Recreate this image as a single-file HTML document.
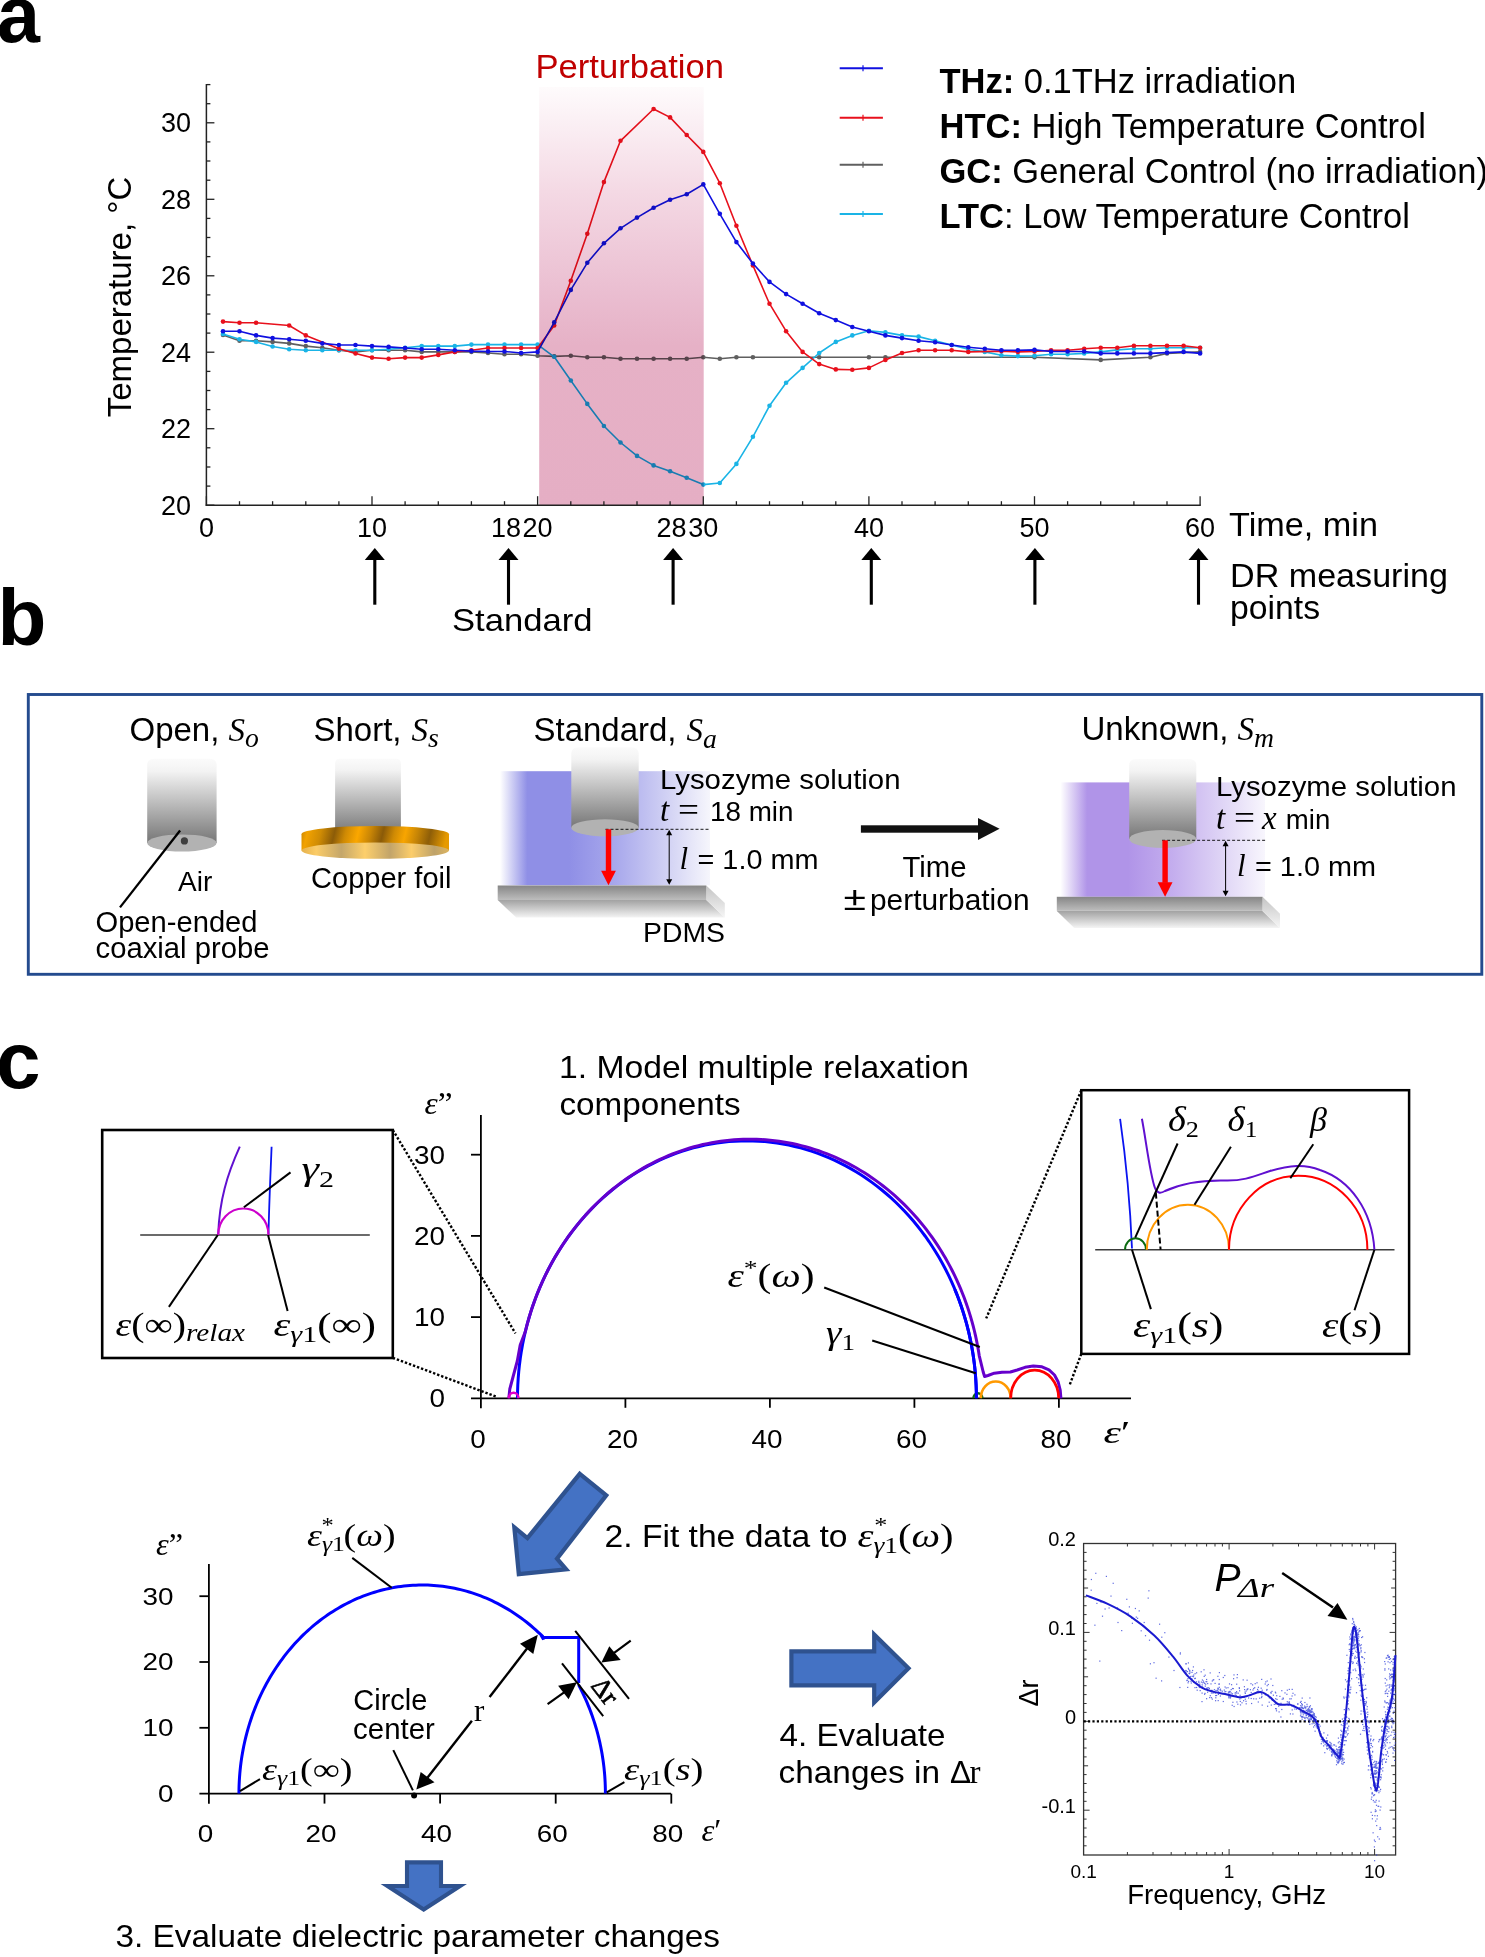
<!DOCTYPE html>
<html><head><meta charset="utf-8"><style>
html,body{margin:0;padding:0;background:#fff;}
body{width:1485px;height:1957px;overflow:hidden;}
svg{display:block;}
</style></head><body>
<svg width="1485" height="1957" viewBox="0 0 1485 1957">
<defs><linearGradient id="pinkg" x1="0" y1="0" x2="0" y2="1"><stop offset="0" stop-color="#fefbfc"/><stop offset="0.25" stop-color="#f4d9e4"/><stop offset="0.5" stop-color="#eabdd0"/><stop offset="0.62" stop-color="#e6b1c6"/><stop offset="1" stop-color="#e5aec4"/></linearGradient><linearGradient id="cylg" x1="0" y1="0" x2="0" y2="1"><stop offset="0" stop-color="#fbfbfb"/><stop offset="0.15" stop-color="#f3f3f3"/><stop offset="0.5" stop-color="#c0c0c0"/><stop offset="1" stop-color="#767676"/></linearGradient><linearGradient id="slab1" x1="0" y1="0" x2="0" y2="1"><stop offset="0" stop-color="#868686"/><stop offset="1" stop-color="#bdbdbd"/></linearGradient><linearGradient id="slab2" x1="0" y1="0" x2="0" y2="1"><stop offset="0" stop-color="#a2a2a2"/><stop offset="1" stop-color="#f4f4f4"/></linearGradient><linearGradient id="slab3" x1="0" y1="0" x2="0" y2="1"><stop offset="0" stop-color="#c4c4c4"/><stop offset="1" stop-color="#f6f6f6"/></linearGradient><linearGradient id="solb" x1="0" y1="0" x2="1" y2="0"><stop offset="0" stop-color="#ffffff"/><stop offset="0.13" stop-color="#8f8fe6"/><stop offset="0.33" stop-color="#8f8fe6"/><stop offset="0.55" stop-color="#a8a8ec"/><stop offset="0.8" stop-color="#d2d2f4"/><stop offset="1" stop-color="#f6f6fc"/></linearGradient><linearGradient id="solp" x1="0" y1="0" x2="1" y2="0"><stop offset="0" stop-color="#ffffff"/><stop offset="0.13" stop-color="#b094e8"/><stop offset="0.33" stop-color="#b094e8"/><stop offset="0.55" stop-color="#c4aeee"/><stop offset="0.8" stop-color="#e0d6f6"/><stop offset="1" stop-color="#f8f6fd"/></linearGradient><linearGradient id="foilside" x1="0" y1="0" x2="1" y2="0.04"><stop offset="0" stop-color="#c98400"/><stop offset="0.05" stop-color="#f2a200"/><stop offset="0.14" stop-color="#d08c04"/><stop offset="0.234" stop-color="#8c5c08"/><stop offset="0.31" stop-color="#cf8a04"/><stop offset="0.395" stop-color="#fba700"/><stop offset="0.48" stop-color="#c88506"/><stop offset="0.562" stop-color="#8a5a08"/><stop offset="0.64" stop-color="#cf8a04"/><stop offset="0.715" stop-color="#f8a500"/><stop offset="0.8" stop-color="#c58406"/><stop offset="0.884" stop-color="#8e5e08"/><stop offset="1" stop-color="#e69a00"/></linearGradient><linearGradient id="foilface" x1="0" y1="0" x2="1" y2="0"><stop offset="0" stop-color="#e6b24c"/><stop offset="0.1" stop-color="#fbcc68"/><stop offset="0.27" stop-color="#c4a66a"/><stop offset="0.43" stop-color="#fdcf6c"/><stop offset="0.6" stop-color="#c2a46a"/><stop offset="0.745" stop-color="#fccd6a"/><stop offset="0.9" stop-color="#bea26a"/><stop offset="1" stop-color="#dcb460"/></linearGradient></defs>
<rect width="1485" height="1957" fill="#fff"/>
<text x="-3" y="42" font-size="80" font-weight="bold" font-family='"Liberation Sans", sans-serif' textLength="43" lengthAdjust="spacingAndGlyphs">a</text>
<g><polyline points="223.0,335.0 239.5,340.8 256.1,340.8 272.6,341.9 289.2,343.4 305.8,346.1 322.3,347.7 338.9,350.3 355.5,351.9 372.0,350.3 388.6,350.3 405.1,350.3 421.7,351.9 438.3,351.9 454.8,351.9 471.4,351.9 488.0,353.0 504.5,354.2 521.1,354.2 537.6,355.7 554.2,356.4 570.8,355.7 587.3,357.2 603.9,357.2 620.5,358.7 637.0,358.7 653.6,358.7 670.1,358.7 686.7,358.7 703.3,357.2 719.8,358.7 736.4,357.2 752.9,357.2 819.2,357.2 868.9,357.2 885.4,357.2 1034.5,357.2 1100.7,359.9 1150.4,357.2 1167.0,353.4 1200.1,351.9" fill="none" stroke="#5f5f5f" stroke-width="1.6" stroke-linejoin="round"/><circle cx="223.0" cy="335.0" r="2.3" fill="#5f5f5f"/><circle cx="239.5" cy="340.8" r="2.3" fill="#5f5f5f"/><circle cx="256.1" cy="340.8" r="2.3" fill="#5f5f5f"/><circle cx="272.6" cy="341.9" r="2.3" fill="#5f5f5f"/><circle cx="289.2" cy="343.4" r="2.3" fill="#5f5f5f"/><circle cx="305.8" cy="346.1" r="2.3" fill="#5f5f5f"/><circle cx="322.3" cy="347.7" r="2.3" fill="#5f5f5f"/><circle cx="338.9" cy="350.3" r="2.3" fill="#5f5f5f"/><circle cx="355.5" cy="351.9" r="2.3" fill="#5f5f5f"/><circle cx="372.0" cy="350.3" r="2.3" fill="#5f5f5f"/><circle cx="388.6" cy="350.3" r="2.3" fill="#5f5f5f"/><circle cx="405.1" cy="350.3" r="2.3" fill="#5f5f5f"/><circle cx="421.7" cy="351.9" r="2.3" fill="#5f5f5f"/><circle cx="438.3" cy="351.9" r="2.3" fill="#5f5f5f"/><circle cx="454.8" cy="351.9" r="2.3" fill="#5f5f5f"/><circle cx="471.4" cy="351.9" r="2.3" fill="#5f5f5f"/><circle cx="488.0" cy="353.0" r="2.3" fill="#5f5f5f"/><circle cx="504.5" cy="354.2" r="2.3" fill="#5f5f5f"/><circle cx="521.1" cy="354.2" r="2.3" fill="#5f5f5f"/><circle cx="537.6" cy="355.7" r="2.3" fill="#5f5f5f"/><circle cx="554.2" cy="356.4" r="2.3" fill="#5f5f5f"/><circle cx="570.8" cy="355.7" r="2.3" fill="#5f5f5f"/><circle cx="587.3" cy="357.2" r="2.3" fill="#5f5f5f"/><circle cx="603.9" cy="357.2" r="2.3" fill="#5f5f5f"/><circle cx="620.5" cy="358.7" r="2.3" fill="#5f5f5f"/><circle cx="637.0" cy="358.7" r="2.3" fill="#5f5f5f"/><circle cx="653.6" cy="358.7" r="2.3" fill="#5f5f5f"/><circle cx="670.1" cy="358.7" r="2.3" fill="#5f5f5f"/><circle cx="686.7" cy="358.7" r="2.3" fill="#5f5f5f"/><circle cx="703.3" cy="357.2" r="2.3" fill="#5f5f5f"/><circle cx="719.8" cy="358.7" r="2.3" fill="#5f5f5f"/><circle cx="736.4" cy="357.2" r="2.3" fill="#5f5f5f"/><circle cx="752.9" cy="357.2" r="2.3" fill="#5f5f5f"/><circle cx="819.2" cy="357.2" r="2.3" fill="#5f5f5f"/><circle cx="868.9" cy="357.2" r="2.3" fill="#5f5f5f"/><circle cx="885.4" cy="357.2" r="2.3" fill="#5f5f5f"/><circle cx="1034.5" cy="357.2" r="2.3" fill="#5f5f5f"/><circle cx="1100.7" cy="359.9" r="2.3" fill="#5f5f5f"/><circle cx="1150.4" cy="357.2" r="2.3" fill="#5f5f5f"/><circle cx="1167.0" cy="353.4" r="2.3" fill="#5f5f5f"/><circle cx="1200.1" cy="351.9" r="2.3" fill="#5f5f5f"/><polyline points="223.0,333.9 239.5,339.2 256.1,341.9 272.6,346.5 289.2,349.2 305.8,350.3 322.3,350.3 338.9,350.3 355.5,350.3 372.0,350.3 388.6,349.2 405.1,347.7 421.7,346.1 438.3,346.1 454.8,346.1 471.4,344.6 488.0,344.6 504.5,344.6 521.1,344.6 537.6,344.6 554.2,356.8 570.8,380.5 587.3,403.9 603.9,426.0 620.5,442.5 637.0,455.9 653.6,465.4 670.1,471.2 686.7,477.7 703.3,484.6 719.8,483.0 736.4,463.9 752.9,436.8 769.5,405.8 786.1,382.8 802.6,367.9 819.2,353.0 835.8,341.9 852.3,335.4 868.9,330.8 885.4,332.4 902.0,335.4 918.6,336.6 935.1,340.8 951.7,345.0 968.3,349.2 984.8,351.9 1001.4,355.3 1017.9,356.1 1034.5,355.7 1051.1,354.2 1067.6,354.2 1084.2,353.4 1100.7,351.9 1117.3,349.9 1133.9,348.8 1150.4,348.8 1167.0,347.7 1183.6,347.7 1200.1,347.7" fill="none" stroke="#1ab4e6" stroke-width="1.6" stroke-linejoin="round"/><circle cx="223.0" cy="333.9" r="2.3" fill="#1ab4e6"/><circle cx="239.5" cy="339.2" r="2.3" fill="#1ab4e6"/><circle cx="256.1" cy="341.9" r="2.3" fill="#1ab4e6"/><circle cx="272.6" cy="346.5" r="2.3" fill="#1ab4e6"/><circle cx="289.2" cy="349.2" r="2.3" fill="#1ab4e6"/><circle cx="305.8" cy="350.3" r="2.3" fill="#1ab4e6"/><circle cx="322.3" cy="350.3" r="2.3" fill="#1ab4e6"/><circle cx="338.9" cy="350.3" r="2.3" fill="#1ab4e6"/><circle cx="355.5" cy="350.3" r="2.3" fill="#1ab4e6"/><circle cx="372.0" cy="350.3" r="2.3" fill="#1ab4e6"/><circle cx="388.6" cy="349.2" r="2.3" fill="#1ab4e6"/><circle cx="405.1" cy="347.7" r="2.3" fill="#1ab4e6"/><circle cx="421.7" cy="346.1" r="2.3" fill="#1ab4e6"/><circle cx="438.3" cy="346.1" r="2.3" fill="#1ab4e6"/><circle cx="454.8" cy="346.1" r="2.3" fill="#1ab4e6"/><circle cx="471.4" cy="344.6" r="2.3" fill="#1ab4e6"/><circle cx="488.0" cy="344.6" r="2.3" fill="#1ab4e6"/><circle cx="504.5" cy="344.6" r="2.3" fill="#1ab4e6"/><circle cx="521.1" cy="344.6" r="2.3" fill="#1ab4e6"/><circle cx="537.6" cy="344.6" r="2.3" fill="#1ab4e6"/><circle cx="554.2" cy="356.8" r="2.3" fill="#1ab4e6"/><circle cx="570.8" cy="380.5" r="2.3" fill="#1ab4e6"/><circle cx="587.3" cy="403.9" r="2.3" fill="#1ab4e6"/><circle cx="603.9" cy="426.0" r="2.3" fill="#1ab4e6"/><circle cx="620.5" cy="442.5" r="2.3" fill="#1ab4e6"/><circle cx="637.0" cy="455.9" r="2.3" fill="#1ab4e6"/><circle cx="653.6" cy="465.4" r="2.3" fill="#1ab4e6"/><circle cx="670.1" cy="471.2" r="2.3" fill="#1ab4e6"/><circle cx="686.7" cy="477.7" r="2.3" fill="#1ab4e6"/><circle cx="703.3" cy="484.6" r="2.3" fill="#1ab4e6"/><circle cx="719.8" cy="483.0" r="2.3" fill="#1ab4e6"/><circle cx="736.4" cy="463.9" r="2.3" fill="#1ab4e6"/><circle cx="752.9" cy="436.8" r="2.3" fill="#1ab4e6"/><circle cx="769.5" cy="405.8" r="2.3" fill="#1ab4e6"/><circle cx="786.1" cy="382.8" r="2.3" fill="#1ab4e6"/><circle cx="802.6" cy="367.9" r="2.3" fill="#1ab4e6"/><circle cx="819.2" cy="353.0" r="2.3" fill="#1ab4e6"/><circle cx="835.8" cy="341.9" r="2.3" fill="#1ab4e6"/><circle cx="852.3" cy="335.4" r="2.3" fill="#1ab4e6"/><circle cx="868.9" cy="330.8" r="2.3" fill="#1ab4e6"/><circle cx="885.4" cy="332.4" r="2.3" fill="#1ab4e6"/><circle cx="902.0" cy="335.4" r="2.3" fill="#1ab4e6"/><circle cx="918.6" cy="336.6" r="2.3" fill="#1ab4e6"/><circle cx="935.1" cy="340.8" r="2.3" fill="#1ab4e6"/><circle cx="951.7" cy="345.0" r="2.3" fill="#1ab4e6"/><circle cx="968.3" cy="349.2" r="2.3" fill="#1ab4e6"/><circle cx="984.8" cy="351.9" r="2.3" fill="#1ab4e6"/><circle cx="1001.4" cy="355.3" r="2.3" fill="#1ab4e6"/><circle cx="1017.9" cy="356.1" r="2.3" fill="#1ab4e6"/><circle cx="1034.5" cy="355.7" r="2.3" fill="#1ab4e6"/><circle cx="1051.1" cy="354.2" r="2.3" fill="#1ab4e6"/><circle cx="1067.6" cy="354.2" r="2.3" fill="#1ab4e6"/><circle cx="1084.2" cy="353.4" r="2.3" fill="#1ab4e6"/><circle cx="1100.7" cy="351.9" r="2.3" fill="#1ab4e6"/><circle cx="1117.3" cy="349.9" r="2.3" fill="#1ab4e6"/><circle cx="1133.9" cy="348.8" r="2.3" fill="#1ab4e6"/><circle cx="1150.4" cy="348.8" r="2.3" fill="#1ab4e6"/><circle cx="1167.0" cy="347.7" r="2.3" fill="#1ab4e6"/><circle cx="1183.6" cy="347.7" r="2.3" fill="#1ab4e6"/><circle cx="1200.1" cy="347.7" r="2.3" fill="#1ab4e6"/><polyline points="223.0,321.6 239.5,322.8 256.1,322.8 289.2,325.5 305.8,335.4 338.9,348.8 355.5,353.4 372.0,357.6 388.6,358.7 405.1,357.6 421.7,357.6 438.3,354.9 454.8,351.9 471.4,350.3 488.0,348.0 504.5,348.0 521.1,348.0 537.6,348.0 554.2,325.5 570.8,280.7 587.3,233.7 603.9,182.1 620.5,140.8 653.6,109.0 670.1,117.4 686.7,135.0 703.3,151.9 719.8,183.2 736.4,225.7 752.9,265.4 769.5,303.7 786.1,331.2 802.6,351.9 819.2,364.1 835.8,369.4 852.3,369.8 868.9,367.9 885.4,359.9 902.0,353.0 918.6,350.3 935.1,350.3 951.7,350.3 968.3,351.9 1001.4,351.1 1017.9,351.9 1034.5,351.5 1051.1,350.3 1067.6,350.3 1084.2,348.8 1100.7,347.7 1117.3,347.7 1133.9,345.7 1150.4,345.7 1167.0,345.7 1183.6,345.7 1200.1,347.7" fill="none" stroke="#e8101c" stroke-width="1.6" stroke-linejoin="round"/><circle cx="223.0" cy="321.6" r="2.3" fill="#e8101c"/><circle cx="239.5" cy="322.8" r="2.3" fill="#e8101c"/><circle cx="256.1" cy="322.8" r="2.3" fill="#e8101c"/><circle cx="289.2" cy="325.5" r="2.3" fill="#e8101c"/><circle cx="305.8" cy="335.4" r="2.3" fill="#e8101c"/><circle cx="338.9" cy="348.8" r="2.3" fill="#e8101c"/><circle cx="355.5" cy="353.4" r="2.3" fill="#e8101c"/><circle cx="372.0" cy="357.6" r="2.3" fill="#e8101c"/><circle cx="388.6" cy="358.7" r="2.3" fill="#e8101c"/><circle cx="405.1" cy="357.6" r="2.3" fill="#e8101c"/><circle cx="421.7" cy="357.6" r="2.3" fill="#e8101c"/><circle cx="438.3" cy="354.9" r="2.3" fill="#e8101c"/><circle cx="454.8" cy="351.9" r="2.3" fill="#e8101c"/><circle cx="471.4" cy="350.3" r="2.3" fill="#e8101c"/><circle cx="488.0" cy="348.0" r="2.3" fill="#e8101c"/><circle cx="504.5" cy="348.0" r="2.3" fill="#e8101c"/><circle cx="521.1" cy="348.0" r="2.3" fill="#e8101c"/><circle cx="537.6" cy="348.0" r="2.3" fill="#e8101c"/><circle cx="554.2" cy="325.5" r="2.3" fill="#e8101c"/><circle cx="570.8" cy="280.7" r="2.3" fill="#e8101c"/><circle cx="587.3" cy="233.7" r="2.3" fill="#e8101c"/><circle cx="603.9" cy="182.1" r="2.3" fill="#e8101c"/><circle cx="620.5" cy="140.8" r="2.3" fill="#e8101c"/><circle cx="653.6" cy="109.0" r="2.3" fill="#e8101c"/><circle cx="670.1" cy="117.4" r="2.3" fill="#e8101c"/><circle cx="686.7" cy="135.0" r="2.3" fill="#e8101c"/><circle cx="703.3" cy="151.9" r="2.3" fill="#e8101c"/><circle cx="719.8" cy="183.2" r="2.3" fill="#e8101c"/><circle cx="736.4" cy="225.7" r="2.3" fill="#e8101c"/><circle cx="752.9" cy="265.4" r="2.3" fill="#e8101c"/><circle cx="769.5" cy="303.7" r="2.3" fill="#e8101c"/><circle cx="786.1" cy="331.2" r="2.3" fill="#e8101c"/><circle cx="802.6" cy="351.9" r="2.3" fill="#e8101c"/><circle cx="819.2" cy="364.1" r="2.3" fill="#e8101c"/><circle cx="835.8" cy="369.4" r="2.3" fill="#e8101c"/><circle cx="852.3" cy="369.8" r="2.3" fill="#e8101c"/><circle cx="868.9" cy="367.9" r="2.3" fill="#e8101c"/><circle cx="885.4" cy="359.9" r="2.3" fill="#e8101c"/><circle cx="902.0" cy="353.0" r="2.3" fill="#e8101c"/><circle cx="918.6" cy="350.3" r="2.3" fill="#e8101c"/><circle cx="935.1" cy="350.3" r="2.3" fill="#e8101c"/><circle cx="951.7" cy="350.3" r="2.3" fill="#e8101c"/><circle cx="968.3" cy="351.9" r="2.3" fill="#e8101c"/><circle cx="1001.4" cy="351.1" r="2.3" fill="#e8101c"/><circle cx="1017.9" cy="351.9" r="2.3" fill="#e8101c"/><circle cx="1034.5" cy="351.5" r="2.3" fill="#e8101c"/><circle cx="1051.1" cy="350.3" r="2.3" fill="#e8101c"/><circle cx="1067.6" cy="350.3" r="2.3" fill="#e8101c"/><circle cx="1084.2" cy="348.8" r="2.3" fill="#e8101c"/><circle cx="1100.7" cy="347.7" r="2.3" fill="#e8101c"/><circle cx="1117.3" cy="347.7" r="2.3" fill="#e8101c"/><circle cx="1133.9" cy="345.7" r="2.3" fill="#e8101c"/><circle cx="1150.4" cy="345.7" r="2.3" fill="#e8101c"/><circle cx="1167.0" cy="345.7" r="2.3" fill="#e8101c"/><circle cx="1183.6" cy="345.7" r="2.3" fill="#e8101c"/><circle cx="1200.1" cy="347.7" r="2.3" fill="#e8101c"/><polyline points="223.0,331.2 239.5,331.2 256.1,335.4 272.6,338.1 289.2,339.2 305.8,340.8 322.3,343.4 338.9,345.0 355.5,345.0 372.0,346.1 388.6,346.9 405.1,348.0 421.7,349.2 438.3,349.2 454.8,350.3 471.4,351.1 488.0,351.5 504.5,351.5 521.1,353.0 537.6,351.9 554.2,322.4 570.8,289.9 587.3,262.8 603.9,243.3 620.5,228.3 637.0,217.6 653.6,207.7 670.1,199.7 686.7,194.3 703.3,184.4 719.8,213.8 736.4,242.1 752.9,263.5 769.5,281.9 786.1,294.1 802.6,303.7 819.2,313.2 835.8,320.1 852.3,327.0 868.9,331.2 885.4,335.4 902.0,338.1 918.6,340.8 935.1,342.3 951.7,345.0 968.3,347.3 984.8,348.8 1001.4,350.3 1017.9,350.3 1034.5,349.9 1051.1,351.5 1067.6,351.5 1084.2,351.5 1100.7,353.4 1117.3,353.4 1133.9,353.4 1150.4,353.4 1167.0,352.6 1183.6,351.9 1200.1,353.4" fill="none" stroke="#1010e0" stroke-width="1.6" stroke-linejoin="round"/><circle cx="223.0" cy="331.2" r="2.3" fill="#1010e0"/><circle cx="239.5" cy="331.2" r="2.3" fill="#1010e0"/><circle cx="256.1" cy="335.4" r="2.3" fill="#1010e0"/><circle cx="272.6" cy="338.1" r="2.3" fill="#1010e0"/><circle cx="289.2" cy="339.2" r="2.3" fill="#1010e0"/><circle cx="305.8" cy="340.8" r="2.3" fill="#1010e0"/><circle cx="322.3" cy="343.4" r="2.3" fill="#1010e0"/><circle cx="338.9" cy="345.0" r="2.3" fill="#1010e0"/><circle cx="355.5" cy="345.0" r="2.3" fill="#1010e0"/><circle cx="372.0" cy="346.1" r="2.3" fill="#1010e0"/><circle cx="388.6" cy="346.9" r="2.3" fill="#1010e0"/><circle cx="405.1" cy="348.0" r="2.3" fill="#1010e0"/><circle cx="421.7" cy="349.2" r="2.3" fill="#1010e0"/><circle cx="438.3" cy="349.2" r="2.3" fill="#1010e0"/><circle cx="454.8" cy="350.3" r="2.3" fill="#1010e0"/><circle cx="471.4" cy="351.1" r="2.3" fill="#1010e0"/><circle cx="488.0" cy="351.5" r="2.3" fill="#1010e0"/><circle cx="504.5" cy="351.5" r="2.3" fill="#1010e0"/><circle cx="521.1" cy="353.0" r="2.3" fill="#1010e0"/><circle cx="537.6" cy="351.9" r="2.3" fill="#1010e0"/><circle cx="554.2" cy="322.4" r="2.3" fill="#1010e0"/><circle cx="570.8" cy="289.9" r="2.3" fill="#1010e0"/><circle cx="587.3" cy="262.8" r="2.3" fill="#1010e0"/><circle cx="603.9" cy="243.3" r="2.3" fill="#1010e0"/><circle cx="620.5" cy="228.3" r="2.3" fill="#1010e0"/><circle cx="637.0" cy="217.6" r="2.3" fill="#1010e0"/><circle cx="653.6" cy="207.7" r="2.3" fill="#1010e0"/><circle cx="670.1" cy="199.7" r="2.3" fill="#1010e0"/><circle cx="686.7" cy="194.3" r="2.3" fill="#1010e0"/><circle cx="703.3" cy="184.4" r="2.3" fill="#1010e0"/><circle cx="719.8" cy="213.8" r="2.3" fill="#1010e0"/><circle cx="736.4" cy="242.1" r="2.3" fill="#1010e0"/><circle cx="752.9" cy="263.5" r="2.3" fill="#1010e0"/><circle cx="769.5" cy="281.9" r="2.3" fill="#1010e0"/><circle cx="786.1" cy="294.1" r="2.3" fill="#1010e0"/><circle cx="802.6" cy="303.7" r="2.3" fill="#1010e0"/><circle cx="819.2" cy="313.2" r="2.3" fill="#1010e0"/><circle cx="835.8" cy="320.1" r="2.3" fill="#1010e0"/><circle cx="852.3" cy="327.0" r="2.3" fill="#1010e0"/><circle cx="868.9" cy="331.2" r="2.3" fill="#1010e0"/><circle cx="885.4" cy="335.4" r="2.3" fill="#1010e0"/><circle cx="902.0" cy="338.1" r="2.3" fill="#1010e0"/><circle cx="918.6" cy="340.8" r="2.3" fill="#1010e0"/><circle cx="935.1" cy="342.3" r="2.3" fill="#1010e0"/><circle cx="951.7" cy="345.0" r="2.3" fill="#1010e0"/><circle cx="968.3" cy="347.3" r="2.3" fill="#1010e0"/><circle cx="984.8" cy="348.8" r="2.3" fill="#1010e0"/><circle cx="1001.4" cy="350.3" r="2.3" fill="#1010e0"/><circle cx="1017.9" cy="350.3" r="2.3" fill="#1010e0"/><circle cx="1034.5" cy="349.9" r="2.3" fill="#1010e0"/><circle cx="1051.1" cy="351.5" r="2.3" fill="#1010e0"/><circle cx="1067.6" cy="351.5" r="2.3" fill="#1010e0"/><circle cx="1084.2" cy="351.5" r="2.3" fill="#1010e0"/><circle cx="1100.7" cy="353.4" r="2.3" fill="#1010e0"/><circle cx="1117.3" cy="353.4" r="2.3" fill="#1010e0"/><circle cx="1133.9" cy="353.4" r="2.3" fill="#1010e0"/><circle cx="1150.4" cy="353.4" r="2.3" fill="#1010e0"/><circle cx="1167.0" cy="352.6" r="2.3" fill="#1010e0"/><circle cx="1183.6" cy="351.9" r="2.3" fill="#1010e0"/><circle cx="1200.1" cy="353.4" r="2.3" fill="#1010e0"/></g>
<rect x="539.2" y="87" width="164.5" height="418.2" fill="url(#pinkg)" style="mix-blend-mode:multiply"/>
<line x1="206.4" y1="84" x2="206.4" y2="505.9" stroke="#222" stroke-width="1.5"/>
<line x1="205.70000000000002" y1="505.2" x2="1200.8200000000002" y2="505.2" stroke="#222" stroke-width="1.5"/>
<line x1="206.4" y1="505.2" x2="214.4" y2="505.2" stroke="#222" stroke-width="1.3"/>
<line x1="206.4" y1="486.1" x2="210.4" y2="486.1" stroke="#222" stroke-width="1.3"/>
<line x1="206.4" y1="467.0" x2="210.4" y2="467.0" stroke="#222" stroke-width="1.3"/>
<line x1="206.4" y1="447.8" x2="210.4" y2="447.8" stroke="#222" stroke-width="1.3"/>
<line x1="206.4" y1="428.7" x2="214.4" y2="428.7" stroke="#222" stroke-width="1.3"/>
<line x1="206.4" y1="409.6" x2="210.4" y2="409.6" stroke="#222" stroke-width="1.3"/>
<line x1="206.4" y1="390.5" x2="210.4" y2="390.5" stroke="#222" stroke-width="1.3"/>
<line x1="206.4" y1="371.4" x2="210.4" y2="371.4" stroke="#222" stroke-width="1.3"/>
<line x1="206.4" y1="352.2" x2="214.4" y2="352.2" stroke="#222" stroke-width="1.3"/>
<line x1="206.4" y1="333.1" x2="210.4" y2="333.1" stroke="#222" stroke-width="1.3"/>
<line x1="206.4" y1="314.0" x2="210.4" y2="314.0" stroke="#222" stroke-width="1.3"/>
<line x1="206.4" y1="294.9" x2="210.4" y2="294.9" stroke="#222" stroke-width="1.3"/>
<line x1="206.4" y1="275.8" x2="214.4" y2="275.8" stroke="#222" stroke-width="1.3"/>
<line x1="206.4" y1="256.6" x2="210.4" y2="256.6" stroke="#222" stroke-width="1.3"/>
<line x1="206.4" y1="237.5" x2="210.4" y2="237.5" stroke="#222" stroke-width="1.3"/>
<line x1="206.4" y1="218.4" x2="210.4" y2="218.4" stroke="#222" stroke-width="1.3"/>
<line x1="206.4" y1="199.3" x2="214.4" y2="199.3" stroke="#222" stroke-width="1.3"/>
<line x1="206.4" y1="180.2" x2="210.4" y2="180.2" stroke="#222" stroke-width="1.3"/>
<line x1="206.4" y1="161.0" x2="210.4" y2="161.0" stroke="#222" stroke-width="1.3"/>
<line x1="206.4" y1="141.9" x2="210.4" y2="141.9" stroke="#222" stroke-width="1.3"/>
<line x1="206.4" y1="122.8" x2="214.4" y2="122.8" stroke="#222" stroke-width="1.3"/>
<line x1="206.4" y1="103.7" x2="210.4" y2="103.7" stroke="#222" stroke-width="1.3"/>
<line x1="206.4" y1="84.6" x2="210.4" y2="84.6" stroke="#222" stroke-width="1.3"/>
<text x="191" y="514.7" font-size="27" text-anchor="end" font-weight="normal" font-style="normal" fill="#000" font-family='"Liberation Sans", sans-serif' >20</text>
<text x="191" y="438.2" font-size="27" text-anchor="end" font-weight="normal" font-style="normal" fill="#000" font-family='"Liberation Sans", sans-serif' >22</text>
<text x="191" y="361.7" font-size="27" text-anchor="end" font-weight="normal" font-style="normal" fill="#000" font-family='"Liberation Sans", sans-serif' >24</text>
<text x="191" y="285.3" font-size="27" text-anchor="end" font-weight="normal" font-style="normal" fill="#000" font-family='"Liberation Sans", sans-serif' >26</text>
<text x="191" y="208.8" font-size="27" text-anchor="end" font-weight="normal" font-style="normal" fill="#000" font-family='"Liberation Sans", sans-serif' >28</text>
<text x="191" y="132.3" font-size="27" text-anchor="end" font-weight="normal" font-style="normal" fill="#000" font-family='"Liberation Sans", sans-serif' >30</text>
<line x1="206.4" y1="505.2" x2="206.4" y2="496.2" stroke="#222" stroke-width="1.3"/>
<line x1="239.5" y1="505.2" x2="239.5" y2="501.2" stroke="#222" stroke-width="1.3"/>
<line x1="272.6" y1="505.2" x2="272.6" y2="501.2" stroke="#222" stroke-width="1.3"/>
<line x1="305.8" y1="505.2" x2="305.8" y2="501.2" stroke="#222" stroke-width="1.3"/>
<line x1="338.9" y1="505.2" x2="338.9" y2="501.2" stroke="#222" stroke-width="1.3"/>
<line x1="372.0" y1="505.2" x2="372.0" y2="496.2" stroke="#222" stroke-width="1.3"/>
<line x1="405.1" y1="505.2" x2="405.1" y2="501.2" stroke="#222" stroke-width="1.3"/>
<line x1="438.3" y1="505.2" x2="438.3" y2="501.2" stroke="#222" stroke-width="1.3"/>
<line x1="471.4" y1="505.2" x2="471.4" y2="501.2" stroke="#222" stroke-width="1.3"/>
<line x1="504.5" y1="505.2" x2="504.5" y2="501.2" stroke="#222" stroke-width="1.3"/>
<line x1="537.6" y1="505.2" x2="537.6" y2="496.2" stroke="#222" stroke-width="1.3"/>
<line x1="570.8" y1="505.2" x2="570.8" y2="501.2" stroke="#222" stroke-width="1.3"/>
<line x1="603.9" y1="505.2" x2="603.9" y2="501.2" stroke="#222" stroke-width="1.3"/>
<line x1="637.0" y1="505.2" x2="637.0" y2="501.2" stroke="#222" stroke-width="1.3"/>
<line x1="670.1" y1="505.2" x2="670.1" y2="501.2" stroke="#222" stroke-width="1.3"/>
<line x1="703.3" y1="505.2" x2="703.3" y2="496.2" stroke="#222" stroke-width="1.3"/>
<line x1="736.4" y1="505.2" x2="736.4" y2="501.2" stroke="#222" stroke-width="1.3"/>
<line x1="769.5" y1="505.2" x2="769.5" y2="501.2" stroke="#222" stroke-width="1.3"/>
<line x1="802.6" y1="505.2" x2="802.6" y2="501.2" stroke="#222" stroke-width="1.3"/>
<line x1="835.8" y1="505.2" x2="835.8" y2="501.2" stroke="#222" stroke-width="1.3"/>
<line x1="868.9" y1="505.2" x2="868.9" y2="496.2" stroke="#222" stroke-width="1.3"/>
<line x1="902.0" y1="505.2" x2="902.0" y2="501.2" stroke="#222" stroke-width="1.3"/>
<line x1="935.1" y1="505.2" x2="935.1" y2="501.2" stroke="#222" stroke-width="1.3"/>
<line x1="968.3" y1="505.2" x2="968.3" y2="501.2" stroke="#222" stroke-width="1.3"/>
<line x1="1001.4" y1="505.2" x2="1001.4" y2="501.2" stroke="#222" stroke-width="1.3"/>
<line x1="1034.5" y1="505.2" x2="1034.5" y2="496.2" stroke="#222" stroke-width="1.3"/>
<line x1="1067.6" y1="505.2" x2="1067.6" y2="501.2" stroke="#222" stroke-width="1.3"/>
<line x1="1100.7" y1="505.2" x2="1100.7" y2="501.2" stroke="#222" stroke-width="1.3"/>
<line x1="1133.9" y1="505.2" x2="1133.9" y2="501.2" stroke="#222" stroke-width="1.3"/>
<line x1="1167.0" y1="505.2" x2="1167.0" y2="501.2" stroke="#222" stroke-width="1.3"/>
<line x1="1200.1" y1="505.2" x2="1200.1" y2="496.2" stroke="#222" stroke-width="1.3"/>
<text x="206.4" y="536.5" font-size="27" text-anchor="middle" font-weight="normal" font-style="normal" fill="#000" font-family='"Liberation Sans", sans-serif' >0</text>
<text x="372.0" y="536.5" font-size="27" text-anchor="middle" font-weight="normal" font-style="normal" fill="#000" font-family='"Liberation Sans", sans-serif' >10</text>
<text x="537.6" y="536.5" font-size="27" text-anchor="middle" font-weight="normal" font-style="normal" fill="#000" font-family='"Liberation Sans", sans-serif' >20</text>
<text x="703.3" y="536.5" font-size="27" text-anchor="middle" font-weight="normal" font-style="normal" fill="#000" font-family='"Liberation Sans", sans-serif' >30</text>
<text x="868.9" y="536.5" font-size="27" text-anchor="middle" font-weight="normal" font-style="normal" fill="#000" font-family='"Liberation Sans", sans-serif' >40</text>
<text x="1034.5" y="536.5" font-size="27" text-anchor="middle" font-weight="normal" font-style="normal" fill="#000" font-family='"Liberation Sans", sans-serif' >50</text>
<text x="1200.1" y="536.5" font-size="27" text-anchor="middle" font-weight="normal" font-style="normal" fill="#000" font-family='"Liberation Sans", sans-serif' >60</text>
<text x="506.0" y="536.5" font-size="27" text-anchor="middle" font-weight="normal" font-style="normal" fill="#000" font-family='"Liberation Sans", sans-serif' >18</text>
<text x="671.6" y="536.5" font-size="27" text-anchor="middle" font-weight="normal" font-style="normal" fill="#000" font-family='"Liberation Sans", sans-serif' >28</text>
<text transform="translate(131,297) rotate(-90)" font-size="33" text-anchor="middle" font-family='"Liberation Sans", sans-serif'>Temperature, °C</text>
<text x="1229" y="535.8" font-size="33.5" text-anchor="start" font-weight="normal" font-style="normal" fill="#000" font-family='"Liberation Sans", sans-serif' textLength="149" lengthAdjust="spacingAndGlyphs">Time, min</text>
<text x="1230" y="586.7" font-size="33" text-anchor="start" font-weight="normal" font-style="normal" fill="#000" font-family='"Liberation Sans", sans-serif' textLength="218" lengthAdjust="spacingAndGlyphs">DR measuring</text>
<text x="1230" y="618.8" font-size="33" text-anchor="start" font-weight="normal" font-style="normal" fill="#000" font-family='"Liberation Sans", sans-serif' textLength="90" lengthAdjust="spacingAndGlyphs">points</text>
<text x="535.5" y="77.8" font-size="34" text-anchor="start" font-weight="normal" font-style="normal" fill="#c00000" font-family='"Liberation Sans", sans-serif' textLength="188.5" lengthAdjust="spacingAndGlyphs">Perturbation</text>
<line x1="374.8" y1="558" x2="374.8" y2="604.7" stroke="#000" stroke-width="3.1"/>
<polygon points="364.8,560 374.8,548 384.8,560" fill="#000"/>
<line x1="508.5" y1="558" x2="508.5" y2="604.7" stroke="#000" stroke-width="3.1"/>
<polygon points="498.5,560 508.5,548 518.5,560" fill="#000"/>
<line x1="673.1" y1="558" x2="673.1" y2="604.7" stroke="#000" stroke-width="3.1"/>
<polygon points="663.1,560 673.1,548 683.1,560" fill="#000"/>
<line x1="871.3" y1="558" x2="871.3" y2="604.7" stroke="#000" stroke-width="3.1"/>
<polygon points="861.3,560 871.3,548 881.3,560" fill="#000"/>
<line x1="1034.9" y1="558" x2="1034.9" y2="604.7" stroke="#000" stroke-width="3.1"/>
<polygon points="1024.9,560 1034.9,548 1044.9,560" fill="#000"/>
<line x1="1198.5" y1="558" x2="1198.5" y2="604.7" stroke="#000" stroke-width="3.1"/>
<polygon points="1188.5,560 1198.5,548 1208.5,560" fill="#000"/>
<text x="452" y="631.4" font-size="32" text-anchor="start" font-weight="normal" font-style="normal" fill="#000" font-family='"Liberation Sans", sans-serif' textLength="140.5" lengthAdjust="spacingAndGlyphs">Standard</text>
<line x1="839.7" y1="68.3" x2="882.9" y2="68.3" stroke="#1010e0" stroke-width="2"/>
<line x1="863" y1="65.3" x2="863" y2="71.3" stroke="#1010e0" stroke-width="1.2"/>
<text x="939.5" y="92.8" font-size="34.5" font-family='"Liberation Sans", sans-serif'><tspan font-weight="bold">THz:</tspan> 0.1THz irradiation</text>
<line x1="839.7" y1="117.8" x2="882.9" y2="117.8" stroke="#e8101c" stroke-width="2"/>
<line x1="863" y1="114.8" x2="863" y2="120.8" stroke="#e8101c" stroke-width="1.2"/>
<text x="939.5" y="137.8" font-size="34.5" font-family='"Liberation Sans", sans-serif'><tspan font-weight="bold">HTC:</tspan> High Temperature Control</text>
<line x1="839.7" y1="164.7" x2="882.9" y2="164.7" stroke="#5f5f5f" stroke-width="2"/>
<line x1="863" y1="161.7" x2="863" y2="167.7" stroke="#5f5f5f" stroke-width="1.2"/>
<text x="939.5" y="183.3" font-size="34.5" font-family='"Liberation Sans", sans-serif'><tspan font-weight="bold">GC:</tspan> General Control (no irradiation)</text>
<line x1="839.7" y1="214" x2="882.9" y2="214" stroke="#1ab4e6" stroke-width="2"/>
<line x1="863" y1="211" x2="863" y2="217" stroke="#1ab4e6" stroke-width="1.2"/>
<text x="939.5" y="228.3" font-size="34.5" font-family='"Liberation Sans", sans-serif'><tspan font-weight="bold">LTC</tspan>: Low Temperature Control</text>
<text x="-2.5" y="644.8" font-size="80" text-anchor="start" font-weight="bold" font-style="normal" fill="#000" font-family='"Liberation Sans", sans-serif' >b</text>
<rect x="28.3" y="694.5" width="1453.5" height="279.8" fill="none" stroke="#244b8e" stroke-width="2.9"/>
<text x="129.5" y="740.8" font-size="33" text-anchor="start" font-weight="normal" font-style="normal" fill="#000" font-family='"Liberation Sans", sans-serif'>Open,</text>
<text x="228.5" y="740.8" font-size="33" font-style="italic" font-family='"Liberation Serif", serif'>S<tspan font-size="27.7" dy="6.5">o</tspan></text>
<path d="M147.2,764.7 Q147.2,758.7 155.2,758.7 L208.6,758.7 Q216.6,758.7 216.6,764.7 L216.6,843.0 L147.2,843.0 Z" fill="url(#cylg)"/>
<ellipse cx="181.89999999999998" cy="843.0" rx="34.7" ry="8.6" fill="#b2b2b2"/>
<circle cx="184.4" cy="840.9" r="3.6" fill="#3f3f3f"/>
<line x1="180.1" y1="830.5" x2="120" y2="907.4" stroke="#000" stroke-width="2.3"/>
<text x="178" y="891" font-size="28" text-anchor="start" font-weight="normal" font-style="normal" fill="#000" font-family='"Liberation Sans", sans-serif'>Air</text>
<text x="95.5" y="931.8" font-size="29" text-anchor="start" font-weight="normal" font-style="normal" fill="#000" font-family='"Liberation Sans", sans-serif' textLength="162" lengthAdjust="spacingAndGlyphs">Open-ended</text>
<text x="95.5" y="957.5" font-size="29" text-anchor="start" font-weight="normal" font-style="normal" fill="#000" font-family='"Liberation Sans", sans-serif' textLength="174" lengthAdjust="spacingAndGlyphs">coaxial probe</text>
<text x="313.5" y="740.6" font-size="33" text-anchor="start" font-weight="normal" font-style="normal" fill="#000" font-family='"Liberation Sans", sans-serif'>Short,</text>
<text x="411.5" y="740.6" font-size="33" font-style="italic" font-family='"Liberation Serif", serif'>S<tspan font-size="27.7" dy="6.5">s</tspan></text>
<path d="M335.1,763.5 Q335.1,758.8 340,758.8 L396,758.8 Q400.9,758.8 400.9,763.5 L400.9,834 L335.1,834 Z" fill="url(#cylg)"/>
<path d="M301.5,834.2 A73.75,8.2 0 0 1 449,834.2 L449,850.6 L301.5,850.6 Z" fill="url(#foilside)"/>
<ellipse cx="375.25" cy="850.6" rx="73.75" ry="8.2" fill="url(#foilface)"/>
<text x="311" y="887.9" font-size="29" text-anchor="start" font-weight="normal" font-style="normal" fill="#000" font-family='"Liberation Sans", sans-serif' textLength="140.5" lengthAdjust="spacingAndGlyphs">Copper foil</text>
<text x="533.5" y="741" font-size="33" text-anchor="start" font-weight="normal" font-style="normal" fill="#000" font-family='"Liberation Sans", sans-serif' textLength="143" lengthAdjust="spacingAndGlyphs">Standard,</text>
<text x="686.5" y="741" font-size="33" font-style="italic" font-family='"Liberation Serif", serif'>S<tspan font-size="27.7" dy="6.5">a</tspan></text>
<rect x="500" y="771.2" width="210" height="114.09999999999991" fill="url(#solb)"/>
<path d="M571.3,753.2 Q571.3,747.2 579.3,747.2 L630.7,747.2 Q638.7,747.2 638.7,753.2 L638.7,827.8 L571.3,827.8 Z" fill="url(#cylg)"/>
<ellipse cx="605.0" cy="827.8" rx="33.700000000000045" ry="8.5" fill="#b2b2b2"/>
<line x1="605.5" y1="829.3" x2="709.9" y2="829.3" stroke="#000" stroke-width="0.9" stroke-dasharray="3,2"/>
<rect x="605.8" y="829.3" width="5.4" height="42.0" fill="#ff0000"/>
<polygon points="601.1,870.8 615.9,870.8 608.5,885.3" fill="#ff0000"/>
<line x1="669.2" y1="833.3" x2="669.2" y2="881.3" stroke="#000" stroke-width="1"/>
<polygon points="666.2,835.3 669.2,829.8 672.2,835.3" fill="#000"/>
<polygon points="666.2,879.3 669.2,884.8 672.2,879.3" fill="#000"/>
<polygon points="497.7,900 706.3,900 724.8,917.6 516.2,917.6" fill="url(#slab2)"/>
<polygon points="706.3,885.5 724.8,903.1 724.8,917.6 706.3,900" fill="url(#slab3)"/>
<rect x="497.7" y="885.5" width="208.59999999999997" height="14.5" fill="url(#slab1)"/>
<text x="660" y="788.6" font-size="28.5" text-anchor="start" font-weight="normal" font-style="normal" fill="#000" font-family='"Liberation Sans", sans-serif' textLength="240.5" lengthAdjust="spacingAndGlyphs">Lysozyme solution</text>
<text x="660" y="821.4" font-size="33" font-style="italic" font-family='"Liberation Serif", serif'>t</text>
<text x="678" y="821.4" font-size="33" font-family='"Liberation Serif", serif' textLength="21" lengthAdjust="spacingAndGlyphs">=</text>
<text x="710" y="821.4" font-size="28.5" text-anchor="start" font-weight="normal" font-style="normal" fill="#000" font-family='"Liberation Sans", sans-serif' textLength="83.5" lengthAdjust="spacingAndGlyphs">18 min</text>
<text x="679.5" y="868.6" font-size="31" font-style="italic" font-family='"Liberation Serif", serif'>l</text>
<text x="697.5" y="868.6" font-size="28.5" text-anchor="start" font-weight="normal" font-style="normal" fill="#000" font-family='"Liberation Sans", sans-serif' textLength="121" lengthAdjust="spacingAndGlyphs">= 1.0 mm</text>
<text x="643" y="942" font-size="28.5" text-anchor="start" font-weight="normal" font-style="normal" fill="#000" font-family='"Liberation Sans", sans-serif' textLength="82" lengthAdjust="spacingAndGlyphs">PDMS</text>
<rect x="860.9" y="825.3" width="118" height="7.4" fill="#111"/>
<polygon points="978,817.9 999.6,828.8 978,840.1" fill="#111"/>
<text x="902.5" y="877.2" font-size="30" text-anchor="start" font-weight="normal" font-style="normal" fill="#000" font-family='"Liberation Sans", sans-serif' textLength="64" lengthAdjust="spacingAndGlyphs">Time</text>
<text x="843.5" y="909.8" font-size="34" text-anchor="start" font-weight="normal" font-style="normal" fill="#000" font-family='"Liberation Sans", sans-serif' textLength="22.5" lengthAdjust="spacingAndGlyphs">±</text>
<text x="870" y="909.8" font-size="30" text-anchor="start" font-weight="normal" font-style="normal" fill="#000" font-family='"Liberation Sans", sans-serif' textLength="159.5" lengthAdjust="spacingAndGlyphs">perturbation</text>
<text x="1081.5" y="740.4" font-size="33" text-anchor="start" font-weight="normal" font-style="normal" fill="#000" font-family='"Liberation Sans", sans-serif' textLength="147" lengthAdjust="spacingAndGlyphs">Unknown,</text>
<text x="1237.5" y="740.4" font-size="33" font-style="italic" font-family='"Liberation Serif", serif'>S<tspan font-size="27.7" dy="6.5">m</tspan></text>
<rect x="1060.5" y="782.4" width="204.5" height="114.39999999999998" fill="url(#solp)"/>
<path d="M1129.2,765 Q1129.2,759 1137.2,759 L1188.3,759 Q1196.3,759 1196.3,765 L1196.3,839 L1129.2,839 Z" fill="url(#cylg)"/>
<ellipse cx="1162.75" cy="839" rx="33.549999999999955" ry="8.9" fill="#b2b2b2"/>
<line x1="1162.1" y1="840.3" x2="1265.8" y2="840.3" stroke="#000" stroke-width="0.9" stroke-dasharray="3,2"/>
<rect x="1162.3999999999999" y="840.3" width="5.4" height="42.5" fill="#ff0000"/>
<polygon points="1157.6999999999998,882.3 1172.5,882.3 1165.1,896.8" fill="#ff0000"/>
<line x1="1225.6" y1="844.3" x2="1225.6" y2="892.8" stroke="#000" stroke-width="1"/>
<polygon points="1222.6,846.3 1225.6,840.8 1228.6,846.3" fill="#000"/>
<polygon points="1222.6,890.8 1225.6,896.3 1228.6,890.8" fill="#000"/>
<polygon points="1056.8,910.9 1262.5,910.9 1280.0,927.9 1074.3,927.9" fill="url(#slab2)"/>
<polygon points="1262.5,896.8 1280.0,913.8 1280.0,927.9 1262.5,910.9" fill="url(#slab3)"/>
<rect x="1056.8" y="896.8" width="205.70000000000005" height="14.100000000000023" fill="url(#slab1)"/>
<text x="1216" y="795.5" font-size="28.5" text-anchor="start" font-weight="normal" font-style="normal" fill="#000" font-family='"Liberation Sans", sans-serif' textLength="240.5" lengthAdjust="spacingAndGlyphs">Lysozyme solution</text>
<text x="1216" y="828.7" font-size="33" font-style="italic" font-family='"Liberation Serif", serif'>t</text>
<text x="1234" y="828.7" font-size="33" font-family='"Liberation Serif", serif' textLength="21" lengthAdjust="spacingAndGlyphs">=</text>
<text x="1262" y="828.7" font-size="33" font-style="italic" font-family='"Liberation Serif", serif'>x</text>
<text x="1285.8" y="828.7" font-size="28.5" text-anchor="start" font-weight="normal" font-style="normal" fill="#000" font-family='"Liberation Sans", sans-serif' textLength="44.5" lengthAdjust="spacingAndGlyphs">min</text>
<text x="1237" y="876.4" font-size="31" font-style="italic" font-family='"Liberation Serif", serif'>l</text>
<text x="1255" y="876.4" font-size="28.5" text-anchor="start" font-weight="normal" font-style="normal" fill="#000" font-family='"Liberation Sans", sans-serif' textLength="121" lengthAdjust="spacingAndGlyphs">= 1.0 mm</text>
<text x="-4" y="1088" font-size="80" text-anchor="start" font-weight="bold" font-style="normal" fill="#000" font-family='"Liberation Sans", sans-serif' >c</text>
<text x="559" y="1077.7" font-size="31.5" text-anchor="start" font-weight="normal" font-style="normal" fill="#000" font-family='"Liberation Sans", sans-serif' textLength="410" lengthAdjust="spacingAndGlyphs">1. Model multiple relaxation</text>
<text x="559.5" y="1114.5" font-size="31.5" text-anchor="start" font-weight="normal" font-style="normal" fill="#000" font-family='"Liberation Sans", sans-serif' textLength="181" lengthAdjust="spacingAndGlyphs">components</text>
<line x1="480.9" y1="1115" x2="480.9" y2="1408.2" stroke="#000" stroke-width="1.8"/>
<line x1="471" y1="1398.3" x2="1131" y2="1398.3" stroke="#000" stroke-width="1.8"/>
<line x1="471" y1="1317.1" x2="480.9" y2="1317.1" stroke="#000" stroke-width="1.8"/>
<line x1="471" y1="1235.9" x2="480.9" y2="1235.9" stroke="#000" stroke-width="1.8"/>
<line x1="471" y1="1154.7" x2="480.9" y2="1154.7" stroke="#000" stroke-width="1.8"/>
<line x1="625.4" y1="1398.3" x2="625.4" y2="1407.8" stroke="#000" stroke-width="1.8"/>
<line x1="769.9" y1="1398.3" x2="769.9" y2="1407.8" stroke="#000" stroke-width="1.8"/>
<line x1="914.4" y1="1398.3" x2="914.4" y2="1407.8" stroke="#000" stroke-width="1.8"/>
<line x1="1058.9" y1="1398.3" x2="1058.9" y2="1407.8" stroke="#000" stroke-width="1.8"/>
<text x="445" y="1407.1" font-size="25" text-anchor="end" font-weight="normal" font-style="normal" fill="#000" font-family='"Liberation Sans", sans-serif' textLength="15.5" lengthAdjust="spacingAndGlyphs">0</text>
<text x="445" y="1325.9" font-size="25" text-anchor="end" font-weight="normal" font-style="normal" fill="#000" font-family='"Liberation Sans", sans-serif' textLength="31" lengthAdjust="spacingAndGlyphs">10</text>
<text x="445" y="1244.7" font-size="25" text-anchor="end" font-weight="normal" font-style="normal" fill="#000" font-family='"Liberation Sans", sans-serif' textLength="31" lengthAdjust="spacingAndGlyphs">20</text>
<text x="445" y="1163.5" font-size="25" text-anchor="end" font-weight="normal" font-style="normal" fill="#000" font-family='"Liberation Sans", sans-serif' textLength="31" lengthAdjust="spacingAndGlyphs">30</text>
<text x="477.9" y="1448" font-size="25" text-anchor="middle" font-weight="normal" font-style="normal" fill="#000" font-family='"Liberation Sans", sans-serif' textLength="15.5" lengthAdjust="spacingAndGlyphs">0</text>
<text x="622.4" y="1448" font-size="25" text-anchor="middle" font-weight="normal" font-style="normal" fill="#000" font-family='"Liberation Sans", sans-serif' textLength="31" lengthAdjust="spacingAndGlyphs">20</text>
<text x="766.9" y="1448" font-size="25" text-anchor="middle" font-weight="normal" font-style="normal" fill="#000" font-family='"Liberation Sans", sans-serif' textLength="31" lengthAdjust="spacingAndGlyphs">40</text>
<text x="911.4" y="1448" font-size="25" text-anchor="middle" font-weight="normal" font-style="normal" fill="#000" font-family='"Liberation Sans", sans-serif' textLength="31" lengthAdjust="spacingAndGlyphs">60</text>
<text x="1055.9" y="1448" font-size="25" text-anchor="middle" font-weight="normal" font-style="normal" fill="#000" font-family='"Liberation Sans", sans-serif' textLength="31" lengthAdjust="spacingAndGlyphs">80</text>
<text x="424.5" y="1114" font-size="31" text-anchor="start" font-family='"Liberation Serif", serif'  textLength="28" lengthAdjust="spacingAndGlyphs"><tspan font-style="italic">ε</tspan>”</text>
<text x="1103.5" y="1443" font-size="31" text-anchor="start" font-family='"Liberation Serif", serif'  textLength="27" lengthAdjust="spacingAndGlyphs"><tspan font-style="italic">ε</tspan>′</text>
<path d="M976.40,1398.30 L976.32,1391.56 L976.09,1384.82 L975.69,1378.10 L975.14,1371.38 L974.44,1364.69 L973.58,1358.02 L972.56,1351.37 L971.39,1344.76 L970.06,1338.19 L968.58,1331.65 L966.95,1325.17 L965.17,1318.73 L963.24,1312.34 L961.16,1306.02 L958.93,1299.76 L956.56,1293.57 L954.05,1287.44 L951.39,1281.40 L948.59,1275.43 L945.66,1269.55 L942.59,1263.76 L939.38,1258.06 L936.05,1252.45 L932.58,1246.95 L928.98,1241.54 L925.27,1236.25 L921.43,1231.07 L917.46,1226.00 L913.39,1221.05 L909.20,1216.22 L904.89,1211.52 L900.48,1206.94 L895.97,1202.50 L891.35,1198.18 L886.63,1194.01 L881.82,1189.98 L876.91,1186.09 L871.92,1182.34 L866.84,1178.75 L861.68,1175.30 L856.43,1172.00 L851.12,1168.87 L845.73,1165.88 L840.28,1163.06 L834.76,1160.40 L829.18,1157.90 L823.54,1155.57 L817.85,1153.40 L812.12,1151.40 L806.34,1149.57 L800.51,1147.91 L794.66,1146.43 L788.76,1145.11 L782.84,1143.97 L776.90,1143.00 L770.93,1142.21 L764.95,1141.59 L758.96,1141.15 L752.96,1140.89 L746.95,1140.80 L740.94,1140.89 L734.94,1141.15 L728.95,1141.59 L722.97,1142.21 L717.00,1143.00 L711.06,1143.97 L705.14,1145.11 L699.24,1146.43 L693.39,1147.91 L687.56,1149.57 L681.78,1151.40 L676.05,1153.40 L670.36,1155.57 L664.72,1157.90 L659.14,1160.40 L653.62,1163.06 L648.17,1165.88 L642.78,1168.87 L637.47,1172.00 L632.23,1175.30 L627.06,1178.75 L621.98,1182.34 L616.99,1186.09 L612.08,1189.98 L607.27,1194.01 L602.55,1198.18 L597.93,1202.50 L593.42,1206.94 L589.01,1211.52 L584.70,1216.22 L580.51,1221.05 L576.44,1226.00 L572.47,1231.07 L568.63,1236.25 L564.92,1241.54 L561.32,1246.95 L557.85,1252.45 L554.52,1258.06 L551.31,1263.76 L548.24,1269.55 L545.31,1275.43 L542.51,1281.40 L539.85,1287.44 L537.34,1293.57 L534.97,1299.76 L532.74,1306.02 L530.66,1312.34 L528.73,1318.73 L526.95,1325.17 L525.32,1331.65 L523.84,1338.19 L522.51,1344.76 L521.34,1351.37 L520.32,1358.02 L519.46,1364.69 L518.76,1371.38 L518.21,1378.10 L517.81,1384.82 L517.58,1391.56 L517.50,1398.30" fill="none" stroke="#0000ff" stroke-width="3.0"/>
<path d="M1060.90,1398.30 L1060.20,1390.00 L1058.20,1382.00 L1054.50,1375.00 L1049.00,1369.80 L1042.00,1366.80 L1033.30,1366.00 L1025.00,1367.30 L1017.20,1370.00 L1010.40,1372.00 L1002.00,1372.20 L994.30,1373.20 L988.00,1375.50 L984.60,1376.50 L983.20,1372.00 L979.21,1355.54 L978.43,1350.59 L977.55,1345.66 L976.59,1340.76 L975.55,1335.87 L974.42,1331.01 L973.21,1326.17 L971.91,1321.36 L970.53,1316.58 L969.07,1311.83 L967.53,1307.11 L965.90,1302.42 L964.19,1297.78 L962.40,1293.17 L960.54,1288.59 L958.59,1284.07 L956.56,1279.58 L954.46,1275.14 L952.28,1270.74 L950.02,1266.39 L947.69,1262.10 L945.28,1257.85 L942.81,1253.65 L940.25,1249.51 L937.63,1245.43 L934.94,1241.40 L932.17,1237.44 L929.34,1233.53 L926.44,1229.68 L923.48,1225.90 L920.45,1222.19 L917.35,1218.53 L914.19,1214.95 L910.97,1211.44 L907.69,1207.99 L904.36,1204.62 L900.96,1201.32 L897.50,1198.09 L893.99,1194.94 L890.43,1191.87 L886.82,1188.87 L883.15,1185.96 L879.43,1183.12 L875.66,1180.36 L871.85,1177.69 L867.99,1175.09 L864.09,1172.58 L860.14,1170.16 L856.15,1167.82 L852.12,1165.57 L848.06,1163.41 L843.95,1161.33 L839.81,1159.35 L835.64,1157.45 L831.44,1155.64 L827.20,1153.93 L822.94,1152.30 L818.65,1150.77 L814.33,1149.34 L809.99,1147.99 L805.62,1146.74 L801.24,1145.59 L796.83,1144.52 L792.41,1143.56 L787.97,1142.69 L783.52,1141.92 L779.05,1141.24 L774.58,1140.66 L770.09,1140.17 L765.60,1139.79 L761.10,1139.50 L756.60,1139.31 L752.09,1139.21 L747.59,1139.21 L743.08,1139.31 L738.58,1139.51 L734.08,1139.80 L729.59,1140.20 L725.10,1140.68 L720.63,1141.27 L716.17,1141.95 L711.71,1142.73 L707.28,1143.60 L702.85,1144.57 L698.45,1145.64 L694.07,1146.80 L689.70,1148.05 L685.36,1149.40 L681.05,1150.84 L676.76,1152.38 L672.49,1154.01 L668.26,1155.73 L664.06,1157.54 L659.89,1159.44 L655.75,1161.43 L651.65,1163.51 L647.58,1165.68 L643.56,1167.93 L639.57,1170.28 L635.62,1172.70 L631.72,1175.22 L627.87,1177.81 L624.05,1180.49 L620.29,1183.25 L616.57,1186.09 L612.91,1189.02 L609.30,1192.02 L605.73,1195.09 L602.23,1198.25 L598.78,1201.48 L595.38,1204.78 L592.05,1208.16 L588.77,1211.61 L585.55,1215.12 L582.40,1218.71 L579.31,1222.36 L576.28,1226.08 L573.32,1229.87 L570.42,1233.72 L567.59,1237.63 L564.83,1241.60 L562.14,1245.63 L559.52,1249.71 L556.97,1253.86 L554.50,1258.05 L552.10,1262.30 L549.77,1266.60 L547.51,1270.95 L545.34,1275.35 L543.24,1279.79 L541.22,1284.28 L539.27,1288.81 L537.41,1293.39 L535.62,1298.00 L533.92,1302.65 L532.30,1307.33 L530.76,1312.05 L529.30,1316.81 L527.92,1321.59 L526.63,1326.40 L525.42,1331.24 L520.20,1345.00 L517.30,1361.00 L513.00,1377.00 L509.80,1389.00 L508.80,1398.30" fill="none" stroke="#6600cc" stroke-width="3.0" stroke-linejoin="round"/>
<path d="M508.8,1398.3 A4.8,5.5 0 0 1 518.4,1398.3" fill="none" stroke="#e000c8" stroke-width="2.4"/>
<path d="M973.4,1398.3 A4.5,5 0 0 1 982.4,1398.3" fill="none" stroke="#0a6a10" stroke-width="2.4"/>
<path d="M980.8,1398.3 A14.95,16.8 0 0 1 1010.7,1398.3" fill="none" stroke="#ff9900" stroke-width="2.6"/>
<path d="M1010.7,1398.3 A24,28.2 0 0 1 1058.7,1398.3" fill="none" stroke="#ff0000" stroke-width="2.8"/>
<path d="M976.40,1398.30 L976.38,1394.55 L976.30,1390.81 L976.18,1387.07 L976.01,1383.33 L975.79,1379.59 L975.53,1375.86 L975.21,1372.13 L974.85,1368.41 L974.44,1364.69 L973.98,1360.98 L973.47,1357.28 L972.91,1353.59 L972.31,1349.90 L971.66,1346.23 L970.96,1342.57 L970.22,1338.92 L969.42,1335.28 L968.58,1331.65 L967.69,1328.04 L966.76,1324.45 L965.78,1320.87 L964.75,1317.30 L963.68,1313.76 L962.56,1310.23 L961.40,1306.72 L960.19,1303.23 L958.93,1299.76 L957.63,1296.31 L956.29,1292.88 L954.90,1289.48" fill="none" stroke="#0000ff" stroke-width="3.0"/>
<text x="727.5" y="1286.5" font-size="33" text-anchor="start" font-family='"Liberation Serif", serif'  textLength="87" lengthAdjust="spacingAndGlyphs"><tspan font-style="italic">ε</tspan><tspan font-size="22" dy="-12">*</tspan><tspan dy="12">(</tspan><tspan font-style="italic">ω</tspan>)</text>
<text x="826" y="1343.5" font-size="33" text-anchor="start" font-family='"Liberation Serif", serif'  textLength="29" lengthAdjust="spacingAndGlyphs"><tspan font-style="italic">γ</tspan><tspan font-size="23" dy="6">1</tspan></text>
<line x1="824.2" y1="1287.5" x2="979.8" y2="1347" stroke="#000" stroke-width="2"/>
<line x1="872.2" y1="1340.5" x2="975.8" y2="1373.3" stroke="#000" stroke-width="2"/>
<line x1="392.8" y1="1130" x2="515.5" y2="1333.4" stroke="#000" stroke-width="2.4" stroke-dasharray="2.4,1.9"/>
<line x1="392.8" y1="1357.8" x2="497" y2="1396.9" stroke="#000" stroke-width="2.4" stroke-dasharray="2.4,1.9"/>
<line x1="1081.3" y1="1090.2" x2="986.2" y2="1318.4" stroke="#000" stroke-width="2.4" stroke-dasharray="2.4,1.9"/>
<line x1="1081.3" y1="1353.9" x2="1069.7" y2="1384.8" stroke="#000" stroke-width="2.4" stroke-dasharray="2.4,1.9"/>
<rect x="102.2" y="1130" width="290.6" height="228" fill="#fff" stroke="#000" stroke-width="2.6"/>
<line x1="140.2" y1="1235" x2="369.8" y2="1235" stroke="#3a3a3a" stroke-width="1.4"/>
<path d="M218.2,1234 C219.5,1200 227,1175 239.8,1146.7" fill="none" stroke="#6010d0" stroke-width="2"/>
<path d="M268.5,1234 C269.2,1200 270.5,1175 271.6,1146.7" fill="none" stroke="#0a14f0" stroke-width="1.8"/>
<path d="M218.2,1235 A25.15,26.5 0 0 1 268.5,1235" fill="none" stroke="#cc00cc" stroke-width="2.2"/>
<line x1="243.9" y1="1207.3" x2="290.5" y2="1172.4" stroke="#000" stroke-width="2"/>
<line x1="217.8" y1="1235" x2="168.9" y2="1306.9" stroke="#000" stroke-width="2"/>
<line x1="268.1" y1="1235" x2="287.6" y2="1311" stroke="#000" stroke-width="2"/>
<text x="301.5" y="1180" font-size="34" text-anchor="start" font-family='"Liberation Serif", serif'  textLength="32.5" lengthAdjust="spacingAndGlyphs"><tspan font-style="italic">γ</tspan><tspan font-size="23" dy="7">2</tspan></text>
<text x="115.5" y="1335.6" font-size="34" text-anchor="start" font-family='"Liberation Serif", serif'  textLength="129.5" lengthAdjust="spacingAndGlyphs"><tspan font-style="italic">ε</tspan>(∞)<tspan font-style="italic" font-size="25" dy="5">relax</tspan></text>
<text x="273.5" y="1335.6" font-size="34" text-anchor="start" font-family='"Liberation Serif", serif'  textLength="102.5" lengthAdjust="spacingAndGlyphs"><tspan font-style="italic">ε</tspan><tspan font-style="italic" font-size="24" dy="6">γ</tspan><tspan font-size="24">1</tspan><tspan dy="-6">(∞)</tspan></text>
<rect x="1081.3" y="1090.2" width="327.8" height="263.7" fill="#fff" stroke="#000" stroke-width="2.5"/>
<line x1="1095.2" y1="1249.7" x2="1394.5" y2="1249.7" stroke="#3a3a3a" stroke-width="1.4"/>
<path d="M1132,1248.5 C1130,1200 1126,1160 1120.1,1118.8" fill="none" stroke="#0a14f0" stroke-width="1.8"/>
<path d="M1125,1249.7 A10.5,11.5 0 0 1 1146,1249.7" fill="none" stroke="#0a6a10" stroke-width="2"/>
<path d="M1146.8,1249.7 A41.1,45 0 0 1 1229,1249.7" fill="none" stroke="#ff9900" stroke-width="2"/>
<path d="M1229,1249.7 A69.2,74 0 0 1 1367.4,1249.7" fill="none" stroke="#ff0000" stroke-width="2"/>
<path d="M1141.9,1118.8 C1146,1140 1150,1175 1155,1188 C1157,1193 1160,1194 1165,1191 C1180,1184 1200,1180 1225,1180.5 C1245,1181 1255,1176 1270,1171 C1290,1165 1305,1164 1320,1170 C1350,1180 1372,1210 1374.4,1249.7" fill="none" stroke="#6010d0" stroke-width="2"/>
<line x1="1155.8" y1="1192.7" x2="1160.6" y2="1249.7" stroke="#000" stroke-width="2" stroke-dasharray="6,3"/>
<line x1="1177.6" y1="1143.5" x2="1135.2" y2="1237.6" stroke="#000" stroke-width="2"/>
<line x1="1230.9" y1="1146.7" x2="1194.5" y2="1204.8" stroke="#000" stroke-width="2"/>
<line x1="1313.3" y1="1144.2" x2="1290.3" y2="1178.2" stroke="#000" stroke-width="2"/>
<line x1="1132" y1="1249.7" x2="1150.9" y2="1309.1" stroke="#000" stroke-width="2"/>
<line x1="1374.4" y1="1249.7" x2="1354.5" y2="1310.3" stroke="#000" stroke-width="2"/>
<text x="1168" y="1131" font-size="35" text-anchor="start" font-family='"Liberation Serif", serif'  textLength="31" lengthAdjust="spacingAndGlyphs"><tspan font-style="italic">δ</tspan><tspan font-size="24" dy="6">2</tspan></text>
<text x="1227.5" y="1131" font-size="35" text-anchor="start" font-family='"Liberation Serif", serif'  textLength="30" lengthAdjust="spacingAndGlyphs"><tspan font-style="italic">δ</tspan><tspan font-size="24" dy="6">1</tspan></text>
<text x="1310" y="1131" font-size="34" text-anchor="start" font-family='"Liberation Serif", serif' ><tspan font-style="italic">β</tspan></text>
<text x="1133" y="1337" font-size="35" text-anchor="start" font-family='"Liberation Serif", serif'  textLength="90.5" lengthAdjust="spacingAndGlyphs"><tspan font-style="italic">ε</tspan><tspan font-style="italic" font-size="24" dy="6">γ</tspan><tspan font-size="24">1</tspan><tspan dy="-6">(</tspan><tspan font-style="italic">s</tspan>)</text>
<text x="1322" y="1337" font-size="35" text-anchor="start" font-family='"Liberation Serif", serif'  textLength="60" lengthAdjust="spacingAndGlyphs"><tspan font-style="italic">ε</tspan>(<tspan font-style="italic">s</tspan>)</text>
<polygon points="579.8,1473.8 606.3,1495.3 557,1558.6 566.2,1569.4 518.8,1574.2 514.3,1527.3 527.4,1538.1" fill="#4472c4" stroke="#2f528f" stroke-width="4.2" stroke-linejoin="miter"/>
<polygon points="407,1862.4 441,1862.4 441,1886 460,1886 423.7,1909.5 387.5,1886 407,1886" fill="#4472c4" stroke="#2f528f" stroke-width="4.1"/>
<polygon points="791.4,1651.3 874.2,1651.3 874.2,1634.5 908.5,1668.3 874.2,1702.5 874.2,1685.3 791.4,1685.3" fill="#4472c4" stroke="#2f528f" stroke-width="4.2"/>
<text x="604.5" y="1547.4" font-size="31.5" font-family='"Liberation Sans", sans-serif' textLength="243" lengthAdjust="spacingAndGlyphs">2. Fit the data to</text>
<text x="857.5" y="1546.7" font-size="34" text-anchor="start" font-family='"Liberation Serif", serif'  textLength="96" lengthAdjust="spacingAndGlyphs"><tspan font-style="italic">ε</tspan><tspan font-style="italic" font-size="23" dy="6">γ</tspan><tspan font-size="23">1</tspan><tspan font-size="22" dx="-20" dy="-21">*</tspan><tspan dx="9" dy="15">(</tspan><tspan font-style="italic">ω</tspan>)</text>
<text x="115.5" y="1946.7" font-size="31.5" text-anchor="start" font-weight="normal" font-style="normal" fill="#000" font-family='"Liberation Sans", sans-serif' textLength="604.5" lengthAdjust="spacingAndGlyphs">3. Evaluate dielectric parameter changes</text>
<text x="779.5" y="1745.6" font-size="31.5" text-anchor="start" font-weight="normal" font-style="normal" fill="#000" font-family='"Liberation Sans", sans-serif' textLength="166" lengthAdjust="spacingAndGlyphs">4. Evaluate</text>
<text x="778.5" y="1783.2" font-size="31.5" text-anchor="start" font-weight="normal" font-style="normal" fill="#000" font-family='"Liberation Sans", sans-serif' textLength="161.5" lengthAdjust="spacingAndGlyphs">changes in</text>
<text x="950" y="1783.2" font-size="31.5" text-anchor="start" font-weight="normal" font-style="normal" fill="#000" font-family='"Liberation Sans", sans-serif' textLength="21" lengthAdjust="spacingAndGlyphs">Δ</text>
<text x="969.5" y="1783.2" font-size="33" font-family='"Liberation Serif", serif'>r</text>
<line x1="208.9" y1="1564.1" x2="208.9" y2="1803.7" stroke="#000" stroke-width="1.8"/>
<line x1="199.4" y1="1793.6" x2="671" y2="1793.6" stroke="#000" stroke-width="1.8"/>
<line x1="199.4" y1="1727.8" x2="208.9" y2="1727.8" stroke="#000" stroke-width="1.8"/>
<line x1="199.4" y1="1662.0" x2="208.9" y2="1662.0" stroke="#000" stroke-width="1.8"/>
<line x1="199.4" y1="1596.2" x2="208.9" y2="1596.2" stroke="#000" stroke-width="1.8"/>
<line x1="324.5" y1="1793.6" x2="324.5" y2="1803.6" stroke="#000" stroke-width="1.8"/>
<line x1="440.1" y1="1793.6" x2="440.1" y2="1803.6" stroke="#000" stroke-width="1.8"/>
<line x1="555.7" y1="1793.6" x2="555.7" y2="1803.6" stroke="#000" stroke-width="1.8"/>
<line x1="671.3" y1="1793.6" x2="671.3" y2="1803.6" stroke="#000" stroke-width="1.8"/>
<text x="173.5" y="1801.9" font-size="24.5" text-anchor="end" font-weight="normal" font-style="normal" fill="#000" font-family='"Liberation Sans", sans-serif' textLength="15.5" lengthAdjust="spacingAndGlyphs">0</text>
<text x="173.5" y="1736.1" font-size="24.5" text-anchor="end" font-weight="normal" font-style="normal" fill="#000" font-family='"Liberation Sans", sans-serif' textLength="31" lengthAdjust="spacingAndGlyphs">10</text>
<text x="173.5" y="1670.3" font-size="24.5" text-anchor="end" font-weight="normal" font-style="normal" fill="#000" font-family='"Liberation Sans", sans-serif' textLength="31" lengthAdjust="spacingAndGlyphs">20</text>
<text x="173.5" y="1604.5" font-size="24.5" text-anchor="end" font-weight="normal" font-style="normal" fill="#000" font-family='"Liberation Sans", sans-serif' textLength="31" lengthAdjust="spacingAndGlyphs">30</text>
<text x="205.4" y="1842.2" font-size="24.5" text-anchor="middle" font-weight="normal" font-style="normal" fill="#000" font-family='"Liberation Sans", sans-serif' textLength="15.5" lengthAdjust="spacingAndGlyphs">0</text>
<text x="321.0" y="1842.2" font-size="24.5" text-anchor="middle" font-weight="normal" font-style="normal" fill="#000" font-family='"Liberation Sans", sans-serif' textLength="31" lengthAdjust="spacingAndGlyphs">20</text>
<text x="436.6" y="1842.2" font-size="24.5" text-anchor="middle" font-weight="normal" font-style="normal" fill="#000" font-family='"Liberation Sans", sans-serif' textLength="31" lengthAdjust="spacingAndGlyphs">40</text>
<text x="552.2" y="1842.2" font-size="24.5" text-anchor="middle" font-weight="normal" font-style="normal" fill="#000" font-family='"Liberation Sans", sans-serif' textLength="31" lengthAdjust="spacingAndGlyphs">60</text>
<text x="667.8" y="1842.2" font-size="24.5" text-anchor="middle" font-weight="normal" font-style="normal" fill="#000" font-family='"Liberation Sans", sans-serif' textLength="31" lengthAdjust="spacingAndGlyphs">80</text>
<text x="156" y="1555" font-size="31" text-anchor="start" font-family='"Liberation Serif", serif'  textLength="27" lengthAdjust="spacingAndGlyphs"><tspan font-style="italic">ε</tspan>”</text>
<text x="701.5" y="1841" font-size="31" text-anchor="start" font-family='"Liberation Serif", serif'  textLength="20" lengthAdjust="spacingAndGlyphs"><tspan font-style="italic">ε</tspan>′</text>
<path d="M238.96,1793.60 L238.98,1790.19 L239.05,1786.78 L239.18,1783.38 L239.35,1779.97 L239.57,1776.57 L239.84,1773.18 L240.15,1769.79 L240.52,1766.41 L240.93,1763.03 L241.40,1759.66 L241.91,1756.30 L242.47,1752.95 L243.08,1749.61 L243.73,1746.29 L244.43,1742.97 L245.19,1739.67 L245.98,1736.39 L246.83,1733.12 L247.72,1729.86 L248.66,1726.63 L249.64,1723.41 L250.67,1720.21 L251.75,1717.02 L252.87,1713.86 L254.04,1710.72 L255.25,1707.61 L256.51,1704.51 L257.81,1701.44 L259.15,1698.40 L260.54,1695.38 L261.97,1692.38 L263.45,1689.42 L264.97,1686.48 L266.52,1683.57 L268.13,1680.68 L269.77,1677.83 L271.45,1675.01 L273.17,1672.22 L274.93,1669.47 L276.74,1666.74 L278.58,1664.06 L280.46,1661.40 L282.37,1658.78 L284.33,1656.20 L286.32,1653.65 L288.34,1651.14 L290.41,1648.67 L292.51,1646.24 L294.64,1643.85 L296.81,1641.49 L299.01,1639.18 L301.24,1636.91 L303.50,1634.68 L305.80,1632.49 L308.13,1630.35 L310.49,1628.25 L312.88,1626.19 L315.30,1624.18 L317.74,1622.22 L320.22,1620.30 L322.72,1618.42 L325.25,1616.60 L327.80,1614.82 L330.38,1613.08 L332.98,1611.40 L335.61,1609.77 L338.26,1608.18 L340.93,1606.64 L343.63,1605.16 L346.34,1603.72 L349.08,1602.33 L351.84,1601.00 L354.61,1599.72 L357.40,1598.48 L360.21,1597.31 L363.04,1596.18 L365.88,1595.11 L368.74,1594.08 L371.61,1593.12 L374.49,1592.20 L377.39,1591.34 L380.30,1590.54 L383.22,1589.78 L386.15,1589.09 L389.09,1588.44 L392.04,1587.85 L395.00,1587.32 L397.97,1586.84 L400.94,1586.42 L403.92,1586.05 L406.90,1585.74 L409.88,1585.48 L412.87,1585.28 L415.87,1585.14 L418.86,1585.05 L421.85,1585.01 L424.85,1585.04 L427.84,1585.11 L430.83,1585.25 L433.82,1585.44 L436.81,1585.68 L439.79,1585.98 L442.77,1586.34 L445.74,1586.75 L448.71,1587.21 L451.67,1587.73 L454.62,1588.31 L457.56,1588.94 L460.50,1589.63 L463.42,1590.37 L466.33,1591.16 L469.23,1592.01 L472.12,1592.91 L475.00,1593.87 L477.86,1594.88 L480.70,1595.94 L483.53,1597.05 L486.34,1598.22 L489.14,1599.44 L491.92,1600.71 L494.68,1602.04 L497.42,1603.41 L500.14,1604.84 L502.84,1606.31 L505.52,1607.84 L508.17,1609.41 L510.81,1611.04 L513.41,1612.71 L516.00,1614.43 L518.56,1616.20 L521.09,1618.02 L523.60,1619.88 L526.08,1621.79 L528.53,1623.75 L530.96,1625.75 L533.35,1627.80 L535.72,1629.89 L538.05,1632.02 L540.36,1634.20 L542.63,1636.42 L543.60,1639.60 L542.40,1637.60 L578.70,1637.60 L578.70,1683.10" fill="none" stroke="#0000ff" stroke-width="3.0" stroke-linejoin="miter"/>
<path d="M578.57,1684.92 L579.87,1687.37 L581.13,1689.84 L582.37,1692.33 L583.57,1694.84 L584.74,1697.37 L585.89,1699.91 L587.00,1702.47 L588.08,1705.05 L589.13,1707.65 L590.15,1710.26 L591.13,1712.89 L592.09,1715.53 L593.01,1718.19 L593.91,1720.86 L594.76,1723.54 L595.59,1726.24 L596.39,1728.95 L597.15,1731.68 L597.88,1734.41 L598.57,1737.16 L599.23,1739.91 L599.86,1742.68 L600.46,1745.46 L601.02,1748.24 L601.55,1751.03 L602.05,1753.84 L602.51,1756.64 L602.94,1759.46 L603.33,1762.28 L603.69,1765.11 L604.02,1767.94 L604.31,1770.78 L604.57,1773.63 L604.79,1776.47 L604.98,1779.32 L605.13,1782.17 L605.25,1785.03 L605.34,1787.89 L605.39,1790.74 L605.41,1793.60" fill="none" stroke="#0000ff" stroke-width="3.0"/>
<circle cx="414.1" cy="1795.4" r="3" fill="#000"/>
<line x1="393.3" y1="1750.1" x2="412.9" y2="1790.4" stroke="#000" stroke-width="2"/>
<text x="353.3" y="1709.6" font-size="29" text-anchor="start" font-weight="normal" font-style="normal" fill="#000" font-family='"Liberation Sans", sans-serif' textLength="74" lengthAdjust="spacingAndGlyphs">Circle</text>
<text x="353.1" y="1738.5" font-size="29" text-anchor="start" font-weight="normal" font-style="normal" fill="#000" font-family='"Liberation Sans", sans-serif' textLength="81.7" lengthAdjust="spacingAndGlyphs">center</text>
<line x1="427.4" y1="1777.8" x2="471.9" y2="1720.7" stroke="#000" stroke-width="2.4"/>
<line x1="489.6" y1="1697" x2="527.4" y2="1648.1" stroke="#000" stroke-width="2.4"/>
<polygon points="416.3,1789.6 420.7,1771.9 434.5,1782.2" fill="#000"/>
<polygon points="537.8,1634.8 520,1643.7 533.3,1654.1" fill="#000"/>
<text x="474" y="1720.7" font-size="31" text-anchor="start" font-family='"Liberation Serif", serif' >r</text>
<line x1="575.2" y1="1630.8" x2="629" y2="1698.9" stroke="#000" stroke-width="2"/>
<line x1="562" y1="1663.4" x2="603.2" y2="1716.1" stroke="#000" stroke-width="2"/>
<line x1="630.7" y1="1640.6" x2="612.8" y2="1653.8" stroke="#000" stroke-width="2.2"/>
<polygon points="601.4,1662.5 609.3,1646.3 620.7,1659.9" fill="#000"/>
<line x1="547.6" y1="1704.1" x2="565.5" y2="1691.4" stroke="#000" stroke-width="2.2"/>
<polygon points="576.9,1682.2 558.1,1685.7 568.6,1699.3" fill="#000"/>
<text transform="translate(590,1686) rotate(52)" font-size="27" font-family='"Liberation Serif", serif' stroke="#000" stroke-width="0.6">Δr</text>
<text x="307" y="1546" font-size="31" text-anchor="start" font-family='"Liberation Serif", serif'  textLength="88.5" lengthAdjust="spacingAndGlyphs"><tspan font-style="italic">ε</tspan><tspan font-style="italic" font-size="21" dy="5">γ</tspan><tspan font-size="21">1</tspan><tspan font-size="20" dx="-19" dy="-19">*</tspan><tspan dx="8" dy="14">(</tspan><tspan font-style="italic">ω</tspan>)</text>
<line x1="352.3" y1="1557.9" x2="391.7" y2="1587.8" stroke="#000" stroke-width="2"/>
<text x="262" y="1780" font-size="31" text-anchor="start" font-family='"Liberation Serif", serif'  textLength="90.5" lengthAdjust="spacingAndGlyphs"><tspan font-style="italic">ε</tspan><tspan font-style="italic" font-size="21" dy="5">γ</tspan><tspan font-size="21">1</tspan><tspan dy="-5">(∞)</tspan></text>
<line x1="240" y1="1791.1" x2="260" y2="1779.1" stroke="#000" stroke-width="2"/>
<text x="624" y="1780" font-size="31" text-anchor="start" font-family='"Liberation Serif", serif'  textLength="79.5" lengthAdjust="spacingAndGlyphs"><tspan font-style="italic">ε</tspan><tspan font-style="italic" font-size="21" dy="5">γ</tspan><tspan font-size="21">1</tspan><tspan dy="-5">(</tspan><tspan font-style="italic">s</tspan>)</text>
<line x1="606.7" y1="1792.4" x2="624.4" y2="1782.2" stroke="#000" stroke-width="2"/>
<rect x="1083.6" y="1543.5" width="312.0" height="311.5" fill="none" stroke="#333" stroke-width="1.3"/>
<line x1="1083.6" y1="1845.8" x2="1086.6" y2="1845.8" stroke="#333" stroke-width="1"/>
<line x1="1395.6" y1="1845.8" x2="1392.6" y2="1845.8" stroke="#333" stroke-width="1"/>
<line x1="1083.6" y1="1836.9" x2="1086.6" y2="1836.9" stroke="#333" stroke-width="1"/>
<line x1="1395.6" y1="1836.9" x2="1392.6" y2="1836.9" stroke="#333" stroke-width="1"/>
<line x1="1083.6" y1="1828.0" x2="1086.6" y2="1828.0" stroke="#333" stroke-width="1"/>
<line x1="1395.6" y1="1828.0" x2="1392.6" y2="1828.0" stroke="#333" stroke-width="1"/>
<line x1="1083.6" y1="1819.1" x2="1086.6" y2="1819.1" stroke="#333" stroke-width="1"/>
<line x1="1395.6" y1="1819.1" x2="1392.6" y2="1819.1" stroke="#333" stroke-width="1"/>
<line x1="1083.6" y1="1810.2" x2="1089.6" y2="1810.2" stroke="#333" stroke-width="1"/>
<line x1="1395.6" y1="1810.2" x2="1389.6" y2="1810.2" stroke="#333" stroke-width="1"/>
<line x1="1083.6" y1="1801.3" x2="1086.6" y2="1801.3" stroke="#333" stroke-width="1"/>
<line x1="1395.6" y1="1801.3" x2="1392.6" y2="1801.3" stroke="#333" stroke-width="1"/>
<line x1="1083.6" y1="1792.4" x2="1086.6" y2="1792.4" stroke="#333" stroke-width="1"/>
<line x1="1395.6" y1="1792.4" x2="1392.6" y2="1792.4" stroke="#333" stroke-width="1"/>
<line x1="1083.6" y1="1783.5" x2="1086.6" y2="1783.5" stroke="#333" stroke-width="1"/>
<line x1="1395.6" y1="1783.5" x2="1392.6" y2="1783.5" stroke="#333" stroke-width="1"/>
<line x1="1083.6" y1="1774.6" x2="1086.6" y2="1774.6" stroke="#333" stroke-width="1"/>
<line x1="1395.6" y1="1774.6" x2="1392.6" y2="1774.6" stroke="#333" stroke-width="1"/>
<line x1="1083.6" y1="1765.8" x2="1088.1" y2="1765.8" stroke="#333" stroke-width="1"/>
<line x1="1395.6" y1="1765.8" x2="1391.1" y2="1765.8" stroke="#333" stroke-width="1"/>
<line x1="1083.6" y1="1756.9" x2="1086.6" y2="1756.9" stroke="#333" stroke-width="1"/>
<line x1="1395.6" y1="1756.9" x2="1392.6" y2="1756.9" stroke="#333" stroke-width="1"/>
<line x1="1083.6" y1="1748.0" x2="1086.6" y2="1748.0" stroke="#333" stroke-width="1"/>
<line x1="1395.6" y1="1748.0" x2="1392.6" y2="1748.0" stroke="#333" stroke-width="1"/>
<line x1="1083.6" y1="1739.1" x2="1086.6" y2="1739.1" stroke="#333" stroke-width="1"/>
<line x1="1395.6" y1="1739.1" x2="1392.6" y2="1739.1" stroke="#333" stroke-width="1"/>
<line x1="1083.6" y1="1730.2" x2="1086.6" y2="1730.2" stroke="#333" stroke-width="1"/>
<line x1="1395.6" y1="1730.2" x2="1392.6" y2="1730.2" stroke="#333" stroke-width="1"/>
<line x1="1083.6" y1="1721.3" x2="1089.6" y2="1721.3" stroke="#333" stroke-width="1"/>
<line x1="1395.6" y1="1721.3" x2="1389.6" y2="1721.3" stroke="#333" stroke-width="1"/>
<line x1="1083.6" y1="1712.4" x2="1086.6" y2="1712.4" stroke="#333" stroke-width="1"/>
<line x1="1395.6" y1="1712.4" x2="1392.6" y2="1712.4" stroke="#333" stroke-width="1"/>
<line x1="1083.6" y1="1703.5" x2="1086.6" y2="1703.5" stroke="#333" stroke-width="1"/>
<line x1="1395.6" y1="1703.5" x2="1392.6" y2="1703.5" stroke="#333" stroke-width="1"/>
<line x1="1083.6" y1="1694.6" x2="1086.6" y2="1694.6" stroke="#333" stroke-width="1"/>
<line x1="1395.6" y1="1694.6" x2="1392.6" y2="1694.6" stroke="#333" stroke-width="1"/>
<line x1="1083.6" y1="1685.7" x2="1086.6" y2="1685.7" stroke="#333" stroke-width="1"/>
<line x1="1395.6" y1="1685.7" x2="1392.6" y2="1685.7" stroke="#333" stroke-width="1"/>
<line x1="1083.6" y1="1676.8" x2="1088.1" y2="1676.8" stroke="#333" stroke-width="1"/>
<line x1="1395.6" y1="1676.8" x2="1391.1" y2="1676.8" stroke="#333" stroke-width="1"/>
<line x1="1083.6" y1="1668.0" x2="1086.6" y2="1668.0" stroke="#333" stroke-width="1"/>
<line x1="1395.6" y1="1668.0" x2="1392.6" y2="1668.0" stroke="#333" stroke-width="1"/>
<line x1="1083.6" y1="1659.1" x2="1086.6" y2="1659.1" stroke="#333" stroke-width="1"/>
<line x1="1395.6" y1="1659.1" x2="1392.6" y2="1659.1" stroke="#333" stroke-width="1"/>
<line x1="1083.6" y1="1650.2" x2="1086.6" y2="1650.2" stroke="#333" stroke-width="1"/>
<line x1="1395.6" y1="1650.2" x2="1392.6" y2="1650.2" stroke="#333" stroke-width="1"/>
<line x1="1083.6" y1="1641.3" x2="1086.6" y2="1641.3" stroke="#333" stroke-width="1"/>
<line x1="1395.6" y1="1641.3" x2="1392.6" y2="1641.3" stroke="#333" stroke-width="1"/>
<line x1="1083.6" y1="1632.4" x2="1089.6" y2="1632.4" stroke="#333" stroke-width="1"/>
<line x1="1395.6" y1="1632.4" x2="1389.6" y2="1632.4" stroke="#333" stroke-width="1"/>
<line x1="1083.6" y1="1623.5" x2="1086.6" y2="1623.5" stroke="#333" stroke-width="1"/>
<line x1="1395.6" y1="1623.5" x2="1392.6" y2="1623.5" stroke="#333" stroke-width="1"/>
<line x1="1083.6" y1="1614.6" x2="1086.6" y2="1614.6" stroke="#333" stroke-width="1"/>
<line x1="1395.6" y1="1614.6" x2="1392.6" y2="1614.6" stroke="#333" stroke-width="1"/>
<line x1="1083.6" y1="1605.7" x2="1086.6" y2="1605.7" stroke="#333" stroke-width="1"/>
<line x1="1395.6" y1="1605.7" x2="1392.6" y2="1605.7" stroke="#333" stroke-width="1"/>
<line x1="1083.6" y1="1596.8" x2="1086.6" y2="1596.8" stroke="#333" stroke-width="1"/>
<line x1="1395.6" y1="1596.8" x2="1392.6" y2="1596.8" stroke="#333" stroke-width="1"/>
<line x1="1083.6" y1="1588.0" x2="1088.1" y2="1588.0" stroke="#333" stroke-width="1"/>
<line x1="1395.6" y1="1588.0" x2="1391.1" y2="1588.0" stroke="#333" stroke-width="1"/>
<line x1="1083.6" y1="1579.1" x2="1086.6" y2="1579.1" stroke="#333" stroke-width="1"/>
<line x1="1395.6" y1="1579.1" x2="1392.6" y2="1579.1" stroke="#333" stroke-width="1"/>
<line x1="1083.6" y1="1570.2" x2="1086.6" y2="1570.2" stroke="#333" stroke-width="1"/>
<line x1="1395.6" y1="1570.2" x2="1392.6" y2="1570.2" stroke="#333" stroke-width="1"/>
<line x1="1083.6" y1="1561.3" x2="1086.6" y2="1561.3" stroke="#333" stroke-width="1"/>
<line x1="1395.6" y1="1561.3" x2="1392.6" y2="1561.3" stroke="#333" stroke-width="1"/>
<line x1="1083.6" y1="1552.4" x2="1086.6" y2="1552.4" stroke="#333" stroke-width="1"/>
<line x1="1395.6" y1="1552.4" x2="1392.6" y2="1552.4" stroke="#333" stroke-width="1"/>
<line x1="1127.4" y1="1543.5" x2="1127.4" y2="1546.5" stroke="#333" stroke-width="1"/>
<line x1="1127.4" y1="1855.0" x2="1127.4" y2="1852.0" stroke="#333" stroke-width="1"/>
<line x1="1153.0" y1="1543.5" x2="1153.0" y2="1546.5" stroke="#333" stroke-width="1"/>
<line x1="1153.0" y1="1855.0" x2="1153.0" y2="1852.0" stroke="#333" stroke-width="1"/>
<line x1="1171.2" y1="1543.5" x2="1171.2" y2="1546.5" stroke="#333" stroke-width="1"/>
<line x1="1171.2" y1="1855.0" x2="1171.2" y2="1852.0" stroke="#333" stroke-width="1"/>
<line x1="1185.3" y1="1543.5" x2="1185.3" y2="1546.5" stroke="#333" stroke-width="1"/>
<line x1="1185.3" y1="1855.0" x2="1185.3" y2="1852.0" stroke="#333" stroke-width="1"/>
<line x1="1196.8" y1="1543.5" x2="1196.8" y2="1546.5" stroke="#333" stroke-width="1"/>
<line x1="1196.8" y1="1855.0" x2="1196.8" y2="1852.0" stroke="#333" stroke-width="1"/>
<line x1="1206.6" y1="1543.5" x2="1206.6" y2="1546.5" stroke="#333" stroke-width="1"/>
<line x1="1206.6" y1="1855.0" x2="1206.6" y2="1852.0" stroke="#333" stroke-width="1"/>
<line x1="1215.0" y1="1543.5" x2="1215.0" y2="1546.5" stroke="#333" stroke-width="1"/>
<line x1="1215.0" y1="1855.0" x2="1215.0" y2="1852.0" stroke="#333" stroke-width="1"/>
<line x1="1222.4" y1="1543.5" x2="1222.4" y2="1546.5" stroke="#333" stroke-width="1"/>
<line x1="1222.4" y1="1855.0" x2="1222.4" y2="1852.0" stroke="#333" stroke-width="1"/>
<line x1="1229.1" y1="1543.5" x2="1229.1" y2="1549.5" stroke="#333" stroke-width="1"/>
<line x1="1229.1" y1="1855.0" x2="1229.1" y2="1849.0" stroke="#333" stroke-width="1"/>
<line x1="1272.9" y1="1543.5" x2="1272.9" y2="1546.5" stroke="#333" stroke-width="1"/>
<line x1="1272.9" y1="1855.0" x2="1272.9" y2="1852.0" stroke="#333" stroke-width="1"/>
<line x1="1298.5" y1="1543.5" x2="1298.5" y2="1546.5" stroke="#333" stroke-width="1"/>
<line x1="1298.5" y1="1855.0" x2="1298.5" y2="1852.0" stroke="#333" stroke-width="1"/>
<line x1="1316.7" y1="1543.5" x2="1316.7" y2="1546.5" stroke="#333" stroke-width="1"/>
<line x1="1316.7" y1="1855.0" x2="1316.7" y2="1852.0" stroke="#333" stroke-width="1"/>
<line x1="1330.8" y1="1543.5" x2="1330.8" y2="1546.5" stroke="#333" stroke-width="1"/>
<line x1="1330.8" y1="1855.0" x2="1330.8" y2="1852.0" stroke="#333" stroke-width="1"/>
<line x1="1342.3" y1="1543.5" x2="1342.3" y2="1546.5" stroke="#333" stroke-width="1"/>
<line x1="1342.3" y1="1855.0" x2="1342.3" y2="1852.0" stroke="#333" stroke-width="1"/>
<line x1="1352.1" y1="1543.5" x2="1352.1" y2="1546.5" stroke="#333" stroke-width="1"/>
<line x1="1352.1" y1="1855.0" x2="1352.1" y2="1852.0" stroke="#333" stroke-width="1"/>
<line x1="1360.5" y1="1543.5" x2="1360.5" y2="1546.5" stroke="#333" stroke-width="1"/>
<line x1="1360.5" y1="1855.0" x2="1360.5" y2="1852.0" stroke="#333" stroke-width="1"/>
<line x1="1367.9" y1="1543.5" x2="1367.9" y2="1546.5" stroke="#333" stroke-width="1"/>
<line x1="1367.9" y1="1855.0" x2="1367.9" y2="1852.0" stroke="#333" stroke-width="1"/>
<line x1="1374.6" y1="1543.5" x2="1374.6" y2="1549.5" stroke="#333" stroke-width="1"/>
<line x1="1374.6" y1="1855.0" x2="1374.6" y2="1849.0" stroke="#333" stroke-width="1"/>
<text x="1076" y="1545.8" font-size="20" text-anchor="end" font-weight="normal" font-style="normal" fill="#000" font-family='"Liberation Sans", sans-serif'>0.2</text>
<text x="1076" y="1634.7" font-size="20" text-anchor="end" font-weight="normal" font-style="normal" fill="#000" font-family='"Liberation Sans", sans-serif'>0.1</text>
<text x="1076" y="1723.6" font-size="20" text-anchor="end" font-weight="normal" font-style="normal" fill="#000" font-family='"Liberation Sans", sans-serif'>0</text>
<text x="1076" y="1812.5" font-size="20" text-anchor="end" font-weight="normal" font-style="normal" fill="#000" font-family='"Liberation Sans", sans-serif'>-0.1</text>
<text x="1083.6" y="1877.7" font-size="19" text-anchor="middle" font-weight="normal" font-style="normal" fill="#000" font-family='"Liberation Sans", sans-serif'>0.1</text>
<text x="1229.1" y="1877.7" font-size="19" text-anchor="middle" font-weight="normal" font-style="normal" fill="#000" font-family='"Liberation Sans", sans-serif'>1</text>
<text x="1374.6" y="1877.7" font-size="19" text-anchor="middle" font-weight="normal" font-style="normal" fill="#000" font-family='"Liberation Sans", sans-serif'>10</text>
<text x="1127.2" y="1904.3" font-size="27" text-anchor="start" font-weight="normal" font-style="normal" fill="#000" font-family='"Liberation Sans", sans-serif' textLength="199" lengthAdjust="spacingAndGlyphs">Frequency, GHz</text>
<text transform="translate(1037.6,1706.5) rotate(-90)" font-size="27" font-family='"Liberation Sans", sans-serif'>Δr</text>
<line x1="1083.6" y1="1721.3" x2="1395.6" y2="1721.3" stroke="#000" stroke-width="2.2" stroke-dasharray="2.2,2.2"/>
<g opacity="0.75"><rect x="1121.1" y="1630.0" width="1.2" height="1.2" fill="#2a3ad8"/><rect x="1094.3" y="1624.6" width="1.2" height="1.2" fill="#2a3ad8"/><rect x="1143.6" y="1621.9" width="1.2" height="1.2" fill="#2a3ad8"/><rect x="1140.6" y="1630.2" width="1.2" height="1.2" fill="#2a3ad8"/><rect x="1090.6" y="1589.6" width="1.2" height="1.2" fill="#2a3ad8"/><rect x="1096.3" y="1602.8" width="1.2" height="1.2" fill="#2a3ad8"/><rect x="1131.8" y="1622.7" width="1.2" height="1.2" fill="#2a3ad8"/><rect x="1110.4" y="1595.5" width="1.2" height="1.2" fill="#2a3ad8"/><rect x="1153.4" y="1662.1" width="1.2" height="1.2" fill="#2a3ad8"/><rect x="1128.8" y="1606.3" width="1.2" height="1.2" fill="#2a3ad8"/><rect x="1190.5" y="1719.9" width="1.2" height="1.2" fill="#2a3ad8"/><rect x="1117.4" y="1621.9" width="1.2" height="1.2" fill="#2a3ad8"/><rect x="1101.9" y="1615.6" width="1.2" height="1.2" fill="#2a3ad8"/><rect x="1173.4" y="1669.9" width="1.2" height="1.2" fill="#2a3ad8"/><rect x="1105.8" y="1575.8" width="1.2" height="1.2" fill="#2a3ad8"/><rect x="1126.2" y="1598.7" width="1.2" height="1.2" fill="#2a3ad8"/><rect x="1144.9" y="1635.1" width="1.2" height="1.2" fill="#2a3ad8"/><rect x="1108.5" y="1607.4" width="1.2" height="1.2" fill="#2a3ad8"/><rect x="1159.0" y="1623.6" width="1.2" height="1.2" fill="#2a3ad8"/><rect x="1148.9" y="1639.6" width="1.2" height="1.2" fill="#2a3ad8"/><rect x="1134.8" y="1607.9" width="1.2" height="1.2" fill="#2a3ad8"/><rect x="1161.0" y="1680.3" width="1.2" height="1.2" fill="#2a3ad8"/><rect x="1112.6" y="1582.7" width="1.2" height="1.2" fill="#2a3ad8"/><rect x="1179.7" y="1653.4" width="1.2" height="1.2" fill="#2a3ad8"/><rect x="1164.2" y="1632.1" width="1.2" height="1.2" fill="#2a3ad8"/><rect x="1099.2" y="1660.5" width="1.2" height="1.2" fill="#2a3ad8"/><rect x="1131.1" y="1617.5" width="1.2" height="1.2" fill="#2a3ad8"/><rect x="1138.6" y="1610.3" width="1.2" height="1.2" fill="#2a3ad8"/><rect x="1090.8" y="1578.9" width="1.2" height="1.2" fill="#2a3ad8"/><rect x="1147.6" y="1597.5" width="1.2" height="1.2" fill="#2a3ad8"/><rect x="1179.8" y="1652.3" width="1.2" height="1.2" fill="#2a3ad8"/><rect x="1149.8" y="1663.2" width="1.2" height="1.2" fill="#2a3ad8"/><rect x="1148.3" y="1590.2" width="1.2" height="1.2" fill="#2a3ad8"/><rect x="1187.1" y="1686.8" width="1.2" height="1.2" fill="#2a3ad8"/><rect x="1137.0" y="1617.7" width="1.2" height="1.2" fill="#2a3ad8"/><rect x="1161.2" y="1636.6" width="1.2" height="1.2" fill="#2a3ad8"/><rect x="1155.5" y="1677.6" width="1.2" height="1.2" fill="#2a3ad8"/><rect x="1116.9" y="1607.3" width="1.2" height="1.2" fill="#2a3ad8"/><rect x="1127.6" y="1612.6" width="1.2" height="1.2" fill="#2a3ad8"/><rect x="1135.7" y="1616.5" width="1.2" height="1.2" fill="#2a3ad8"/><rect x="1104.5" y="1608.4" width="1.2" height="1.2" fill="#2a3ad8"/><rect x="1168.3" y="1656.5" width="1.2" height="1.2" fill="#2a3ad8"/><rect x="1100.4" y="1601.4" width="1.2" height="1.2" fill="#2a3ad8"/><rect x="1179.3" y="1686.9" width="1.2" height="1.2" fill="#2a3ad8"/><rect x="1095.2" y="1572.7" width="1.2" height="1.2" fill="#2a3ad8"/><rect x="1299.8" y="1709.1" width="1.2" height="1.2" fill="#2a3ad8"/><rect x="1291.5" y="1705.8" width="1.2" height="1.2" fill="#2a3ad8"/><rect x="1239.0" y="1690.2" width="1.2" height="1.2" fill="#2a3ad8"/><rect x="1231.6" y="1704.7" width="1.2" height="1.2" fill="#2a3ad8"/><rect x="1204.6" y="1674.6" width="1.2" height="1.2" fill="#2a3ad8"/><rect x="1207.9" y="1687.2" width="1.2" height="1.2" fill="#2a3ad8"/><rect x="1248.0" y="1697.4" width="1.2" height="1.2" fill="#2a3ad8"/><rect x="1261.6" y="1689.6" width="1.2" height="1.2" fill="#2a3ad8"/><rect x="1239.5" y="1694.7" width="1.2" height="1.2" fill="#2a3ad8"/><rect x="1233.0" y="1678.1" width="1.2" height="1.2" fill="#2a3ad8"/><rect x="1274.8" y="1691.6" width="1.2" height="1.2" fill="#2a3ad8"/><rect x="1252.0" y="1684.3" width="1.2" height="1.2" fill="#2a3ad8"/><rect x="1192.0" y="1669.9" width="1.2" height="1.2" fill="#2a3ad8"/><rect x="1301.9" y="1710.1" width="1.2" height="1.2" fill="#2a3ad8"/><rect x="1288.7" y="1688.8" width="1.2" height="1.2" fill="#2a3ad8"/><rect x="1236.0" y="1691.1" width="1.2" height="1.2" fill="#2a3ad8"/><rect x="1267.5" y="1694.4" width="1.2" height="1.2" fill="#2a3ad8"/><rect x="1193.1" y="1681.5" width="1.2" height="1.2" fill="#2a3ad8"/><rect x="1206.1" y="1687.8" width="1.2" height="1.2" fill="#2a3ad8"/><rect x="1229.2" y="1692.1" width="1.2" height="1.2" fill="#2a3ad8"/><rect x="1204.7" y="1685.5" width="1.2" height="1.2" fill="#2a3ad8"/><rect x="1198.2" y="1680.7" width="1.2" height="1.2" fill="#2a3ad8"/><rect x="1298.7" y="1707.0" width="1.2" height="1.2" fill="#2a3ad8"/><rect x="1264.8" y="1694.2" width="1.2" height="1.2" fill="#2a3ad8"/><rect x="1230.2" y="1696.2" width="1.2" height="1.2" fill="#2a3ad8"/><rect x="1232.3" y="1701.7" width="1.2" height="1.2" fill="#2a3ad8"/><rect x="1314.1" y="1724.9" width="1.2" height="1.2" fill="#2a3ad8"/><rect x="1245.6" y="1690.4" width="1.2" height="1.2" fill="#2a3ad8"/><rect x="1198.3" y="1682.0" width="1.2" height="1.2" fill="#2a3ad8"/><rect x="1229.5" y="1690.9" width="1.2" height="1.2" fill="#2a3ad8"/><rect x="1206.0" y="1698.1" width="1.2" height="1.2" fill="#2a3ad8"/><rect x="1188.0" y="1680.8" width="1.2" height="1.2" fill="#2a3ad8"/><rect x="1204.1" y="1682.9" width="1.2" height="1.2" fill="#2a3ad8"/><rect x="1255.6" y="1698.3" width="1.2" height="1.2" fill="#2a3ad8"/><rect x="1312.2" y="1714.9" width="1.2" height="1.2" fill="#2a3ad8"/><rect x="1297.2" y="1703.5" width="1.2" height="1.2" fill="#2a3ad8"/><rect x="1232.7" y="1688.0" width="1.2" height="1.2" fill="#2a3ad8"/><rect x="1206.7" y="1687.3" width="1.2" height="1.2" fill="#2a3ad8"/><rect x="1286.3" y="1693.7" width="1.2" height="1.2" fill="#2a3ad8"/><rect x="1227.9" y="1693.7" width="1.2" height="1.2" fill="#2a3ad8"/><rect x="1313.0" y="1726.4" width="1.2" height="1.2" fill="#2a3ad8"/><rect x="1295.8" y="1708.6" width="1.2" height="1.2" fill="#2a3ad8"/><rect x="1281.2" y="1690.1" width="1.2" height="1.2" fill="#2a3ad8"/><rect x="1214.5" y="1682.8" width="1.2" height="1.2" fill="#2a3ad8"/><rect x="1188.8" y="1673.1" width="1.2" height="1.2" fill="#2a3ad8"/><rect x="1188.6" y="1672.8" width="1.2" height="1.2" fill="#2a3ad8"/><rect x="1275.0" y="1703.3" width="1.2" height="1.2" fill="#2a3ad8"/><rect x="1309.3" y="1697.4" width="1.2" height="1.2" fill="#2a3ad8"/><rect x="1313.4" y="1720.2" width="1.2" height="1.2" fill="#2a3ad8"/><rect x="1309.2" y="1708.7" width="1.2" height="1.2" fill="#2a3ad8"/><rect x="1214.5" y="1692.3" width="1.2" height="1.2" fill="#2a3ad8"/><rect x="1210.6" y="1690.2" width="1.2" height="1.2" fill="#2a3ad8"/><rect x="1302.0" y="1716.4" width="1.2" height="1.2" fill="#2a3ad8"/><rect x="1294.3" y="1694.3" width="1.2" height="1.2" fill="#2a3ad8"/><rect x="1289.0" y="1703.0" width="1.2" height="1.2" fill="#2a3ad8"/><rect x="1196.0" y="1672.2" width="1.2" height="1.2" fill="#2a3ad8"/><rect x="1286.7" y="1689.6" width="1.2" height="1.2" fill="#2a3ad8"/><rect x="1282.5" y="1697.4" width="1.2" height="1.2" fill="#2a3ad8"/><rect x="1287.6" y="1702.3" width="1.2" height="1.2" fill="#2a3ad8"/><rect x="1228.2" y="1697.2" width="1.2" height="1.2" fill="#2a3ad8"/><rect x="1236.5" y="1677.1" width="1.2" height="1.2" fill="#2a3ad8"/><rect x="1237.2" y="1703.6" width="1.2" height="1.2" fill="#2a3ad8"/><rect x="1207.1" y="1683.0" width="1.2" height="1.2" fill="#2a3ad8"/><rect x="1201.5" y="1692.5" width="1.2" height="1.2" fill="#2a3ad8"/><rect x="1289.8" y="1713.3" width="1.2" height="1.2" fill="#2a3ad8"/><rect x="1204.0" y="1693.7" width="1.2" height="1.2" fill="#2a3ad8"/><rect x="1270.4" y="1678.4" width="1.2" height="1.2" fill="#2a3ad8"/><rect x="1230.6" y="1689.0" width="1.2" height="1.2" fill="#2a3ad8"/><rect x="1186.9" y="1671.0" width="1.2" height="1.2" fill="#2a3ad8"/><rect x="1311.2" y="1708.2" width="1.2" height="1.2" fill="#2a3ad8"/><rect x="1306.4" y="1703.7" width="1.2" height="1.2" fill="#2a3ad8"/><rect x="1241.4" y="1702.2" width="1.2" height="1.2" fill="#2a3ad8"/><rect x="1212.4" y="1679.5" width="1.2" height="1.2" fill="#2a3ad8"/><rect x="1217.7" y="1688.2" width="1.2" height="1.2" fill="#2a3ad8"/><rect x="1261.2" y="1694.1" width="1.2" height="1.2" fill="#2a3ad8"/><rect x="1218.7" y="1686.7" width="1.2" height="1.2" fill="#2a3ad8"/><rect x="1303.3" y="1710.1" width="1.2" height="1.2" fill="#2a3ad8"/><rect x="1231.0" y="1684.1" width="1.2" height="1.2" fill="#2a3ad8"/><rect x="1302.6" y="1710.2" width="1.2" height="1.2" fill="#2a3ad8"/><rect x="1239.7" y="1700.8" width="1.2" height="1.2" fill="#2a3ad8"/><rect x="1254.1" y="1687.1" width="1.2" height="1.2" fill="#2a3ad8"/><rect x="1253.1" y="1698.2" width="1.2" height="1.2" fill="#2a3ad8"/><rect x="1208.8" y="1687.8" width="1.2" height="1.2" fill="#2a3ad8"/><rect x="1185.5" y="1671.4" width="1.2" height="1.2" fill="#2a3ad8"/><rect x="1246.6" y="1689.1" width="1.2" height="1.2" fill="#2a3ad8"/><rect x="1279.3" y="1695.8" width="1.2" height="1.2" fill="#2a3ad8"/><rect x="1252.4" y="1689.4" width="1.2" height="1.2" fill="#2a3ad8"/><rect x="1257.2" y="1690.6" width="1.2" height="1.2" fill="#2a3ad8"/><rect x="1257.8" y="1686.7" width="1.2" height="1.2" fill="#2a3ad8"/><rect x="1217.3" y="1687.6" width="1.2" height="1.2" fill="#2a3ad8"/><rect x="1251.0" y="1702.9" width="1.2" height="1.2" fill="#2a3ad8"/><rect x="1258.0" y="1690.6" width="1.2" height="1.2" fill="#2a3ad8"/><rect x="1242.6" y="1679.3" width="1.2" height="1.2" fill="#2a3ad8"/><rect x="1264.6" y="1683.4" width="1.2" height="1.2" fill="#2a3ad8"/><rect x="1275.1" y="1698.1" width="1.2" height="1.2" fill="#2a3ad8"/><rect x="1243.8" y="1686.1" width="1.2" height="1.2" fill="#2a3ad8"/><rect x="1307.4" y="1709.2" width="1.2" height="1.2" fill="#2a3ad8"/><rect x="1275.9" y="1710.2" width="1.2" height="1.2" fill="#2a3ad8"/><rect x="1218.7" y="1678.9" width="1.2" height="1.2" fill="#2a3ad8"/><rect x="1257.7" y="1701.4" width="1.2" height="1.2" fill="#2a3ad8"/><rect x="1202.8" y="1680.5" width="1.2" height="1.2" fill="#2a3ad8"/><rect x="1200.8" y="1681.5" width="1.2" height="1.2" fill="#2a3ad8"/><rect x="1216.3" y="1690.1" width="1.2" height="1.2" fill="#2a3ad8"/><rect x="1194.5" y="1673.1" width="1.2" height="1.2" fill="#2a3ad8"/><rect x="1301.6" y="1697.5" width="1.2" height="1.2" fill="#2a3ad8"/><rect x="1205.1" y="1683.6" width="1.2" height="1.2" fill="#2a3ad8"/><rect x="1203.6" y="1675.8" width="1.2" height="1.2" fill="#2a3ad8"/><rect x="1299.8" y="1711.0" width="1.2" height="1.2" fill="#2a3ad8"/><rect x="1308.8" y="1710.6" width="1.2" height="1.2" fill="#2a3ad8"/><rect x="1236.8" y="1674.0" width="1.2" height="1.2" fill="#2a3ad8"/><rect x="1293.2" y="1704.7" width="1.2" height="1.2" fill="#2a3ad8"/><rect x="1206.0" y="1678.9" width="1.2" height="1.2" fill="#2a3ad8"/><rect x="1229.1" y="1695.2" width="1.2" height="1.2" fill="#2a3ad8"/><rect x="1210.4" y="1683.3" width="1.2" height="1.2" fill="#2a3ad8"/><rect x="1187.5" y="1682.2" width="1.2" height="1.2" fill="#2a3ad8"/><rect x="1257.0" y="1688.8" width="1.2" height="1.2" fill="#2a3ad8"/><rect x="1228.1" y="1692.2" width="1.2" height="1.2" fill="#2a3ad8"/><rect x="1266.1" y="1689.6" width="1.2" height="1.2" fill="#2a3ad8"/><rect x="1313.1" y="1714.5" width="1.2" height="1.2" fill="#2a3ad8"/><rect x="1287.5" y="1704.7" width="1.2" height="1.2" fill="#2a3ad8"/><rect x="1219.5" y="1689.3" width="1.2" height="1.2" fill="#2a3ad8"/><rect x="1190.1" y="1675.9" width="1.2" height="1.2" fill="#2a3ad8"/><rect x="1201.8" y="1679.4" width="1.2" height="1.2" fill="#2a3ad8"/><rect x="1239.9" y="1704.3" width="1.2" height="1.2" fill="#2a3ad8"/><rect x="1218.6" y="1683.4" width="1.2" height="1.2" fill="#2a3ad8"/><rect x="1204.4" y="1692.8" width="1.2" height="1.2" fill="#2a3ad8"/><rect x="1276.1" y="1695.1" width="1.2" height="1.2" fill="#2a3ad8"/><rect x="1196.6" y="1689.6" width="1.2" height="1.2" fill="#2a3ad8"/><rect x="1240.3" y="1697.5" width="1.2" height="1.2" fill="#2a3ad8"/><rect x="1194.4" y="1687.0" width="1.2" height="1.2" fill="#2a3ad8"/><rect x="1289.2" y="1698.3" width="1.2" height="1.2" fill="#2a3ad8"/><rect x="1195.9" y="1681.2" width="1.2" height="1.2" fill="#2a3ad8"/><rect x="1297.2" y="1703.3" width="1.2" height="1.2" fill="#2a3ad8"/><rect x="1244.0" y="1689.0" width="1.2" height="1.2" fill="#2a3ad8"/><rect x="1305.5" y="1716.6" width="1.2" height="1.2" fill="#2a3ad8"/><rect x="1219.8" y="1695.4" width="1.2" height="1.2" fill="#2a3ad8"/><rect x="1216.0" y="1694.9" width="1.2" height="1.2" fill="#2a3ad8"/><rect x="1199.2" y="1683.6" width="1.2" height="1.2" fill="#2a3ad8"/><rect x="1211.2" y="1689.7" width="1.2" height="1.2" fill="#2a3ad8"/><rect x="1225.6" y="1687.4" width="1.2" height="1.2" fill="#2a3ad8"/><rect x="1222.7" y="1700.9" width="1.2" height="1.2" fill="#2a3ad8"/><rect x="1250.0" y="1694.8" width="1.2" height="1.2" fill="#2a3ad8"/><rect x="1187.4" y="1678.0" width="1.2" height="1.2" fill="#2a3ad8"/><rect x="1217.6" y="1700.0" width="1.2" height="1.2" fill="#2a3ad8"/><rect x="1256.6" y="1691.1" width="1.2" height="1.2" fill="#2a3ad8"/><rect x="1209.6" y="1672.3" width="1.2" height="1.2" fill="#2a3ad8"/><rect x="1198.8" y="1684.6" width="1.2" height="1.2" fill="#2a3ad8"/><rect x="1291.5" y="1695.4" width="1.2" height="1.2" fill="#2a3ad8"/><rect x="1293.5" y="1706.5" width="1.2" height="1.2" fill="#2a3ad8"/><rect x="1236.1" y="1683.6" width="1.2" height="1.2" fill="#2a3ad8"/><rect x="1312.7" y="1713.8" width="1.2" height="1.2" fill="#2a3ad8"/><rect x="1229.6" y="1697.1" width="1.2" height="1.2" fill="#2a3ad8"/><rect x="1267.7" y="1683.9" width="1.2" height="1.2" fill="#2a3ad8"/><rect x="1237.6" y="1692.6" width="1.2" height="1.2" fill="#2a3ad8"/><rect x="1201.9" y="1686.3" width="1.2" height="1.2" fill="#2a3ad8"/><rect x="1194.2" y="1678.0" width="1.2" height="1.2" fill="#2a3ad8"/><rect x="1206.2" y="1681.1" width="1.2" height="1.2" fill="#2a3ad8"/><rect x="1196.0" y="1686.9" width="1.2" height="1.2" fill="#2a3ad8"/><rect x="1272.2" y="1684.9" width="1.2" height="1.2" fill="#2a3ad8"/><rect x="1221.7" y="1690.6" width="1.2" height="1.2" fill="#2a3ad8"/><rect x="1244.7" y="1698.6" width="1.2" height="1.2" fill="#2a3ad8"/><rect x="1205.5" y="1681.0" width="1.2" height="1.2" fill="#2a3ad8"/><rect x="1310.0" y="1713.9" width="1.2" height="1.2" fill="#2a3ad8"/><rect x="1311.4" y="1708.4" width="1.2" height="1.2" fill="#2a3ad8"/><rect x="1310.5" y="1711.1" width="1.2" height="1.2" fill="#2a3ad8"/><rect x="1225.2" y="1690.9" width="1.2" height="1.2" fill="#2a3ad8"/><rect x="1234.6" y="1693.4" width="1.2" height="1.2" fill="#2a3ad8"/><rect x="1246.7" y="1688.6" width="1.2" height="1.2" fill="#2a3ad8"/><rect x="1250.6" y="1691.9" width="1.2" height="1.2" fill="#2a3ad8"/><rect x="1185.6" y="1670.1" width="1.2" height="1.2" fill="#2a3ad8"/><rect x="1236.9" y="1696.5" width="1.2" height="1.2" fill="#2a3ad8"/><rect x="1190.4" y="1680.7" width="1.2" height="1.2" fill="#2a3ad8"/><rect x="1215.3" y="1689.8" width="1.2" height="1.2" fill="#2a3ad8"/><rect x="1261.1" y="1678.8" width="1.2" height="1.2" fill="#2a3ad8"/><rect x="1270.5" y="1692.6" width="1.2" height="1.2" fill="#2a3ad8"/><rect x="1278.1" y="1705.6" width="1.2" height="1.2" fill="#2a3ad8"/><rect x="1227.4" y="1687.1" width="1.2" height="1.2" fill="#2a3ad8"/><rect x="1313.0" y="1720.8" width="1.2" height="1.2" fill="#2a3ad8"/><rect x="1268.6" y="1701.6" width="1.2" height="1.2" fill="#2a3ad8"/><rect x="1190.7" y="1682.4" width="1.2" height="1.2" fill="#2a3ad8"/><rect x="1266.6" y="1680.4" width="1.2" height="1.2" fill="#2a3ad8"/><rect x="1280.4" y="1702.7" width="1.2" height="1.2" fill="#2a3ad8"/><rect x="1253.1" y="1687.9" width="1.2" height="1.2" fill="#2a3ad8"/><rect x="1250.6" y="1697.9" width="1.2" height="1.2" fill="#2a3ad8"/><rect x="1292.4" y="1692.7" width="1.2" height="1.2" fill="#2a3ad8"/><rect x="1260.9" y="1697.0" width="1.2" height="1.2" fill="#2a3ad8"/><rect x="1275.1" y="1692.3" width="1.2" height="1.2" fill="#2a3ad8"/><rect x="1214.9" y="1692.4" width="1.2" height="1.2" fill="#2a3ad8"/><rect x="1231.9" y="1693.2" width="1.2" height="1.2" fill="#2a3ad8"/><rect x="1198.6" y="1686.3" width="1.2" height="1.2" fill="#2a3ad8"/><rect x="1266.6" y="1685.1" width="1.2" height="1.2" fill="#2a3ad8"/><rect x="1266.4" y="1688.9" width="1.2" height="1.2" fill="#2a3ad8"/><rect x="1185.4" y="1663.3" width="1.2" height="1.2" fill="#2a3ad8"/><rect x="1288.7" y="1701.7" width="1.2" height="1.2" fill="#2a3ad8"/><rect x="1254.6" y="1683.1" width="1.2" height="1.2" fill="#2a3ad8"/><rect x="1270.7" y="1704.5" width="1.2" height="1.2" fill="#2a3ad8"/><rect x="1217.8" y="1693.8" width="1.2" height="1.2" fill="#2a3ad8"/><rect x="1194.7" y="1677.7" width="1.2" height="1.2" fill="#2a3ad8"/><rect x="1211.7" y="1698.5" width="1.2" height="1.2" fill="#2a3ad8"/><rect x="1281.2" y="1708.9" width="1.2" height="1.2" fill="#2a3ad8"/><rect x="1234.7" y="1692.1" width="1.2" height="1.2" fill="#2a3ad8"/><rect x="1247.3" y="1688.3" width="1.2" height="1.2" fill="#2a3ad8"/><rect x="1265.2" y="1681.3" width="1.2" height="1.2" fill="#2a3ad8"/><rect x="1268.6" y="1696.4" width="1.2" height="1.2" fill="#2a3ad8"/><rect x="1218.0" y="1691.3" width="1.2" height="1.2" fill="#2a3ad8"/><rect x="1281.6" y="1698.6" width="1.2" height="1.2" fill="#2a3ad8"/><rect x="1186.6" y="1679.6" width="1.2" height="1.2" fill="#2a3ad8"/><rect x="1192.9" y="1676.1" width="1.2" height="1.2" fill="#2a3ad8"/><rect x="1275.0" y="1708.0" width="1.2" height="1.2" fill="#2a3ad8"/><rect x="1272.8" y="1694.6" width="1.2" height="1.2" fill="#2a3ad8"/><rect x="1245.4" y="1700.7" width="1.2" height="1.2" fill="#2a3ad8"/><rect x="1245.6" y="1703.2" width="1.2" height="1.2" fill="#2a3ad8"/><rect x="1210.9" y="1697.1" width="1.2" height="1.2" fill="#2a3ad8"/><rect x="1312.2" y="1714.6" width="1.2" height="1.2" fill="#2a3ad8"/><rect x="1244.7" y="1692.8" width="1.2" height="1.2" fill="#2a3ad8"/><rect x="1291.6" y="1709.3" width="1.2" height="1.2" fill="#2a3ad8"/><rect x="1219.9" y="1688.6" width="1.2" height="1.2" fill="#2a3ad8"/><rect x="1212.3" y="1692.5" width="1.2" height="1.2" fill="#2a3ad8"/><rect x="1260.6" y="1687.6" width="1.2" height="1.2" fill="#2a3ad8"/><rect x="1203.4" y="1669.2" width="1.2" height="1.2" fill="#2a3ad8"/><rect x="1202.2" y="1682.2" width="1.2" height="1.2" fill="#2a3ad8"/><rect x="1291.6" y="1688.8" width="1.2" height="1.2" fill="#2a3ad8"/><rect x="1276.4" y="1698.8" width="1.2" height="1.2" fill="#2a3ad8"/><rect x="1215.1" y="1695.0" width="1.2" height="1.2" fill="#2a3ad8"/><rect x="1188.2" y="1668.9" width="1.2" height="1.2" fill="#2a3ad8"/><rect x="1185.5" y="1663.1" width="1.2" height="1.2" fill="#2a3ad8"/><rect x="1224.3" y="1691.2" width="1.2" height="1.2" fill="#2a3ad8"/><rect x="1203.3" y="1681.8" width="1.2" height="1.2" fill="#2a3ad8"/><rect x="1294.2" y="1708.4" width="1.2" height="1.2" fill="#2a3ad8"/><rect x="1185.2" y="1669.9" width="1.2" height="1.2" fill="#2a3ad8"/><rect x="1200.6" y="1671.2" width="1.2" height="1.2" fill="#2a3ad8"/><rect x="1305.4" y="1706.4" width="1.2" height="1.2" fill="#2a3ad8"/><rect x="1222.7" y="1676.9" width="1.2" height="1.2" fill="#2a3ad8"/><rect x="1233.4" y="1674.3" width="1.2" height="1.2" fill="#2a3ad8"/><rect x="1261.6" y="1704.5" width="1.2" height="1.2" fill="#2a3ad8"/><rect x="1231.9" y="1687.9" width="1.2" height="1.2" fill="#2a3ad8"/><rect x="1191.3" y="1678.2" width="1.2" height="1.2" fill="#2a3ad8"/><rect x="1198.2" y="1684.4" width="1.2" height="1.2" fill="#2a3ad8"/><rect x="1306.6" y="1705.7" width="1.2" height="1.2" fill="#2a3ad8"/><rect x="1217.4" y="1688.7" width="1.2" height="1.2" fill="#2a3ad8"/><rect x="1209.7" y="1695.1" width="1.2" height="1.2" fill="#2a3ad8"/><rect x="1233.5" y="1705.9" width="1.2" height="1.2" fill="#2a3ad8"/><rect x="1290.6" y="1698.2" width="1.2" height="1.2" fill="#2a3ad8"/><rect x="1267.0" y="1705.6" width="1.2" height="1.2" fill="#2a3ad8"/><rect x="1256.4" y="1682.2" width="1.2" height="1.2" fill="#2a3ad8"/><rect x="1278.5" y="1711.3" width="1.2" height="1.2" fill="#2a3ad8"/><rect x="1243.6" y="1696.7" width="1.2" height="1.2" fill="#2a3ad8"/><rect x="1282.8" y="1698.2" width="1.2" height="1.2" fill="#2a3ad8"/><rect x="1191.4" y="1671.8" width="1.2" height="1.2" fill="#2a3ad8"/><rect x="1305.5" y="1714.7" width="1.2" height="1.2" fill="#2a3ad8"/><rect x="1229.7" y="1697.3" width="1.2" height="1.2" fill="#2a3ad8"/><rect x="1223.7" y="1689.5" width="1.2" height="1.2" fill="#2a3ad8"/><rect x="1218.8" y="1672.0" width="1.2" height="1.2" fill="#2a3ad8"/><rect x="1270.3" y="1691.8" width="1.2" height="1.2" fill="#2a3ad8"/><rect x="1236.3" y="1701.4" width="1.2" height="1.2" fill="#2a3ad8"/><rect x="1206.8" y="1688.6" width="1.2" height="1.2" fill="#2a3ad8"/><rect x="1302.8" y="1711.9" width="1.2" height="1.2" fill="#2a3ad8"/><rect x="1249.6" y="1694.9" width="1.2" height="1.2" fill="#2a3ad8"/><rect x="1314.5" y="1730.6" width="1.2" height="1.2" fill="#2a3ad8"/><rect x="1243.5" y="1696.2" width="1.2" height="1.2" fill="#2a3ad8"/><rect x="1196.8" y="1683.7" width="1.2" height="1.2" fill="#2a3ad8"/><rect x="1229.5" y="1696.1" width="1.2" height="1.2" fill="#2a3ad8"/><rect x="1218.6" y="1692.3" width="1.2" height="1.2" fill="#2a3ad8"/><rect x="1259.1" y="1697.6" width="1.2" height="1.2" fill="#2a3ad8"/><rect x="1238.7" y="1687.1" width="1.2" height="1.2" fill="#2a3ad8"/><rect x="1238.8" y="1687.9" width="1.2" height="1.2" fill="#2a3ad8"/><rect x="1229.0" y="1690.9" width="1.2" height="1.2" fill="#2a3ad8"/><rect x="1193.1" y="1674.5" width="1.2" height="1.2" fill="#2a3ad8"/><rect x="1201.4" y="1701.0" width="1.2" height="1.2" fill="#2a3ad8"/><rect x="1250.4" y="1683.1" width="1.2" height="1.2" fill="#2a3ad8"/><rect x="1213.1" y="1679.1" width="1.2" height="1.2" fill="#2a3ad8"/><rect x="1220.2" y="1690.1" width="1.2" height="1.2" fill="#2a3ad8"/><rect x="1243.0" y="1700.1" width="1.2" height="1.2" fill="#2a3ad8"/><rect x="1309.0" y="1719.3" width="1.2" height="1.2" fill="#2a3ad8"/><rect x="1187.8" y="1662.3" width="1.2" height="1.2" fill="#2a3ad8"/><rect x="1189.2" y="1670.7" width="1.2" height="1.2" fill="#2a3ad8"/><rect x="1246.5" y="1679.6" width="1.2" height="1.2" fill="#2a3ad8"/><rect x="1261.3" y="1696.0" width="1.2" height="1.2" fill="#2a3ad8"/><rect x="1305.5" y="1709.6" width="1.2" height="1.2" fill="#2a3ad8"/><rect x="1292.3" y="1713.4" width="1.2" height="1.2" fill="#2a3ad8"/><rect x="1217.3" y="1675.7" width="1.2" height="1.2" fill="#2a3ad8"/><rect x="1199.2" y="1686.9" width="1.2" height="1.2" fill="#2a3ad8"/><rect x="1273.7" y="1703.8" width="1.2" height="1.2" fill="#2a3ad8"/><rect x="1307.4" y="1709.1" width="1.2" height="1.2" fill="#2a3ad8"/><rect x="1284.4" y="1692.3" width="1.2" height="1.2" fill="#2a3ad8"/><rect x="1244.5" y="1691.5" width="1.2" height="1.2" fill="#2a3ad8"/><rect x="1286.7" y="1701.1" width="1.2" height="1.2" fill="#2a3ad8"/><rect x="1215.2" y="1697.2" width="1.2" height="1.2" fill="#2a3ad8"/><rect x="1224.5" y="1686.4" width="1.2" height="1.2" fill="#2a3ad8"/><rect x="1201.6" y="1684.3" width="1.2" height="1.2" fill="#2a3ad8"/><rect x="1275.8" y="1708.3" width="1.2" height="1.2" fill="#2a3ad8"/><rect x="1199.6" y="1690.0" width="1.2" height="1.2" fill="#2a3ad8"/><rect x="1260.8" y="1692.6" width="1.2" height="1.2" fill="#2a3ad8"/><rect x="1235.5" y="1694.8" width="1.2" height="1.2" fill="#2a3ad8"/><rect x="1186.4" y="1680.0" width="1.2" height="1.2" fill="#2a3ad8"/><rect x="1224.2" y="1674.9" width="1.2" height="1.2" fill="#2a3ad8"/><rect x="1268.8" y="1697.3" width="1.2" height="1.2" fill="#2a3ad8"/><rect x="1299.9" y="1701.8" width="1.2" height="1.2" fill="#2a3ad8"/><rect x="1217.1" y="1690.1" width="1.2" height="1.2" fill="#2a3ad8"/><rect x="1309.9" y="1710.6" width="1.2" height="1.2" fill="#2a3ad8"/><rect x="1187.8" y="1667.7" width="1.2" height="1.2" fill="#2a3ad8"/><rect x="1249.8" y="1689.1" width="1.2" height="1.2" fill="#2a3ad8"/><rect x="1218.4" y="1683.6" width="1.2" height="1.2" fill="#2a3ad8"/><rect x="1271.8" y="1699.8" width="1.2" height="1.2" fill="#2a3ad8"/><rect x="1189.4" y="1672.3" width="1.2" height="1.2" fill="#2a3ad8"/><rect x="1228.9" y="1683.3" width="1.2" height="1.2" fill="#2a3ad8"/><rect x="1210.8" y="1692.4" width="1.2" height="1.2" fill="#2a3ad8"/><rect x="1288.6" y="1701.3" width="1.2" height="1.2" fill="#2a3ad8"/><rect x="1211.7" y="1680.4" width="1.2" height="1.2" fill="#2a3ad8"/><rect x="1311.1" y="1708.3" width="1.2" height="1.2" fill="#2a3ad8"/><rect x="1215.0" y="1700.1" width="1.2" height="1.2" fill="#2a3ad8"/><rect x="1213.8" y="1689.1" width="1.2" height="1.2" fill="#2a3ad8"/><rect x="1308.8" y="1706.1" width="1.2" height="1.2" fill="#2a3ad8"/><rect x="1249.4" y="1694.1" width="1.2" height="1.2" fill="#2a3ad8"/><rect x="1239.2" y="1698.4" width="1.2" height="1.2" fill="#2a3ad8"/><rect x="1271.5" y="1698.9" width="1.2" height="1.2" fill="#2a3ad8"/><rect x="1236.1" y="1692.4" width="1.2" height="1.2" fill="#2a3ad8"/><rect x="1212.7" y="1692.0" width="1.2" height="1.2" fill="#2a3ad8"/><rect x="1191.7" y="1675.7" width="1.2" height="1.2" fill="#2a3ad8"/><rect x="1192.8" y="1666.3" width="1.2" height="1.2" fill="#2a3ad8"/><rect x="1299.9" y="1715.2" width="1.2" height="1.2" fill="#2a3ad8"/><rect x="1280.3" y="1716.4" width="1.2" height="1.2" fill="#2a3ad8"/><rect x="1227.8" y="1691.4" width="1.2" height="1.2" fill="#2a3ad8"/><rect x="1209.1" y="1697.0" width="1.2" height="1.2" fill="#2a3ad8"/><rect x="1189.1" y="1669.9" width="1.2" height="1.2" fill="#2a3ad8"/><rect x="1271.4" y="1690.8" width="1.2" height="1.2" fill="#2a3ad8"/><rect x="1228.1" y="1696.1" width="1.2" height="1.2" fill="#2a3ad8"/><rect x="1207.0" y="1691.6" width="1.2" height="1.2" fill="#2a3ad8"/><rect x="1230.7" y="1692.4" width="1.2" height="1.2" fill="#2a3ad8"/><rect x="1309.2" y="1723.7" width="1.2" height="1.2" fill="#2a3ad8"/><rect x="1308.7" y="1721.7" width="1.2" height="1.2" fill="#2a3ad8"/><rect x="1315.0" y="1723.5" width="1.2" height="1.2" fill="#2a3ad8"/><rect x="1318.2" y="1720.3" width="1.2" height="1.2" fill="#2a3ad8"/><rect x="1302.1" y="1706.9" width="1.2" height="1.2" fill="#2a3ad8"/><rect x="1338.6" y="1756.4" width="1.2" height="1.2" fill="#2a3ad8"/><rect x="1308.1" y="1708.5" width="1.2" height="1.2" fill="#2a3ad8"/><rect x="1301.3" y="1716.7" width="1.2" height="1.2" fill="#2a3ad8"/><rect x="1317.3" y="1726.8" width="1.2" height="1.2" fill="#2a3ad8"/><rect x="1301.7" y="1704.2" width="1.2" height="1.2" fill="#2a3ad8"/><rect x="1301.5" y="1718.6" width="1.2" height="1.2" fill="#2a3ad8"/><rect x="1310.8" y="1719.1" width="1.2" height="1.2" fill="#2a3ad8"/><rect x="1331.4" y="1751.3" width="1.2" height="1.2" fill="#2a3ad8"/><rect x="1311.4" y="1713.9" width="1.2" height="1.2" fill="#2a3ad8"/><rect x="1340.2" y="1751.3" width="1.2" height="1.2" fill="#2a3ad8"/><rect x="1330.1" y="1744.8" width="1.2" height="1.2" fill="#2a3ad8"/><rect x="1313.3" y="1718.0" width="1.2" height="1.2" fill="#2a3ad8"/><rect x="1331.7" y="1749.1" width="1.2" height="1.2" fill="#2a3ad8"/><rect x="1338.5" y="1749.5" width="1.2" height="1.2" fill="#2a3ad8"/><rect x="1301.0" y="1703.0" width="1.2" height="1.2" fill="#2a3ad8"/><rect x="1309.8" y="1705.2" width="1.2" height="1.2" fill="#2a3ad8"/><rect x="1340.1" y="1755.4" width="1.2" height="1.2" fill="#2a3ad8"/><rect x="1316.2" y="1721.9" width="1.2" height="1.2" fill="#2a3ad8"/><rect x="1320.7" y="1738.9" width="1.2" height="1.2" fill="#2a3ad8"/><rect x="1339.0" y="1758.2" width="1.2" height="1.2" fill="#2a3ad8"/><rect x="1331.0" y="1754.5" width="1.2" height="1.2" fill="#2a3ad8"/><rect x="1334.6" y="1752.8" width="1.2" height="1.2" fill="#2a3ad8"/><rect x="1313.8" y="1713.2" width="1.2" height="1.2" fill="#2a3ad8"/><rect x="1313.4" y="1713.7" width="1.2" height="1.2" fill="#2a3ad8"/><rect x="1303.3" y="1716.7" width="1.2" height="1.2" fill="#2a3ad8"/><rect x="1308.3" y="1714.3" width="1.2" height="1.2" fill="#2a3ad8"/><rect x="1302.7" y="1708.0" width="1.2" height="1.2" fill="#2a3ad8"/><rect x="1301.4" y="1707.0" width="1.2" height="1.2" fill="#2a3ad8"/><rect x="1341.2" y="1747.2" width="1.2" height="1.2" fill="#2a3ad8"/><rect x="1337.1" y="1758.2" width="1.2" height="1.2" fill="#2a3ad8"/><rect x="1303.5" y="1711.3" width="1.2" height="1.2" fill="#2a3ad8"/><rect x="1304.0" y="1705.5" width="1.2" height="1.2" fill="#2a3ad8"/><rect x="1318.8" y="1728.9" width="1.2" height="1.2" fill="#2a3ad8"/><rect x="1309.8" y="1710.3" width="1.2" height="1.2" fill="#2a3ad8"/><rect x="1328.3" y="1747.6" width="1.2" height="1.2" fill="#2a3ad8"/><rect x="1331.4" y="1751.8" width="1.2" height="1.2" fill="#2a3ad8"/><rect x="1305.1" y="1707.6" width="1.2" height="1.2" fill="#2a3ad8"/><rect x="1335.3" y="1751.5" width="1.2" height="1.2" fill="#2a3ad8"/><rect x="1315.7" y="1726.2" width="1.2" height="1.2" fill="#2a3ad8"/><rect x="1331.0" y="1748.9" width="1.2" height="1.2" fill="#2a3ad8"/><rect x="1310.3" y="1718.2" width="1.2" height="1.2" fill="#2a3ad8"/><rect x="1306.4" y="1717.1" width="1.2" height="1.2" fill="#2a3ad8"/><rect x="1313.7" y="1715.1" width="1.2" height="1.2" fill="#2a3ad8"/><rect x="1316.6" y="1727.3" width="1.2" height="1.2" fill="#2a3ad8"/><rect x="1309.7" y="1714.8" width="1.2" height="1.2" fill="#2a3ad8"/><rect x="1334.0" y="1744.4" width="1.2" height="1.2" fill="#2a3ad8"/><rect x="1304.3" y="1701.9" width="1.2" height="1.2" fill="#2a3ad8"/><rect x="1319.9" y="1735.5" width="1.2" height="1.2" fill="#2a3ad8"/><rect x="1338.4" y="1749.1" width="1.2" height="1.2" fill="#2a3ad8"/><rect x="1301.7" y="1709.9" width="1.2" height="1.2" fill="#2a3ad8"/><rect x="1308.0" y="1716.0" width="1.2" height="1.2" fill="#2a3ad8"/><rect x="1340.9" y="1742.6" width="1.2" height="1.2" fill="#2a3ad8"/><rect x="1315.6" y="1716.6" width="1.2" height="1.2" fill="#2a3ad8"/><rect x="1336.4" y="1751.2" width="1.2" height="1.2" fill="#2a3ad8"/><rect x="1332.7" y="1750.8" width="1.2" height="1.2" fill="#2a3ad8"/><rect x="1339.7" y="1758.6" width="1.2" height="1.2" fill="#2a3ad8"/><rect x="1326.0" y="1745.4" width="1.2" height="1.2" fill="#2a3ad8"/><rect x="1309.1" y="1713.2" width="1.2" height="1.2" fill="#2a3ad8"/><rect x="1308.6" y="1716.0" width="1.2" height="1.2" fill="#2a3ad8"/><rect x="1310.7" y="1710.9" width="1.2" height="1.2" fill="#2a3ad8"/><rect x="1308.5" y="1711.0" width="1.2" height="1.2" fill="#2a3ad8"/><rect x="1300.5" y="1707.0" width="1.2" height="1.2" fill="#2a3ad8"/><rect x="1307.8" y="1719.3" width="1.2" height="1.2" fill="#2a3ad8"/><rect x="1313.1" y="1719.8" width="1.2" height="1.2" fill="#2a3ad8"/><rect x="1323.0" y="1745.3" width="1.2" height="1.2" fill="#2a3ad8"/><rect x="1302.7" y="1714.2" width="1.2" height="1.2" fill="#2a3ad8"/><rect x="1323.1" y="1740.9" width="1.2" height="1.2" fill="#2a3ad8"/><rect x="1326.8" y="1745.0" width="1.2" height="1.2" fill="#2a3ad8"/><rect x="1329.2" y="1747.1" width="1.2" height="1.2" fill="#2a3ad8"/><rect x="1317.2" y="1723.4" width="1.2" height="1.2" fill="#2a3ad8"/><rect x="1340.0" y="1757.3" width="1.2" height="1.2" fill="#2a3ad8"/><rect x="1313.1" y="1714.3" width="1.2" height="1.2" fill="#2a3ad8"/><rect x="1317.5" y="1723.4" width="1.2" height="1.2" fill="#2a3ad8"/><rect x="1336.3" y="1757.9" width="1.2" height="1.2" fill="#2a3ad8"/><rect x="1308.3" y="1714.1" width="1.2" height="1.2" fill="#2a3ad8"/><rect x="1330.6" y="1747.6" width="1.2" height="1.2" fill="#2a3ad8"/><rect x="1337.9" y="1756.3" width="1.2" height="1.2" fill="#2a3ad8"/><rect x="1317.8" y="1727.6" width="1.2" height="1.2" fill="#2a3ad8"/><rect x="1337.1" y="1751.3" width="1.2" height="1.2" fill="#2a3ad8"/><rect x="1319.4" y="1730.9" width="1.2" height="1.2" fill="#2a3ad8"/><rect x="1323.2" y="1739.2" width="1.2" height="1.2" fill="#2a3ad8"/><rect x="1326.9" y="1744.6" width="1.2" height="1.2" fill="#2a3ad8"/><rect x="1326.1" y="1741.2" width="1.2" height="1.2" fill="#2a3ad8"/><rect x="1315.6" y="1718.8" width="1.2" height="1.2" fill="#2a3ad8"/><rect x="1311.9" y="1716.2" width="1.2" height="1.2" fill="#2a3ad8"/><rect x="1321.9" y="1738.8" width="1.2" height="1.2" fill="#2a3ad8"/><rect x="1320.6" y="1733.4" width="1.2" height="1.2" fill="#2a3ad8"/><rect x="1333.8" y="1753.8" width="1.2" height="1.2" fill="#2a3ad8"/><rect x="1305.3" y="1712.0" width="1.2" height="1.2" fill="#2a3ad8"/><rect x="1339.6" y="1759.0" width="1.2" height="1.2" fill="#2a3ad8"/><rect x="1302.2" y="1710.1" width="1.2" height="1.2" fill="#2a3ad8"/><rect x="1338.9" y="1748.8" width="1.2" height="1.2" fill="#2a3ad8"/><rect x="1326.1" y="1747.7" width="1.2" height="1.2" fill="#2a3ad8"/><rect x="1334.6" y="1755.9" width="1.2" height="1.2" fill="#2a3ad8"/><rect x="1309.3" y="1720.8" width="1.2" height="1.2" fill="#2a3ad8"/><rect x="1317.0" y="1727.7" width="1.2" height="1.2" fill="#2a3ad8"/><rect x="1307.7" y="1707.7" width="1.2" height="1.2" fill="#2a3ad8"/><rect x="1309.2" y="1710.8" width="1.2" height="1.2" fill="#2a3ad8"/><rect x="1316.1" y="1724.7" width="1.2" height="1.2" fill="#2a3ad8"/><rect x="1305.2" y="1712.6" width="1.2" height="1.2" fill="#2a3ad8"/><rect x="1337.7" y="1762.1" width="1.2" height="1.2" fill="#2a3ad8"/><rect x="1301.7" y="1704.3" width="1.2" height="1.2" fill="#2a3ad8"/><rect x="1301.6" y="1707.8" width="1.2" height="1.2" fill="#2a3ad8"/><rect x="1335.2" y="1756.8" width="1.2" height="1.2" fill="#2a3ad8"/><rect x="1323.1" y="1742.2" width="1.2" height="1.2" fill="#2a3ad8"/><rect x="1326.3" y="1741.0" width="1.2" height="1.2" fill="#2a3ad8"/><rect x="1324.5" y="1744.1" width="1.2" height="1.2" fill="#2a3ad8"/><rect x="1317.9" y="1723.8" width="1.2" height="1.2" fill="#2a3ad8"/><rect x="1318.4" y="1724.1" width="1.2" height="1.2" fill="#2a3ad8"/><rect x="1301.0" y="1706.7" width="1.2" height="1.2" fill="#2a3ad8"/><rect x="1309.9" y="1712.0" width="1.2" height="1.2" fill="#2a3ad8"/><rect x="1332.1" y="1750.0" width="1.2" height="1.2" fill="#2a3ad8"/><rect x="1307.5" y="1709.5" width="1.2" height="1.2" fill="#2a3ad8"/><rect x="1319.9" y="1733.8" width="1.2" height="1.2" fill="#2a3ad8"/><rect x="1318.1" y="1728.1" width="1.2" height="1.2" fill="#2a3ad8"/><rect x="1303.9" y="1707.2" width="1.2" height="1.2" fill="#2a3ad8"/><rect x="1301.7" y="1712.2" width="1.2" height="1.2" fill="#2a3ad8"/><rect x="1326.7" y="1748.5" width="1.2" height="1.2" fill="#2a3ad8"/><rect x="1332.7" y="1753.1" width="1.2" height="1.2" fill="#2a3ad8"/><rect x="1321.5" y="1741.1" width="1.2" height="1.2" fill="#2a3ad8"/><rect x="1315.9" y="1723.1" width="1.2" height="1.2" fill="#2a3ad8"/><rect x="1339.9" y="1759.2" width="1.2" height="1.2" fill="#2a3ad8"/><rect x="1341.8" y="1749.4" width="1.2" height="1.2" fill="#2a3ad8"/><rect x="1330.7" y="1748.7" width="1.2" height="1.2" fill="#2a3ad8"/><rect x="1341.2" y="1745.5" width="1.2" height="1.2" fill="#2a3ad8"/><rect x="1320.7" y="1743.1" width="1.2" height="1.2" fill="#2a3ad8"/><rect x="1306.9" y="1711.1" width="1.2" height="1.2" fill="#2a3ad8"/><rect x="1333.1" y="1751.7" width="1.2" height="1.2" fill="#2a3ad8"/><rect x="1314.7" y="1719.3" width="1.2" height="1.2" fill="#2a3ad8"/><rect x="1331.8" y="1753.4" width="1.2" height="1.2" fill="#2a3ad8"/><rect x="1311.5" y="1723.2" width="1.2" height="1.2" fill="#2a3ad8"/><rect x="1334.3" y="1754.6" width="1.2" height="1.2" fill="#2a3ad8"/><rect x="1338.6" y="1759.4" width="1.2" height="1.2" fill="#2a3ad8"/><rect x="1308.7" y="1714.1" width="1.2" height="1.2" fill="#2a3ad8"/><rect x="1313.4" y="1722.9" width="1.2" height="1.2" fill="#2a3ad8"/><rect x="1301.5" y="1711.4" width="1.2" height="1.2" fill="#2a3ad8"/><rect x="1339.3" y="1757.0" width="1.2" height="1.2" fill="#2a3ad8"/><rect x="1328.5" y="1747.0" width="1.2" height="1.2" fill="#2a3ad8"/><rect x="1333.0" y="1748.7" width="1.2" height="1.2" fill="#2a3ad8"/><rect x="1304.8" y="1706.7" width="1.2" height="1.2" fill="#2a3ad8"/><rect x="1315.1" y="1719.4" width="1.2" height="1.2" fill="#2a3ad8"/><rect x="1336.7" y="1749.6" width="1.2" height="1.2" fill="#2a3ad8"/><rect x="1337.1" y="1753.2" width="1.2" height="1.2" fill="#2a3ad8"/><rect x="1304.4" y="1717.6" width="1.2" height="1.2" fill="#2a3ad8"/><rect x="1316.6" y="1722.2" width="1.2" height="1.2" fill="#2a3ad8"/><rect x="1333.5" y="1749.7" width="1.2" height="1.2" fill="#2a3ad8"/><rect x="1324.2" y="1752.1" width="1.2" height="1.2" fill="#2a3ad8"/><rect x="1315.1" y="1720.9" width="1.2" height="1.2" fill="#2a3ad8"/><rect x="1307.4" y="1709.4" width="1.2" height="1.2" fill="#2a3ad8"/><rect x="1331.2" y="1755.3" width="1.2" height="1.2" fill="#2a3ad8"/><rect x="1310.7" y="1717.8" width="1.2" height="1.2" fill="#2a3ad8"/><rect x="1326.8" y="1748.3" width="1.2" height="1.2" fill="#2a3ad8"/><rect x="1327.9" y="1743.7" width="1.2" height="1.2" fill="#2a3ad8"/><rect x="1313.1" y="1718.8" width="1.2" height="1.2" fill="#2a3ad8"/><rect x="1306.3" y="1713.1" width="1.2" height="1.2" fill="#2a3ad8"/><rect x="1325.9" y="1737.5" width="1.2" height="1.2" fill="#2a3ad8"/><rect x="1337.6" y="1757.6" width="1.2" height="1.2" fill="#2a3ad8"/><rect x="1305.5" y="1713.5" width="1.2" height="1.2" fill="#2a3ad8"/><rect x="1300.9" y="1715.8" width="1.2" height="1.2" fill="#2a3ad8"/><rect x="1300.1" y="1708.5" width="1.2" height="1.2" fill="#2a3ad8"/><rect x="1315.0" y="1721.8" width="1.2" height="1.2" fill="#2a3ad8"/><rect x="1309.4" y="1710.3" width="1.2" height="1.2" fill="#2a3ad8"/><rect x="1308.6" y="1711.7" width="1.2" height="1.2" fill="#2a3ad8"/><rect x="1326.2" y="1740.1" width="1.2" height="1.2" fill="#2a3ad8"/><rect x="1339.3" y="1755.2" width="1.2" height="1.2" fill="#2a3ad8"/><rect x="1310.2" y="1716.4" width="1.2" height="1.2" fill="#2a3ad8"/><rect x="1326.8" y="1744.4" width="1.2" height="1.2" fill="#2a3ad8"/><rect x="1336.6" y="1755.2" width="1.2" height="1.2" fill="#2a3ad8"/><rect x="1311.1" y="1711.9" width="1.2" height="1.2" fill="#2a3ad8"/><rect x="1300.5" y="1706.7" width="1.2" height="1.2" fill="#2a3ad8"/><rect x="1314.7" y="1715.9" width="1.2" height="1.2" fill="#2a3ad8"/><rect x="1327.1" y="1734.5" width="1.2" height="1.2" fill="#2a3ad8"/><rect x="1330.8" y="1751.0" width="1.2" height="1.2" fill="#2a3ad8"/><rect x="1310.4" y="1716.4" width="1.2" height="1.2" fill="#2a3ad8"/><rect x="1322.3" y="1736.9" width="1.2" height="1.2" fill="#2a3ad8"/><rect x="1317.1" y="1723.8" width="1.2" height="1.2" fill="#2a3ad8"/><rect x="1332.7" y="1751.3" width="1.2" height="1.2" fill="#2a3ad8"/><rect x="1300.5" y="1700.8" width="1.2" height="1.2" fill="#2a3ad8"/><rect x="1306.0" y="1709.9" width="1.2" height="1.2" fill="#2a3ad8"/><rect x="1308.4" y="1710.6" width="1.2" height="1.2" fill="#2a3ad8"/><rect x="1326.9" y="1740.2" width="1.2" height="1.2" fill="#2a3ad8"/><rect x="1334.2" y="1753.2" width="1.2" height="1.2" fill="#2a3ad8"/><rect x="1312.6" y="1720.2" width="1.2" height="1.2" fill="#2a3ad8"/><rect x="1302.0" y="1716.0" width="1.2" height="1.2" fill="#2a3ad8"/><rect x="1330.0" y="1742.3" width="1.2" height="1.2" fill="#2a3ad8"/><rect x="1300.3" y="1713.4" width="1.2" height="1.2" fill="#2a3ad8"/><rect x="1319.5" y="1725.6" width="1.2" height="1.2" fill="#2a3ad8"/><rect x="1331.2" y="1745.4" width="1.2" height="1.2" fill="#2a3ad8"/><rect x="1304.4" y="1712.9" width="1.2" height="1.2" fill="#2a3ad8"/><rect x="1309.8" y="1718.6" width="1.2" height="1.2" fill="#2a3ad8"/><rect x="1331.5" y="1749.4" width="1.2" height="1.2" fill="#2a3ad8"/><rect x="1329.2" y="1749.4" width="1.2" height="1.2" fill="#2a3ad8"/><rect x="1311.2" y="1710.7" width="1.2" height="1.2" fill="#2a3ad8"/><rect x="1323.3" y="1732.3" width="1.2" height="1.2" fill="#2a3ad8"/><rect x="1322.0" y="1740.0" width="1.2" height="1.2" fill="#2a3ad8"/><rect x="1311.1" y="1709.3" width="1.2" height="1.2" fill="#2a3ad8"/><rect x="1309.1" y="1706.6" width="1.2" height="1.2" fill="#2a3ad8"/><rect x="1337.0" y="1758.0" width="1.2" height="1.2" fill="#2a3ad8"/><rect x="1309.9" y="1715.5" width="1.2" height="1.2" fill="#2a3ad8"/><rect x="1331.2" y="1754.4" width="1.2" height="1.2" fill="#2a3ad8"/><rect x="1313.7" y="1716.3" width="1.2" height="1.2" fill="#2a3ad8"/><rect x="1337.0" y="1753.5" width="1.2" height="1.2" fill="#2a3ad8"/><rect x="1338.1" y="1758.8" width="1.2" height="1.2" fill="#2a3ad8"/><rect x="1326.5" y="1740.5" width="1.2" height="1.2" fill="#2a3ad8"/><rect x="1341.1" y="1743.2" width="1.2" height="1.2" fill="#2a3ad8"/><rect x="1319.7" y="1735.0" width="1.2" height="1.2" fill="#2a3ad8"/><rect x="1336.0" y="1748.5" width="1.2" height="1.2" fill="#2a3ad8"/><rect x="1318.4" y="1726.8" width="1.2" height="1.2" fill="#2a3ad8"/><rect x="1312.9" y="1712.4" width="1.2" height="1.2" fill="#2a3ad8"/><rect x="1308.9" y="1713.4" width="1.2" height="1.2" fill="#2a3ad8"/><rect x="1338.3" y="1755.1" width="1.2" height="1.2" fill="#2a3ad8"/><rect x="1306.1" y="1714.8" width="1.2" height="1.2" fill="#2a3ad8"/><rect x="1339.0" y="1755.6" width="1.2" height="1.2" fill="#2a3ad8"/><rect x="1314.5" y="1720.2" width="1.2" height="1.2" fill="#2a3ad8"/><rect x="1301.7" y="1711.3" width="1.2" height="1.2" fill="#2a3ad8"/><rect x="1329.1" y="1741.6" width="1.2" height="1.2" fill="#2a3ad8"/><rect x="1330.9" y="1743.3" width="1.2" height="1.2" fill="#2a3ad8"/><rect x="1302.8" y="1707.9" width="1.2" height="1.2" fill="#2a3ad8"/><rect x="1334.3" y="1749.8" width="1.2" height="1.2" fill="#2a3ad8"/><rect x="1334.4" y="1753.1" width="1.2" height="1.2" fill="#2a3ad8"/><rect x="1336.4" y="1753.3" width="1.2" height="1.2" fill="#2a3ad8"/><rect x="1338.4" y="1757.8" width="1.2" height="1.2" fill="#2a3ad8"/><rect x="1308.6" y="1713.8" width="1.2" height="1.2" fill="#2a3ad8"/><rect x="1304.7" y="1719.8" width="1.2" height="1.2" fill="#2a3ad8"/><rect x="1334.1" y="1753.2" width="1.2" height="1.2" fill="#2a3ad8"/><rect x="1326.6" y="1745.3" width="1.2" height="1.2" fill="#2a3ad8"/><rect x="1312.1" y="1711.3" width="1.2" height="1.2" fill="#2a3ad8"/><rect x="1304.2" y="1717.4" width="1.2" height="1.2" fill="#2a3ad8"/><rect x="1308.6" y="1718.3" width="1.2" height="1.2" fill="#2a3ad8"/><rect x="1313.4" y="1717.4" width="1.2" height="1.2" fill="#2a3ad8"/><rect x="1310.8" y="1716.0" width="1.2" height="1.2" fill="#2a3ad8"/><rect x="1311.9" y="1715.5" width="1.2" height="1.2" fill="#2a3ad8"/><rect x="1313.5" y="1714.5" width="1.2" height="1.2" fill="#2a3ad8"/><rect x="1340.5" y="1745.5" width="1.2" height="1.2" fill="#2a3ad8"/><rect x="1326.0" y="1741.8" width="1.2" height="1.2" fill="#2a3ad8"/><rect x="1301.3" y="1706.6" width="1.2" height="1.2" fill="#2a3ad8"/><rect x="1332.5" y="1751.9" width="1.2" height="1.2" fill="#2a3ad8"/><rect x="1314.6" y="1718.3" width="1.2" height="1.2" fill="#2a3ad8"/><rect x="1309.1" y="1709.9" width="1.2" height="1.2" fill="#2a3ad8"/><rect x="1336.2" y="1760.2" width="1.2" height="1.2" fill="#2a3ad8"/><rect x="1307.2" y="1717.6" width="1.2" height="1.2" fill="#2a3ad8"/><rect x="1300.1" y="1711.6" width="1.2" height="1.2" fill="#2a3ad8"/><rect x="1341.1" y="1755.6" width="1.2" height="1.2" fill="#2a3ad8"/><rect x="1300.2" y="1705.0" width="1.2" height="1.2" fill="#2a3ad8"/><rect x="1333.5" y="1751.1" width="1.2" height="1.2" fill="#2a3ad8"/><rect x="1307.7" y="1710.2" width="1.2" height="1.2" fill="#2a3ad8"/><rect x="1334.9" y="1752.6" width="1.2" height="1.2" fill="#2a3ad8"/><rect x="1310.9" y="1718.8" width="1.2" height="1.2" fill="#2a3ad8"/><rect x="1309.0" y="1713.5" width="1.2" height="1.2" fill="#2a3ad8"/><rect x="1329.4" y="1744.1" width="1.2" height="1.2" fill="#2a3ad8"/><rect x="1326.7" y="1742.9" width="1.2" height="1.2" fill="#2a3ad8"/><rect x="1303.4" y="1712.9" width="1.2" height="1.2" fill="#2a3ad8"/><rect x="1333.1" y="1744.3" width="1.2" height="1.2" fill="#2a3ad8"/><rect x="1326.4" y="1740.0" width="1.2" height="1.2" fill="#2a3ad8"/><rect x="1316.6" y="1725.6" width="1.2" height="1.2" fill="#2a3ad8"/><rect x="1337.4" y="1762.5" width="1.2" height="1.2" fill="#2a3ad8"/><rect x="1341.4" y="1753.5" width="1.2" height="1.2" fill="#2a3ad8"/><rect x="1375.7" y="1767.3" width="1.2" height="1.2" fill="#2a3ad8"/><rect x="1356.3" y="1634.8" width="1.2" height="1.2" fill="#2a3ad8"/><rect x="1392.5" y="1701.3" width="1.2" height="1.2" fill="#2a3ad8"/><rect x="1357.4" y="1664.4" width="1.2" height="1.2" fill="#2a3ad8"/><rect x="1373.2" y="1784.8" width="1.2" height="1.2" fill="#2a3ad8"/><rect x="1387.2" y="1726.2" width="1.2" height="1.2" fill="#2a3ad8"/><rect x="1357.2" y="1637.8" width="1.2" height="1.2" fill="#2a3ad8"/><rect x="1384.0" y="1718.8" width="1.2" height="1.2" fill="#2a3ad8"/><rect x="1374.5" y="1771.2" width="1.2" height="1.2" fill="#2a3ad8"/><rect x="1362.0" y="1636.2" width="1.2" height="1.2" fill="#2a3ad8"/><rect x="1380.7" y="1738.0" width="1.2" height="1.2" fill="#2a3ad8"/><rect x="1345.6" y="1730.5" width="1.2" height="1.2" fill="#2a3ad8"/><rect x="1364.3" y="1711.0" width="1.2" height="1.2" fill="#2a3ad8"/><rect x="1364.7" y="1703.3" width="1.2" height="1.2" fill="#2a3ad8"/><rect x="1365.9" y="1723.0" width="1.2" height="1.2" fill="#2a3ad8"/><rect x="1343.5" y="1758.5" width="1.2" height="1.2" fill="#2a3ad8"/><rect x="1378.0" y="1761.7" width="1.2" height="1.2" fill="#2a3ad8"/><rect x="1381.1" y="1737.0" width="1.2" height="1.2" fill="#2a3ad8"/><rect x="1386.8" y="1708.7" width="1.2" height="1.2" fill="#2a3ad8"/><rect x="1344.3" y="1732.5" width="1.2" height="1.2" fill="#2a3ad8"/><rect x="1348.2" y="1717.8" width="1.2" height="1.2" fill="#2a3ad8"/><rect x="1391.9" y="1707.1" width="1.2" height="1.2" fill="#2a3ad8"/><rect x="1368.2" y="1727.1" width="1.2" height="1.2" fill="#2a3ad8"/><rect x="1383.4" y="1727.6" width="1.2" height="1.2" fill="#2a3ad8"/><rect x="1336.5" y="1748.9" width="1.2" height="1.2" fill="#2a3ad8"/><rect x="1380.6" y="1774.1" width="1.2" height="1.2" fill="#2a3ad8"/><rect x="1342.1" y="1757.3" width="1.2" height="1.2" fill="#2a3ad8"/><rect x="1362.3" y="1697.6" width="1.2" height="1.2" fill="#2a3ad8"/><rect x="1349.5" y="1692.5" width="1.2" height="1.2" fill="#2a3ad8"/><rect x="1377.1" y="1780.2" width="1.2" height="1.2" fill="#2a3ad8"/><rect x="1362.1" y="1695.1" width="1.2" height="1.2" fill="#2a3ad8"/><rect x="1386.6" y="1729.0" width="1.2" height="1.2" fill="#2a3ad8"/><rect x="1352.7" y="1640.1" width="1.2" height="1.2" fill="#2a3ad8"/><rect x="1356.5" y="1633.9" width="1.2" height="1.2" fill="#2a3ad8"/><rect x="1345.9" y="1708.0" width="1.2" height="1.2" fill="#2a3ad8"/><rect x="1378.1" y="1741.1" width="1.2" height="1.2" fill="#2a3ad8"/><rect x="1344.8" y="1688.5" width="1.2" height="1.2" fill="#2a3ad8"/><rect x="1360.2" y="1699.6" width="1.2" height="1.2" fill="#2a3ad8"/><rect x="1352.2" y="1662.9" width="1.2" height="1.2" fill="#2a3ad8"/><rect x="1352.0" y="1648.6" width="1.2" height="1.2" fill="#2a3ad8"/><rect x="1365.5" y="1700.8" width="1.2" height="1.2" fill="#2a3ad8"/><rect x="1393.4" y="1686.1" width="1.2" height="1.2" fill="#2a3ad8"/><rect x="1369.9" y="1738.9" width="1.2" height="1.2" fill="#2a3ad8"/><rect x="1356.7" y="1642.1" width="1.2" height="1.2" fill="#2a3ad8"/><rect x="1347.0" y="1727.5" width="1.2" height="1.2" fill="#2a3ad8"/><rect x="1346.2" y="1681.2" width="1.2" height="1.2" fill="#2a3ad8"/><rect x="1383.7" y="1758.3" width="1.2" height="1.2" fill="#2a3ad8"/><rect x="1354.3" y="1624.8" width="1.2" height="1.2" fill="#2a3ad8"/><rect x="1347.4" y="1670.1" width="1.2" height="1.2" fill="#2a3ad8"/><rect x="1365.9" y="1719.5" width="1.2" height="1.2" fill="#2a3ad8"/><rect x="1385.1" y="1761.7" width="1.2" height="1.2" fill="#2a3ad8"/><rect x="1377.8" y="1785.3" width="1.2" height="1.2" fill="#2a3ad8"/><rect x="1385.9" y="1725.8" width="1.2" height="1.2" fill="#2a3ad8"/><rect x="1387.3" y="1722.3" width="1.2" height="1.2" fill="#2a3ad8"/><rect x="1352.2" y="1627.4" width="1.2" height="1.2" fill="#2a3ad8"/><rect x="1368.4" y="1743.4" width="1.2" height="1.2" fill="#2a3ad8"/><rect x="1368.6" y="1722.1" width="1.2" height="1.2" fill="#2a3ad8"/><rect x="1347.7" y="1662.0" width="1.2" height="1.2" fill="#2a3ad8"/><rect x="1383.1" y="1737.9" width="1.2" height="1.2" fill="#2a3ad8"/><rect x="1382.0" y="1744.9" width="1.2" height="1.2" fill="#2a3ad8"/><rect x="1335.9" y="1764.1" width="1.2" height="1.2" fill="#2a3ad8"/><rect x="1361.3" y="1678.7" width="1.2" height="1.2" fill="#2a3ad8"/><rect x="1382.5" y="1754.1" width="1.2" height="1.2" fill="#2a3ad8"/><rect x="1360.6" y="1650.1" width="1.2" height="1.2" fill="#2a3ad8"/><rect x="1350.7" y="1648.7" width="1.2" height="1.2" fill="#2a3ad8"/><rect x="1341.5" y="1751.3" width="1.2" height="1.2" fill="#2a3ad8"/><rect x="1366.7" y="1706.1" width="1.2" height="1.2" fill="#2a3ad8"/><rect x="1360.6" y="1676.5" width="1.2" height="1.2" fill="#2a3ad8"/><rect x="1354.3" y="1644.9" width="1.2" height="1.2" fill="#2a3ad8"/><rect x="1380.5" y="1754.2" width="1.2" height="1.2" fill="#2a3ad8"/><rect x="1375.8" y="1785.1" width="1.2" height="1.2" fill="#2a3ad8"/><rect x="1353.5" y="1638.1" width="1.2" height="1.2" fill="#2a3ad8"/><rect x="1369.8" y="1740.2" width="1.2" height="1.2" fill="#2a3ad8"/><rect x="1370.9" y="1773.0" width="1.2" height="1.2" fill="#2a3ad8"/><rect x="1387.9" y="1707.1" width="1.2" height="1.2" fill="#2a3ad8"/><rect x="1339.1" y="1746.1" width="1.2" height="1.2" fill="#2a3ad8"/><rect x="1345.1" y="1730.4" width="1.2" height="1.2" fill="#2a3ad8"/><rect x="1343.8" y="1714.1" width="1.2" height="1.2" fill="#2a3ad8"/><rect x="1347.8" y="1667.6" width="1.2" height="1.2" fill="#2a3ad8"/><rect x="1353.3" y="1630.8" width="1.2" height="1.2" fill="#2a3ad8"/><rect x="1379.6" y="1767.0" width="1.2" height="1.2" fill="#2a3ad8"/><rect x="1378.7" y="1774.0" width="1.2" height="1.2" fill="#2a3ad8"/><rect x="1360.5" y="1710.4" width="1.2" height="1.2" fill="#2a3ad8"/><rect x="1338.6" y="1741.1" width="1.2" height="1.2" fill="#2a3ad8"/><rect x="1381.9" y="1718.1" width="1.2" height="1.2" fill="#2a3ad8"/><rect x="1341.3" y="1739.5" width="1.2" height="1.2" fill="#2a3ad8"/><rect x="1382.1" y="1758.8" width="1.2" height="1.2" fill="#2a3ad8"/><rect x="1345.9" y="1716.1" width="1.2" height="1.2" fill="#2a3ad8"/><rect x="1340.0" y="1756.1" width="1.2" height="1.2" fill="#2a3ad8"/><rect x="1352.2" y="1645.1" width="1.2" height="1.2" fill="#2a3ad8"/><rect x="1355.2" y="1670.1" width="1.2" height="1.2" fill="#2a3ad8"/><rect x="1386.2" y="1702.2" width="1.2" height="1.2" fill="#2a3ad8"/><rect x="1370.6" y="1743.0" width="1.2" height="1.2" fill="#2a3ad8"/><rect x="1339.2" y="1755.0" width="1.2" height="1.2" fill="#2a3ad8"/><rect x="1384.4" y="1728.1" width="1.2" height="1.2" fill="#2a3ad8"/><rect x="1354.2" y="1639.4" width="1.2" height="1.2" fill="#2a3ad8"/><rect x="1372.4" y="1740.1" width="1.2" height="1.2" fill="#2a3ad8"/><rect x="1393.4" y="1710.6" width="1.2" height="1.2" fill="#2a3ad8"/><rect x="1391.2" y="1695.9" width="1.2" height="1.2" fill="#2a3ad8"/><rect x="1393.0" y="1673.5" width="1.2" height="1.2" fill="#2a3ad8"/><rect x="1358.4" y="1631.1" width="1.2" height="1.2" fill="#2a3ad8"/><rect x="1338.9" y="1749.2" width="1.2" height="1.2" fill="#2a3ad8"/><rect x="1374.9" y="1766.5" width="1.2" height="1.2" fill="#2a3ad8"/><rect x="1344.9" y="1679.2" width="1.2" height="1.2" fill="#2a3ad8"/><rect x="1353.7" y="1645.2" width="1.2" height="1.2" fill="#2a3ad8"/><rect x="1350.0" y="1634.3" width="1.2" height="1.2" fill="#2a3ad8"/><rect x="1354.3" y="1636.7" width="1.2" height="1.2" fill="#2a3ad8"/><rect x="1394.7" y="1659.0" width="1.2" height="1.2" fill="#2a3ad8"/><rect x="1354.6" y="1655.7" width="1.2" height="1.2" fill="#2a3ad8"/><rect x="1361.5" y="1690.7" width="1.2" height="1.2" fill="#2a3ad8"/><rect x="1346.3" y="1654.7" width="1.2" height="1.2" fill="#2a3ad8"/><rect x="1387.8" y="1717.3" width="1.2" height="1.2" fill="#2a3ad8"/><rect x="1359.5" y="1672.9" width="1.2" height="1.2" fill="#2a3ad8"/><rect x="1359.1" y="1630.1" width="1.2" height="1.2" fill="#2a3ad8"/><rect x="1377.2" y="1782.9" width="1.2" height="1.2" fill="#2a3ad8"/><rect x="1366.9" y="1716.1" width="1.2" height="1.2" fill="#2a3ad8"/><rect x="1366.2" y="1741.9" width="1.2" height="1.2" fill="#2a3ad8"/><rect x="1394.1" y="1694.0" width="1.2" height="1.2" fill="#2a3ad8"/><rect x="1355.5" y="1634.0" width="1.2" height="1.2" fill="#2a3ad8"/><rect x="1378.9" y="1767.9" width="1.2" height="1.2" fill="#2a3ad8"/><rect x="1392.2" y="1690.5" width="1.2" height="1.2" fill="#2a3ad8"/><rect x="1381.7" y="1762.4" width="1.2" height="1.2" fill="#2a3ad8"/><rect x="1338.6" y="1760.2" width="1.2" height="1.2" fill="#2a3ad8"/><rect x="1338.2" y="1746.7" width="1.2" height="1.2" fill="#2a3ad8"/><rect x="1366.5" y="1746.5" width="1.2" height="1.2" fill="#2a3ad8"/><rect x="1375.7" y="1772.4" width="1.2" height="1.2" fill="#2a3ad8"/><rect x="1340.3" y="1736.5" width="1.2" height="1.2" fill="#2a3ad8"/><rect x="1382.3" y="1741.0" width="1.2" height="1.2" fill="#2a3ad8"/><rect x="1364.9" y="1684.7" width="1.2" height="1.2" fill="#2a3ad8"/><rect x="1340.3" y="1755.1" width="1.2" height="1.2" fill="#2a3ad8"/><rect x="1375.7" y="1788.0" width="1.2" height="1.2" fill="#2a3ad8"/><rect x="1393.2" y="1675.4" width="1.2" height="1.2" fill="#2a3ad8"/><rect x="1362.3" y="1729.8" width="1.2" height="1.2" fill="#2a3ad8"/><rect x="1355.3" y="1636.4" width="1.2" height="1.2" fill="#2a3ad8"/><rect x="1362.2" y="1684.6" width="1.2" height="1.2" fill="#2a3ad8"/><rect x="1352.9" y="1643.4" width="1.2" height="1.2" fill="#2a3ad8"/><rect x="1366.7" y="1749.5" width="1.2" height="1.2" fill="#2a3ad8"/><rect x="1351.3" y="1653.7" width="1.2" height="1.2" fill="#2a3ad8"/><rect x="1385.2" y="1717.0" width="1.2" height="1.2" fill="#2a3ad8"/><rect x="1365.4" y="1712.5" width="1.2" height="1.2" fill="#2a3ad8"/><rect x="1356.3" y="1651.8" width="1.2" height="1.2" fill="#2a3ad8"/><rect x="1358.3" y="1643.6" width="1.2" height="1.2" fill="#2a3ad8"/><rect x="1389.3" y="1715.6" width="1.2" height="1.2" fill="#2a3ad8"/><rect x="1345.6" y="1696.6" width="1.2" height="1.2" fill="#2a3ad8"/><rect x="1355.9" y="1630.5" width="1.2" height="1.2" fill="#2a3ad8"/><rect x="1358.7" y="1627.9" width="1.2" height="1.2" fill="#2a3ad8"/><rect x="1345.7" y="1740.1" width="1.2" height="1.2" fill="#2a3ad8"/><rect x="1394.0" y="1670.7" width="1.2" height="1.2" fill="#2a3ad8"/><rect x="1356.1" y="1629.7" width="1.2" height="1.2" fill="#2a3ad8"/><rect x="1359.9" y="1733.6" width="1.2" height="1.2" fill="#2a3ad8"/><rect x="1342.5" y="1735.2" width="1.2" height="1.2" fill="#2a3ad8"/><rect x="1392.4" y="1702.9" width="1.2" height="1.2" fill="#2a3ad8"/><rect x="1372.0" y="1750.8" width="1.2" height="1.2" fill="#2a3ad8"/><rect x="1341.0" y="1757.8" width="1.2" height="1.2" fill="#2a3ad8"/><rect x="1358.0" y="1659.7" width="1.2" height="1.2" fill="#2a3ad8"/><rect x="1376.6" y="1786.5" width="1.2" height="1.2" fill="#2a3ad8"/><rect x="1350.3" y="1638.0" width="1.2" height="1.2" fill="#2a3ad8"/><rect x="1346.1" y="1716.8" width="1.2" height="1.2" fill="#2a3ad8"/><rect x="1343.2" y="1696.4" width="1.2" height="1.2" fill="#2a3ad8"/><rect x="1390.4" y="1689.5" width="1.2" height="1.2" fill="#2a3ad8"/><rect x="1390.6" y="1697.9" width="1.2" height="1.2" fill="#2a3ad8"/><rect x="1341.3" y="1752.4" width="1.2" height="1.2" fill="#2a3ad8"/><rect x="1386.6" y="1725.7" width="1.2" height="1.2" fill="#2a3ad8"/><rect x="1393.6" y="1680.3" width="1.2" height="1.2" fill="#2a3ad8"/><rect x="1347.2" y="1684.5" width="1.2" height="1.2" fill="#2a3ad8"/><rect x="1388.0" y="1713.1" width="1.2" height="1.2" fill="#2a3ad8"/><rect x="1376.1" y="1789.9" width="1.2" height="1.2" fill="#2a3ad8"/><rect x="1359.7" y="1673.6" width="1.2" height="1.2" fill="#2a3ad8"/><rect x="1356.2" y="1677.0" width="1.2" height="1.2" fill="#2a3ad8"/><rect x="1336.7" y="1761.7" width="1.2" height="1.2" fill="#2a3ad8"/><rect x="1370.4" y="1735.4" width="1.2" height="1.2" fill="#2a3ad8"/><rect x="1338.2" y="1761.5" width="1.2" height="1.2" fill="#2a3ad8"/><rect x="1348.0" y="1707.9" width="1.2" height="1.2" fill="#2a3ad8"/><rect x="1342.3" y="1763.6" width="1.2" height="1.2" fill="#2a3ad8"/><rect x="1351.7" y="1623.1" width="1.2" height="1.2" fill="#2a3ad8"/><rect x="1370.2" y="1762.4" width="1.2" height="1.2" fill="#2a3ad8"/><rect x="1345.1" y="1727.1" width="1.2" height="1.2" fill="#2a3ad8"/><rect x="1368.8" y="1744.3" width="1.2" height="1.2" fill="#2a3ad8"/><rect x="1341.6" y="1741.5" width="1.2" height="1.2" fill="#2a3ad8"/><rect x="1353.1" y="1647.6" width="1.2" height="1.2" fill="#2a3ad8"/><rect x="1348.7" y="1669.5" width="1.2" height="1.2" fill="#2a3ad8"/><rect x="1388.7" y="1715.5" width="1.2" height="1.2" fill="#2a3ad8"/><rect x="1363.4" y="1725.9" width="1.2" height="1.2" fill="#2a3ad8"/><rect x="1363.0" y="1689.6" width="1.2" height="1.2" fill="#2a3ad8"/><rect x="1382.3" y="1767.1" width="1.2" height="1.2" fill="#2a3ad8"/><rect x="1368.6" y="1748.5" width="1.2" height="1.2" fill="#2a3ad8"/><rect x="1357.1" y="1641.9" width="1.2" height="1.2" fill="#2a3ad8"/><rect x="1358.6" y="1643.4" width="1.2" height="1.2" fill="#2a3ad8"/><rect x="1353.7" y="1646.6" width="1.2" height="1.2" fill="#2a3ad8"/><rect x="1364.9" y="1720.2" width="1.2" height="1.2" fill="#2a3ad8"/><rect x="1394.2" y="1657.4" width="1.2" height="1.2" fill="#2a3ad8"/><rect x="1384.0" y="1739.7" width="1.2" height="1.2" fill="#2a3ad8"/><rect x="1382.2" y="1742.1" width="1.2" height="1.2" fill="#2a3ad8"/><rect x="1352.3" y="1633.0" width="1.2" height="1.2" fill="#2a3ad8"/><rect x="1339.0" y="1753.0" width="1.2" height="1.2" fill="#2a3ad8"/><rect x="1343.8" y="1761.8" width="1.2" height="1.2" fill="#2a3ad8"/><rect x="1352.3" y="1619.2" width="1.2" height="1.2" fill="#2a3ad8"/><rect x="1363.6" y="1730.0" width="1.2" height="1.2" fill="#2a3ad8"/><rect x="1365.2" y="1704.5" width="1.2" height="1.2" fill="#2a3ad8"/><rect x="1392.7" y="1712.8" width="1.2" height="1.2" fill="#2a3ad8"/><rect x="1375.1" y="1776.8" width="1.2" height="1.2" fill="#2a3ad8"/><rect x="1360.5" y="1651.3" width="1.2" height="1.2" fill="#2a3ad8"/><rect x="1368.7" y="1757.2" width="1.2" height="1.2" fill="#2a3ad8"/><rect x="1352.3" y="1638.7" width="1.2" height="1.2" fill="#2a3ad8"/><rect x="1342.3" y="1760.0" width="1.2" height="1.2" fill="#2a3ad8"/><rect x="1363.8" y="1658.2" width="1.2" height="1.2" fill="#2a3ad8"/><rect x="1351.4" y="1650.8" width="1.2" height="1.2" fill="#2a3ad8"/><rect x="1342.5" y="1724.9" width="1.2" height="1.2" fill="#2a3ad8"/><rect x="1375.4" y="1763.7" width="1.2" height="1.2" fill="#2a3ad8"/><rect x="1344.6" y="1740.0" width="1.2" height="1.2" fill="#2a3ad8"/><rect x="1347.6" y="1689.7" width="1.2" height="1.2" fill="#2a3ad8"/><rect x="1351.2" y="1645.8" width="1.2" height="1.2" fill="#2a3ad8"/><rect x="1367.7" y="1769.3" width="1.2" height="1.2" fill="#2a3ad8"/><rect x="1363.1" y="1727.7" width="1.2" height="1.2" fill="#2a3ad8"/><rect x="1384.3" y="1719.8" width="1.2" height="1.2" fill="#2a3ad8"/><rect x="1393.7" y="1678.1" width="1.2" height="1.2" fill="#2a3ad8"/><rect x="1378.8" y="1786.7" width="1.2" height="1.2" fill="#2a3ad8"/><rect x="1378.0" y="1762.8" width="1.2" height="1.2" fill="#2a3ad8"/><rect x="1368.8" y="1730.4" width="1.2" height="1.2" fill="#2a3ad8"/><rect x="1375.5" y="1773.2" width="1.2" height="1.2" fill="#2a3ad8"/><rect x="1353.8" y="1628.9" width="1.2" height="1.2" fill="#2a3ad8"/><rect x="1379.5" y="1776.7" width="1.2" height="1.2" fill="#2a3ad8"/><rect x="1362.1" y="1656.9" width="1.2" height="1.2" fill="#2a3ad8"/><rect x="1354.0" y="1636.3" width="1.2" height="1.2" fill="#2a3ad8"/><rect x="1340.4" y="1755.8" width="1.2" height="1.2" fill="#2a3ad8"/><rect x="1361.0" y="1636.9" width="1.2" height="1.2" fill="#2a3ad8"/><rect x="1360.9" y="1695.8" width="1.2" height="1.2" fill="#2a3ad8"/><rect x="1363.0" y="1708.5" width="1.2" height="1.2" fill="#2a3ad8"/><rect x="1371.0" y="1754.8" width="1.2" height="1.2" fill="#2a3ad8"/><rect x="1340.3" y="1729.7" width="1.2" height="1.2" fill="#2a3ad8"/><rect x="1377.3" y="1786.2" width="1.2" height="1.2" fill="#2a3ad8"/><rect x="1365.4" y="1688.5" width="1.2" height="1.2" fill="#2a3ad8"/><rect x="1354.6" y="1668.5" width="1.2" height="1.2" fill="#2a3ad8"/><rect x="1357.1" y="1660.6" width="1.2" height="1.2" fill="#2a3ad8"/><rect x="1370.9" y="1762.5" width="1.2" height="1.2" fill="#2a3ad8"/><rect x="1358.8" y="1684.9" width="1.2" height="1.2" fill="#2a3ad8"/><rect x="1363.8" y="1698.8" width="1.2" height="1.2" fill="#2a3ad8"/><rect x="1351.3" y="1645.0" width="1.2" height="1.2" fill="#2a3ad8"/><rect x="1385.1" y="1740.4" width="1.2" height="1.2" fill="#2a3ad8"/><rect x="1385.9" y="1738.1" width="1.2" height="1.2" fill="#2a3ad8"/><rect x="1392.5" y="1696.3" width="1.2" height="1.2" fill="#2a3ad8"/><rect x="1351.9" y="1632.4" width="1.2" height="1.2" fill="#2a3ad8"/><rect x="1338.9" y="1749.4" width="1.2" height="1.2" fill="#2a3ad8"/><rect x="1356.2" y="1640.4" width="1.2" height="1.2" fill="#2a3ad8"/><rect x="1346.9" y="1680.4" width="1.2" height="1.2" fill="#2a3ad8"/><rect x="1348.9" y="1684.3" width="1.2" height="1.2" fill="#2a3ad8"/><rect x="1341.4" y="1737.3" width="1.2" height="1.2" fill="#2a3ad8"/><rect x="1378.0" y="1775.8" width="1.2" height="1.2" fill="#2a3ad8"/><rect x="1381.7" y="1725.8" width="1.2" height="1.2" fill="#2a3ad8"/><rect x="1361.0" y="1656.3" width="1.2" height="1.2" fill="#2a3ad8"/><rect x="1377.5" y="1790.2" width="1.2" height="1.2" fill="#2a3ad8"/><rect x="1341.2" y="1761.2" width="1.2" height="1.2" fill="#2a3ad8"/><rect x="1337.4" y="1752.2" width="1.2" height="1.2" fill="#2a3ad8"/><rect x="1337.4" y="1753.2" width="1.2" height="1.2" fill="#2a3ad8"/><rect x="1339.6" y="1755.3" width="1.2" height="1.2" fill="#2a3ad8"/><rect x="1376.0" y="1791.0" width="1.2" height="1.2" fill="#2a3ad8"/><rect x="1337.8" y="1737.5" width="1.2" height="1.2" fill="#2a3ad8"/><rect x="1353.9" y="1640.4" width="1.2" height="1.2" fill="#2a3ad8"/><rect x="1342.1" y="1754.0" width="1.2" height="1.2" fill="#2a3ad8"/><rect x="1359.7" y="1664.5" width="1.2" height="1.2" fill="#2a3ad8"/><rect x="1364.0" y="1709.7" width="1.2" height="1.2" fill="#2a3ad8"/><rect x="1364.5" y="1688.7" width="1.2" height="1.2" fill="#2a3ad8"/><rect x="1360.4" y="1713.4" width="1.2" height="1.2" fill="#2a3ad8"/><rect x="1353.1" y="1642.0" width="1.2" height="1.2" fill="#2a3ad8"/><rect x="1357.4" y="1632.3" width="1.2" height="1.2" fill="#2a3ad8"/><rect x="1387.7" y="1721.5" width="1.2" height="1.2" fill="#2a3ad8"/><rect x="1394.2" y="1685.3" width="1.2" height="1.2" fill="#2a3ad8"/><rect x="1364.1" y="1701.0" width="1.2" height="1.2" fill="#2a3ad8"/><rect x="1367.7" y="1742.0" width="1.2" height="1.2" fill="#2a3ad8"/><rect x="1352.6" y="1669.5" width="1.2" height="1.2" fill="#2a3ad8"/><rect x="1368.5" y="1741.7" width="1.2" height="1.2" fill="#2a3ad8"/><rect x="1380.2" y="1776.4" width="1.2" height="1.2" fill="#2a3ad8"/><rect x="1386.2" y="1732.9" width="1.2" height="1.2" fill="#2a3ad8"/><rect x="1394.2" y="1673.0" width="1.2" height="1.2" fill="#2a3ad8"/><rect x="1348.0" y="1695.1" width="1.2" height="1.2" fill="#2a3ad8"/><rect x="1350.1" y="1672.1" width="1.2" height="1.2" fill="#2a3ad8"/><rect x="1342.3" y="1758.3" width="1.2" height="1.2" fill="#2a3ad8"/><rect x="1390.9" y="1689.2" width="1.2" height="1.2" fill="#2a3ad8"/><rect x="1352.1" y="1652.7" width="1.2" height="1.2" fill="#2a3ad8"/><rect x="1356.4" y="1662.5" width="1.2" height="1.2" fill="#2a3ad8"/><rect x="1383.1" y="1729.4" width="1.2" height="1.2" fill="#2a3ad8"/><rect x="1340.3" y="1757.5" width="1.2" height="1.2" fill="#2a3ad8"/><rect x="1358.1" y="1682.1" width="1.2" height="1.2" fill="#2a3ad8"/><rect x="1360.5" y="1694.6" width="1.2" height="1.2" fill="#2a3ad8"/><rect x="1341.0" y="1739.8" width="1.2" height="1.2" fill="#2a3ad8"/><rect x="1380.4" y="1753.4" width="1.2" height="1.2" fill="#2a3ad8"/><rect x="1352.9" y="1640.5" width="1.2" height="1.2" fill="#2a3ad8"/><rect x="1375.3" y="1766.9" width="1.2" height="1.2" fill="#2a3ad8"/><rect x="1351.0" y="1641.0" width="1.2" height="1.2" fill="#2a3ad8"/><rect x="1362.6" y="1699.0" width="1.2" height="1.2" fill="#2a3ad8"/><rect x="1342.7" y="1720.7" width="1.2" height="1.2" fill="#2a3ad8"/><rect x="1338.4" y="1747.0" width="1.2" height="1.2" fill="#2a3ad8"/><rect x="1350.7" y="1642.6" width="1.2" height="1.2" fill="#2a3ad8"/><rect x="1389.4" y="1711.2" width="1.2" height="1.2" fill="#2a3ad8"/><rect x="1351.3" y="1661.1" width="1.2" height="1.2" fill="#2a3ad8"/><rect x="1366.1" y="1697.2" width="1.2" height="1.2" fill="#2a3ad8"/><rect x="1393.1" y="1698.4" width="1.2" height="1.2" fill="#2a3ad8"/><rect x="1338.0" y="1756.3" width="1.2" height="1.2" fill="#2a3ad8"/><rect x="1390.2" y="1699.4" width="1.2" height="1.2" fill="#2a3ad8"/><rect x="1349.9" y="1657.3" width="1.2" height="1.2" fill="#2a3ad8"/><rect x="1351.1" y="1631.7" width="1.2" height="1.2" fill="#2a3ad8"/><rect x="1343.4" y="1744.3" width="1.2" height="1.2" fill="#2a3ad8"/><rect x="1389.9" y="1702.9" width="1.2" height="1.2" fill="#2a3ad8"/><rect x="1339.8" y="1743.7" width="1.2" height="1.2" fill="#2a3ad8"/><rect x="1361.6" y="1674.1" width="1.2" height="1.2" fill="#2a3ad8"/><rect x="1381.8" y="1763.9" width="1.2" height="1.2" fill="#2a3ad8"/><rect x="1376.5" y="1779.4" width="1.2" height="1.2" fill="#2a3ad8"/><rect x="1347.5" y="1673.0" width="1.2" height="1.2" fill="#2a3ad8"/><rect x="1351.7" y="1654.9" width="1.2" height="1.2" fill="#2a3ad8"/><rect x="1352.6" y="1661.7" width="1.2" height="1.2" fill="#2a3ad8"/><rect x="1343.1" y="1723.0" width="1.2" height="1.2" fill="#2a3ad8"/><rect x="1359.0" y="1653.4" width="1.2" height="1.2" fill="#2a3ad8"/><rect x="1370.1" y="1777.1" width="1.2" height="1.2" fill="#2a3ad8"/><rect x="1394.1" y="1677.1" width="1.2" height="1.2" fill="#2a3ad8"/><rect x="1387.3" y="1713.2" width="1.2" height="1.2" fill="#2a3ad8"/><rect x="1365.1" y="1703.1" width="1.2" height="1.2" fill="#2a3ad8"/><rect x="1358.9" y="1674.7" width="1.2" height="1.2" fill="#2a3ad8"/><rect x="1387.3" y="1706.5" width="1.2" height="1.2" fill="#2a3ad8"/><rect x="1351.0" y="1678.2" width="1.2" height="1.2" fill="#2a3ad8"/><rect x="1347.6" y="1700.3" width="1.2" height="1.2" fill="#2a3ad8"/><rect x="1384.9" y="1748.8" width="1.2" height="1.2" fill="#2a3ad8"/><rect x="1385.5" y="1702.2" width="1.2" height="1.2" fill="#2a3ad8"/><rect x="1360.3" y="1647.1" width="1.2" height="1.2" fill="#2a3ad8"/><rect x="1362.5" y="1675.2" width="1.2" height="1.2" fill="#2a3ad8"/><rect x="1344.3" y="1724.3" width="1.2" height="1.2" fill="#2a3ad8"/><rect x="1385.3" y="1716.0" width="1.2" height="1.2" fill="#2a3ad8"/><rect x="1364.0" y="1704.9" width="1.2" height="1.2" fill="#2a3ad8"/><rect x="1381.0" y="1768.3" width="1.2" height="1.2" fill="#2a3ad8"/><rect x="1349.2" y="1691.7" width="1.2" height="1.2" fill="#2a3ad8"/><rect x="1340.0" y="1750.3" width="1.2" height="1.2" fill="#2a3ad8"/><rect x="1356.8" y="1642.1" width="1.2" height="1.2" fill="#2a3ad8"/><rect x="1390.1" y="1677.3" width="1.2" height="1.2" fill="#2a3ad8"/><rect x="1340.0" y="1750.8" width="1.2" height="1.2" fill="#2a3ad8"/><rect x="1366.8" y="1725.9" width="1.2" height="1.2" fill="#2a3ad8"/><rect x="1386.4" y="1717.0" width="1.2" height="1.2" fill="#2a3ad8"/><rect x="1382.0" y="1759.0" width="1.2" height="1.2" fill="#2a3ad8"/><rect x="1371.4" y="1756.4" width="1.2" height="1.2" fill="#2a3ad8"/><rect x="1386.6" y="1739.1" width="1.2" height="1.2" fill="#2a3ad8"/><rect x="1376.1" y="1789.9" width="1.2" height="1.2" fill="#2a3ad8"/><rect x="1356.1" y="1662.8" width="1.2" height="1.2" fill="#2a3ad8"/><rect x="1361.5" y="1656.3" width="1.2" height="1.2" fill="#2a3ad8"/><rect x="1357.6" y="1654.6" width="1.2" height="1.2" fill="#2a3ad8"/><rect x="1349.2" y="1636.4" width="1.2" height="1.2" fill="#2a3ad8"/><rect x="1384.2" y="1723.6" width="1.2" height="1.2" fill="#2a3ad8"/><rect x="1357.3" y="1656.5" width="1.2" height="1.2" fill="#2a3ad8"/><rect x="1340.9" y="1747.5" width="1.2" height="1.2" fill="#2a3ad8"/><rect x="1386.2" y="1722.3" width="1.2" height="1.2" fill="#2a3ad8"/><rect x="1340.2" y="1742.0" width="1.2" height="1.2" fill="#2a3ad8"/><rect x="1349.0" y="1643.3" width="1.2" height="1.2" fill="#2a3ad8"/><rect x="1347.3" y="1729.4" width="1.2" height="1.2" fill="#2a3ad8"/><rect x="1362.8" y="1710.6" width="1.2" height="1.2" fill="#2a3ad8"/><rect x="1372.7" y="1774.4" width="1.2" height="1.2" fill="#2a3ad8"/><rect x="1340.3" y="1734.1" width="1.2" height="1.2" fill="#2a3ad8"/><rect x="1369.0" y="1750.8" width="1.2" height="1.2" fill="#2a3ad8"/><rect x="1352.9" y="1642.4" width="1.2" height="1.2" fill="#2a3ad8"/><rect x="1392.9" y="1670.2" width="1.2" height="1.2" fill="#2a3ad8"/><rect x="1338.6" y="1753.4" width="1.2" height="1.2" fill="#2a3ad8"/><rect x="1352.8" y="1636.5" width="1.2" height="1.2" fill="#2a3ad8"/><rect x="1347.5" y="1733.0" width="1.2" height="1.2" fill="#2a3ad8"/><rect x="1389.1" y="1705.3" width="1.2" height="1.2" fill="#2a3ad8"/><rect x="1363.5" y="1673.6" width="1.2" height="1.2" fill="#2a3ad8"/><rect x="1353.4" y="1623.6" width="1.2" height="1.2" fill="#2a3ad8"/><rect x="1362.5" y="1676.5" width="1.2" height="1.2" fill="#2a3ad8"/><rect x="1343.2" y="1735.9" width="1.2" height="1.2" fill="#2a3ad8"/><rect x="1343.0" y="1751.8" width="1.2" height="1.2" fill="#2a3ad8"/><rect x="1350.9" y="1652.8" width="1.2" height="1.2" fill="#2a3ad8"/><rect x="1367.2" y="1729.2" width="1.2" height="1.2" fill="#2a3ad8"/><rect x="1393.0" y="1693.7" width="1.2" height="1.2" fill="#2a3ad8"/><rect x="1388.4" y="1735.6" width="1.2" height="1.2" fill="#2a3ad8"/><rect x="1352.6" y="1629.5" width="1.2" height="1.2" fill="#2a3ad8"/><rect x="1362.2" y="1721.5" width="1.2" height="1.2" fill="#2a3ad8"/><rect x="1374.5" y="1783.6" width="1.2" height="1.2" fill="#2a3ad8"/><rect x="1342.3" y="1749.2" width="1.2" height="1.2" fill="#2a3ad8"/><rect x="1362.1" y="1723.9" width="1.2" height="1.2" fill="#2a3ad8"/><rect x="1366.9" y="1741.9" width="1.2" height="1.2" fill="#2a3ad8"/><rect x="1340.3" y="1734.6" width="1.2" height="1.2" fill="#2a3ad8"/><rect x="1348.3" y="1684.7" width="1.2" height="1.2" fill="#2a3ad8"/><rect x="1360.3" y="1667.4" width="1.2" height="1.2" fill="#2a3ad8"/><rect x="1360.2" y="1648.2" width="1.2" height="1.2" fill="#2a3ad8"/><rect x="1352.7" y="1644.9" width="1.2" height="1.2" fill="#2a3ad8"/><rect x="1341.3" y="1754.0" width="1.2" height="1.2" fill="#2a3ad8"/><rect x="1361.2" y="1689.7" width="1.2" height="1.2" fill="#2a3ad8"/><rect x="1379.2" y="1765.7" width="1.2" height="1.2" fill="#2a3ad8"/><rect x="1385.4" y="1713.8" width="1.2" height="1.2" fill="#2a3ad8"/><rect x="1351.3" y="1630.6" width="1.2" height="1.2" fill="#2a3ad8"/><rect x="1357.9" y="1674.1" width="1.2" height="1.2" fill="#2a3ad8"/><rect x="1393.7" y="1656.0" width="1.2" height="1.2" fill="#2a3ad8"/><rect x="1391.4" y="1677.0" width="1.2" height="1.2" fill="#2a3ad8"/><rect x="1354.8" y="1643.9" width="1.2" height="1.2" fill="#2a3ad8"/><rect x="1339.1" y="1749.3" width="1.2" height="1.2" fill="#2a3ad8"/><rect x="1389.6" y="1674.8" width="1.2" height="1.2" fill="#2a3ad8"/><rect x="1354.5" y="1630.4" width="1.2" height="1.2" fill="#2a3ad8"/><rect x="1384.5" y="1732.4" width="1.2" height="1.2" fill="#2a3ad8"/><rect x="1357.3" y="1633.7" width="1.2" height="1.2" fill="#2a3ad8"/><rect x="1387.0" y="1714.1" width="1.2" height="1.2" fill="#2a3ad8"/><rect x="1354.2" y="1644.3" width="1.2" height="1.2" fill="#2a3ad8"/><rect x="1382.1" y="1770.3" width="1.2" height="1.2" fill="#2a3ad8"/><rect x="1357.9" y="1678.4" width="1.2" height="1.2" fill="#2a3ad8"/><rect x="1341.8" y="1718.5" width="1.2" height="1.2" fill="#2a3ad8"/><rect x="1356.3" y="1633.3" width="1.2" height="1.2" fill="#2a3ad8"/><rect x="1349.4" y="1638.6" width="1.2" height="1.2" fill="#2a3ad8"/><rect x="1355.2" y="1630.5" width="1.2" height="1.2" fill="#2a3ad8"/><rect x="1344.1" y="1744.2" width="1.2" height="1.2" fill="#2a3ad8"/><rect x="1371.2" y="1796.5" width="1.2" height="1.2" fill="#2a3ad8"/><rect x="1380.0" y="1779.1" width="1.2" height="1.2" fill="#2a3ad8"/><rect x="1375.5" y="1783.5" width="1.2" height="1.2" fill="#2a3ad8"/><rect x="1338.9" y="1751.8" width="1.2" height="1.2" fill="#2a3ad8"/><rect x="1386.7" y="1730.6" width="1.2" height="1.2" fill="#2a3ad8"/><rect x="1343.7" y="1709.0" width="1.2" height="1.2" fill="#2a3ad8"/><rect x="1384.4" y="1736.3" width="1.2" height="1.2" fill="#2a3ad8"/><rect x="1355.9" y="1692.1" width="1.2" height="1.2" fill="#2a3ad8"/><rect x="1359.3" y="1664.3" width="1.2" height="1.2" fill="#2a3ad8"/><rect x="1379.8" y="1764.3" width="1.2" height="1.2" fill="#2a3ad8"/><rect x="1337.5" y="1761.2" width="1.2" height="1.2" fill="#2a3ad8"/><rect x="1345.4" y="1736.1" width="1.2" height="1.2" fill="#2a3ad8"/><rect x="1385.4" y="1727.7" width="1.2" height="1.2" fill="#2a3ad8"/><rect x="1378.2" y="1768.9" width="1.2" height="1.2" fill="#2a3ad8"/><rect x="1391.7" y="1717.9" width="1.2" height="1.2" fill="#2a3ad8"/><rect x="1385.4" y="1734.7" width="1.2" height="1.2" fill="#2a3ad8"/><rect x="1354.2" y="1627.4" width="1.2" height="1.2" fill="#2a3ad8"/><rect x="1353.0" y="1621.2" width="1.2" height="1.2" fill="#2a3ad8"/><rect x="1367.2" y="1713.9" width="1.2" height="1.2" fill="#2a3ad8"/><rect x="1346.7" y="1703.6" width="1.2" height="1.2" fill="#2a3ad8"/><rect x="1392.2" y="1694.6" width="1.2" height="1.2" fill="#2a3ad8"/><rect x="1349.3" y="1671.7" width="1.2" height="1.2" fill="#2a3ad8"/><rect x="1389.3" y="1699.6" width="1.2" height="1.2" fill="#2a3ad8"/><rect x="1352.4" y="1648.0" width="1.2" height="1.2" fill="#2a3ad8"/><rect x="1359.6" y="1675.5" width="1.2" height="1.2" fill="#2a3ad8"/><rect x="1347.1" y="1727.5" width="1.2" height="1.2" fill="#2a3ad8"/><rect x="1355.2" y="1634.7" width="1.2" height="1.2" fill="#2a3ad8"/><rect x="1364.7" y="1717.9" width="1.2" height="1.2" fill="#2a3ad8"/><rect x="1352.2" y="1627.5" width="1.2" height="1.2" fill="#2a3ad8"/><rect x="1356.0" y="1646.5" width="1.2" height="1.2" fill="#2a3ad8"/><rect x="1353.1" y="1621.6" width="1.2" height="1.2" fill="#2a3ad8"/><rect x="1392.5" y="1697.9" width="1.2" height="1.2" fill="#2a3ad8"/><rect x="1353.1" y="1639.1" width="1.2" height="1.2" fill="#2a3ad8"/><rect x="1343.7" y="1729.6" width="1.2" height="1.2" fill="#2a3ad8"/><rect x="1347.8" y="1686.6" width="1.2" height="1.2" fill="#2a3ad8"/><rect x="1348.6" y="1644.1" width="1.2" height="1.2" fill="#2a3ad8"/><rect x="1387.0" y="1715.6" width="1.2" height="1.2" fill="#2a3ad8"/><rect x="1343.6" y="1697.5" width="1.2" height="1.2" fill="#2a3ad8"/><rect x="1385.3" y="1761.3" width="1.2" height="1.2" fill="#2a3ad8"/><rect x="1342.3" y="1754.0" width="1.2" height="1.2" fill="#2a3ad8"/><rect x="1359.5" y="1644.9" width="1.2" height="1.2" fill="#2a3ad8"/><rect x="1345.6" y="1732.1" width="1.2" height="1.2" fill="#2a3ad8"/><rect x="1362.7" y="1719.2" width="1.2" height="1.2" fill="#2a3ad8"/><rect x="1351.0" y="1652.8" width="1.2" height="1.2" fill="#2a3ad8"/><rect x="1347.9" y="1686.9" width="1.2" height="1.2" fill="#2a3ad8"/><rect x="1346.8" y="1734.3" width="1.2" height="1.2" fill="#2a3ad8"/><rect x="1346.6" y="1722.4" width="1.2" height="1.2" fill="#2a3ad8"/><rect x="1350.1" y="1688.7" width="1.2" height="1.2" fill="#2a3ad8"/><rect x="1371.3" y="1763.5" width="1.2" height="1.2" fill="#2a3ad8"/><rect x="1340.8" y="1738.9" width="1.2" height="1.2" fill="#2a3ad8"/><rect x="1337.7" y="1742.2" width="1.2" height="1.2" fill="#2a3ad8"/><rect x="1358.2" y="1636.3" width="1.2" height="1.2" fill="#2a3ad8"/><rect x="1355.5" y="1633.8" width="1.2" height="1.2" fill="#2a3ad8"/><rect x="1338.8" y="1750.6" width="1.2" height="1.2" fill="#2a3ad8"/><rect x="1338.2" y="1760.6" width="1.2" height="1.2" fill="#2a3ad8"/><rect x="1355.7" y="1627.7" width="1.2" height="1.2" fill="#2a3ad8"/><rect x="1384.4" y="1701.4" width="1.2" height="1.2" fill="#2a3ad8"/><rect x="1364.1" y="1702.9" width="1.2" height="1.2" fill="#2a3ad8"/><rect x="1367.9" y="1720.5" width="1.2" height="1.2" fill="#2a3ad8"/><rect x="1350.3" y="1644.0" width="1.2" height="1.2" fill="#2a3ad8"/><rect x="1379.2" y="1771.4" width="1.2" height="1.2" fill="#2a3ad8"/><rect x="1381.5" y="1753.2" width="1.2" height="1.2" fill="#2a3ad8"/><rect x="1382.9" y="1719.9" width="1.2" height="1.2" fill="#2a3ad8"/><rect x="1381.4" y="1736.1" width="1.2" height="1.2" fill="#2a3ad8"/><rect x="1374.5" y="1789.8" width="1.2" height="1.2" fill="#2a3ad8"/><rect x="1368.2" y="1765.2" width="1.2" height="1.2" fill="#2a3ad8"/><rect x="1384.2" y="1731.9" width="1.2" height="1.2" fill="#2a3ad8"/><rect x="1341.1" y="1730.8" width="1.2" height="1.2" fill="#2a3ad8"/><rect x="1384.5" y="1735.7" width="1.2" height="1.2" fill="#2a3ad8"/><rect x="1383.9" y="1742.2" width="1.2" height="1.2" fill="#2a3ad8"/><rect x="1368.6" y="1750.3" width="1.2" height="1.2" fill="#2a3ad8"/><rect x="1380.0" y="1788.8" width="1.2" height="1.2" fill="#2a3ad8"/><rect x="1376.6" y="1771.4" width="1.2" height="1.2" fill="#2a3ad8"/><rect x="1359.0" y="1652.0" width="1.2" height="1.2" fill="#2a3ad8"/><rect x="1370.2" y="1738.4" width="1.2" height="1.2" fill="#2a3ad8"/><rect x="1383.8" y="1731.2" width="1.2" height="1.2" fill="#2a3ad8"/><rect x="1362.3" y="1689.8" width="1.2" height="1.2" fill="#2a3ad8"/><rect x="1343.8" y="1735.6" width="1.2" height="1.2" fill="#2a3ad8"/><rect x="1352.5" y="1636.4" width="1.2" height="1.2" fill="#2a3ad8"/><rect x="1370.2" y="1742.8" width="1.2" height="1.2" fill="#2a3ad8"/><rect x="1393.3" y="1690.0" width="1.2" height="1.2" fill="#2a3ad8"/><rect x="1347.6" y="1690.0" width="1.2" height="1.2" fill="#2a3ad8"/><rect x="1358.8" y="1662.0" width="1.2" height="1.2" fill="#2a3ad8"/><rect x="1370.1" y="1764.0" width="1.2" height="1.2" fill="#2a3ad8"/><rect x="1347.0" y="1686.2" width="1.2" height="1.2" fill="#2a3ad8"/><rect x="1352.7" y="1631.4" width="1.2" height="1.2" fill="#2a3ad8"/><rect x="1382.6" y="1739.6" width="1.2" height="1.2" fill="#2a3ad8"/><rect x="1393.6" y="1687.7" width="1.2" height="1.2" fill="#2a3ad8"/><rect x="1383.6" y="1706.4" width="1.2" height="1.2" fill="#2a3ad8"/><rect x="1359.1" y="1630.2" width="1.2" height="1.2" fill="#2a3ad8"/><rect x="1355.7" y="1626.3" width="1.2" height="1.2" fill="#2a3ad8"/><rect x="1379.4" y="1790.5" width="1.2" height="1.2" fill="#2a3ad8"/><rect x="1356.3" y="1642.5" width="1.2" height="1.2" fill="#2a3ad8"/><rect x="1348.8" y="1718.7" width="1.2" height="1.2" fill="#2a3ad8"/><rect x="1372.0" y="1751.5" width="1.2" height="1.2" fill="#2a3ad8"/><rect x="1340.7" y="1724.2" width="1.2" height="1.2" fill="#2a3ad8"/><rect x="1363.7" y="1688.9" width="1.2" height="1.2" fill="#2a3ad8"/><rect x="1368.4" y="1742.7" width="1.2" height="1.2" fill="#2a3ad8"/><rect x="1342.5" y="1754.0" width="1.2" height="1.2" fill="#2a3ad8"/><rect x="1338.1" y="1752.3" width="1.2" height="1.2" fill="#2a3ad8"/><rect x="1366.6" y="1716.0" width="1.2" height="1.2" fill="#2a3ad8"/><rect x="1344.6" y="1736.3" width="1.2" height="1.2" fill="#2a3ad8"/><rect x="1392.9" y="1679.8" width="1.2" height="1.2" fill="#2a3ad8"/><rect x="1353.7" y="1635.7" width="1.2" height="1.2" fill="#2a3ad8"/><rect x="1390.4" y="1705.7" width="1.2" height="1.2" fill="#2a3ad8"/><rect x="1364.0" y="1717.2" width="1.2" height="1.2" fill="#2a3ad8"/><rect x="1356.6" y="1648.6" width="1.2" height="1.2" fill="#2a3ad8"/><rect x="1371.9" y="1767.5" width="1.2" height="1.2" fill="#2a3ad8"/><rect x="1357.4" y="1632.4" width="1.2" height="1.2" fill="#2a3ad8"/><rect x="1366.4" y="1708.6" width="1.2" height="1.2" fill="#2a3ad8"/><rect x="1366.4" y="1717.1" width="1.2" height="1.2" fill="#2a3ad8"/><rect x="1349.5" y="1657.5" width="1.2" height="1.2" fill="#2a3ad8"/><rect x="1371.9" y="1746.1" width="1.2" height="1.2" fill="#2a3ad8"/><rect x="1392.0" y="1675.8" width="1.2" height="1.2" fill="#2a3ad8"/><rect x="1382.4" y="1747.8" width="1.2" height="1.2" fill="#2a3ad8"/><rect x="1368.1" y="1721.3" width="1.2" height="1.2" fill="#2a3ad8"/><rect x="1352.2" y="1632.7" width="1.2" height="1.2" fill="#2a3ad8"/><rect x="1387.1" y="1712.9" width="1.2" height="1.2" fill="#2a3ad8"/><rect x="1364.6" y="1718.9" width="1.2" height="1.2" fill="#2a3ad8"/><rect x="1345.7" y="1720.0" width="1.2" height="1.2" fill="#2a3ad8"/><rect x="1389.2" y="1710.6" width="1.2" height="1.2" fill="#2a3ad8"/><rect x="1382.1" y="1730.7" width="1.2" height="1.2" fill="#2a3ad8"/><rect x="1371.6" y="1791.9" width="1.2" height="1.2" fill="#2a3ad8"/><rect x="1355.8" y="1640.2" width="1.2" height="1.2" fill="#2a3ad8"/><rect x="1346.0" y="1709.1" width="1.2" height="1.2" fill="#2a3ad8"/><rect x="1357.3" y="1629.3" width="1.2" height="1.2" fill="#2a3ad8"/><rect x="1341.1" y="1755.5" width="1.2" height="1.2" fill="#2a3ad8"/><rect x="1368.1" y="1734.1" width="1.2" height="1.2" fill="#2a3ad8"/><rect x="1362.7" y="1668.4" width="1.2" height="1.2" fill="#2a3ad8"/><rect x="1352.5" y="1632.6" width="1.2" height="1.2" fill="#2a3ad8"/><rect x="1393.2" y="1671.1" width="1.2" height="1.2" fill="#2a3ad8"/><rect x="1364.3" y="1651.9" width="1.2" height="1.2" fill="#2a3ad8"/><rect x="1373.5" y="1781.6" width="1.2" height="1.2" fill="#2a3ad8"/><rect x="1349.1" y="1689.3" width="1.2" height="1.2" fill="#2a3ad8"/><rect x="1356.2" y="1657.1" width="1.2" height="1.2" fill="#2a3ad8"/><rect x="1370.3" y="1774.4" width="1.2" height="1.2" fill="#2a3ad8"/><rect x="1348.7" y="1648.9" width="1.2" height="1.2" fill="#2a3ad8"/><rect x="1372.8" y="1784.3" width="1.2" height="1.2" fill="#2a3ad8"/><rect x="1352.1" y="1617.9" width="1.2" height="1.2" fill="#2a3ad8"/><rect x="1354.1" y="1648.1" width="1.2" height="1.2" fill="#2a3ad8"/><rect x="1349.0" y="1691.9" width="1.2" height="1.2" fill="#2a3ad8"/><rect x="1388.5" y="1720.9" width="1.2" height="1.2" fill="#2a3ad8"/><rect x="1394.8" y="1692.9" width="1.2" height="1.2" fill="#2a3ad8"/><rect x="1370.7" y="1765.5" width="1.2" height="1.2" fill="#2a3ad8"/><rect x="1340.1" y="1753.9" width="1.2" height="1.2" fill="#2a3ad8"/><rect x="1384.3" y="1723.2" width="1.2" height="1.2" fill="#2a3ad8"/><rect x="1344.6" y="1736.8" width="1.2" height="1.2" fill="#2a3ad8"/><rect x="1347.8" y="1678.2" width="1.2" height="1.2" fill="#2a3ad8"/><rect x="1385.3" y="1723.5" width="1.2" height="1.2" fill="#2a3ad8"/><rect x="1341.2" y="1749.3" width="1.2" height="1.2" fill="#2a3ad8"/><rect x="1356.3" y="1637.0" width="1.2" height="1.2" fill="#2a3ad8"/><rect x="1350.2" y="1686.6" width="1.2" height="1.2" fill="#2a3ad8"/><rect x="1351.7" y="1636.8" width="1.2" height="1.2" fill="#2a3ad8"/><rect x="1350.3" y="1633.3" width="1.2" height="1.2" fill="#2a3ad8"/><rect x="1340.2" y="1758.1" width="1.2" height="1.2" fill="#2a3ad8"/><rect x="1393.5" y="1669.9" width="1.2" height="1.2" fill="#2a3ad8"/><rect x="1348.1" y="1725.6" width="1.2" height="1.2" fill="#2a3ad8"/><rect x="1340.6" y="1753.3" width="1.2" height="1.2" fill="#2a3ad8"/><rect x="1380.0" y="1761.6" width="1.2" height="1.2" fill="#2a3ad8"/><rect x="1352.6" y="1653.0" width="1.2" height="1.2" fill="#2a3ad8"/><rect x="1337.5" y="1757.9" width="1.2" height="1.2" fill="#2a3ad8"/><rect x="1341.6" y="1746.0" width="1.2" height="1.2" fill="#2a3ad8"/><rect x="1352.1" y="1633.2" width="1.2" height="1.2" fill="#2a3ad8"/><rect x="1343.7" y="1717.6" width="1.2" height="1.2" fill="#2a3ad8"/><rect x="1360.5" y="1684.7" width="1.2" height="1.2" fill="#2a3ad8"/><rect x="1373.4" y="1782.9" width="1.2" height="1.2" fill="#2a3ad8"/><rect x="1348.5" y="1709.2" width="1.2" height="1.2" fill="#2a3ad8"/><rect x="1390.2" y="1707.4" width="1.2" height="1.2" fill="#2a3ad8"/><rect x="1365.9" y="1719.6" width="1.2" height="1.2" fill="#2a3ad8"/><rect x="1344.2" y="1721.1" width="1.2" height="1.2" fill="#2a3ad8"/><rect x="1380.3" y="1746.8" width="1.2" height="1.2" fill="#2a3ad8"/><rect x="1386.2" y="1729.1" width="1.2" height="1.2" fill="#2a3ad8"/><rect x="1370.0" y="1747.3" width="1.2" height="1.2" fill="#2a3ad8"/><rect x="1390.3" y="1706.4" width="1.2" height="1.2" fill="#2a3ad8"/><rect x="1392.7" y="1659.1" width="1.2" height="1.2" fill="#2a3ad8"/><rect x="1383.5" y="1731.8" width="1.2" height="1.2" fill="#2a3ad8"/><rect x="1377.7" y="1772.0" width="1.2" height="1.2" fill="#2a3ad8"/><rect x="1394.4" y="1664.1" width="1.2" height="1.2" fill="#2a3ad8"/><rect x="1355.4" y="1646.7" width="1.2" height="1.2" fill="#2a3ad8"/><rect x="1367.0" y="1753.3" width="1.2" height="1.2" fill="#2a3ad8"/><rect x="1337.2" y="1757.0" width="1.2" height="1.2" fill="#2a3ad8"/><rect x="1380.9" y="1726.5" width="1.2" height="1.2" fill="#2a3ad8"/><rect x="1343.5" y="1740.0" width="1.2" height="1.2" fill="#2a3ad8"/><rect x="1380.5" y="1739.0" width="1.2" height="1.2" fill="#2a3ad8"/><rect x="1335.5" y="1745.6" width="1.2" height="1.2" fill="#2a3ad8"/><rect x="1390.3" y="1674.0" width="1.2" height="1.2" fill="#2a3ad8"/><rect x="1348.4" y="1696.4" width="1.2" height="1.2" fill="#2a3ad8"/><rect x="1370.7" y="1744.8" width="1.2" height="1.2" fill="#2a3ad8"/><rect x="1354.8" y="1633.8" width="1.2" height="1.2" fill="#2a3ad8"/><rect x="1374.0" y="1789.7" width="1.2" height="1.2" fill="#2a3ad8"/><rect x="1341.4" y="1759.1" width="1.2" height="1.2" fill="#2a3ad8"/><rect x="1359.7" y="1678.4" width="1.2" height="1.2" fill="#2a3ad8"/><rect x="1381.8" y="1760.4" width="1.2" height="1.2" fill="#2a3ad8"/><rect x="1360.5" y="1665.7" width="1.2" height="1.2" fill="#2a3ad8"/><rect x="1352.6" y="1637.7" width="1.2" height="1.2" fill="#2a3ad8"/><rect x="1337.8" y="1761.7" width="1.2" height="1.2" fill="#2a3ad8"/><rect x="1373.1" y="1738.9" width="1.2" height="1.2" fill="#2a3ad8"/><rect x="1378.7" y="1739.3" width="1.2" height="1.2" fill="#2a3ad8"/><rect x="1373.1" y="1785.4" width="1.2" height="1.2" fill="#2a3ad8"/><rect x="1358.3" y="1640.1" width="1.2" height="1.2" fill="#2a3ad8"/><rect x="1368.4" y="1731.2" width="1.2" height="1.2" fill="#2a3ad8"/><rect x="1391.5" y="1702.7" width="1.2" height="1.2" fill="#2a3ad8"/><rect x="1383.4" y="1746.7" width="1.2" height="1.2" fill="#2a3ad8"/><rect x="1389.6" y="1707.5" width="1.2" height="1.2" fill="#2a3ad8"/><rect x="1383.2" y="1745.1" width="1.2" height="1.2" fill="#2a3ad8"/><rect x="1377.2" y="1785.7" width="1.2" height="1.2" fill="#2a3ad8"/><rect x="1336.8" y="1752.9" width="1.2" height="1.2" fill="#2a3ad8"/><rect x="1353.8" y="1623.9" width="1.2" height="1.2" fill="#2a3ad8"/><rect x="1339.0" y="1756.4" width="1.2" height="1.2" fill="#2a3ad8"/><rect x="1358.0" y="1634.0" width="1.2" height="1.2" fill="#2a3ad8"/><rect x="1343.0" y="1762.2" width="1.2" height="1.2" fill="#2a3ad8"/><rect x="1386.0" y="1717.4" width="1.2" height="1.2" fill="#2a3ad8"/><rect x="1377.8" y="1776.9" width="1.2" height="1.2" fill="#2a3ad8"/><rect x="1347.6" y="1703.2" width="1.2" height="1.2" fill="#2a3ad8"/><rect x="1355.0" y="1636.6" width="1.2" height="1.2" fill="#2a3ad8"/><rect x="1341.2" y="1763.1" width="1.2" height="1.2" fill="#2a3ad8"/><rect x="1360.3" y="1682.6" width="1.2" height="1.2" fill="#2a3ad8"/><rect x="1368.5" y="1727.5" width="1.2" height="1.2" fill="#2a3ad8"/><rect x="1346.3" y="1723.3" width="1.2" height="1.2" fill="#2a3ad8"/><rect x="1380.1" y="1776.5" width="1.2" height="1.2" fill="#2a3ad8"/><rect x="1392.4" y="1663.6" width="1.2" height="1.2" fill="#2a3ad8"/><rect x="1373.8" y="1766.9" width="1.2" height="1.2" fill="#2a3ad8"/><rect x="1391.0" y="1688.5" width="1.2" height="1.2" fill="#2a3ad8"/><rect x="1365.8" y="1702.1" width="1.2" height="1.2" fill="#2a3ad8"/><rect x="1357.8" y="1638.2" width="1.2" height="1.2" fill="#2a3ad8"/><rect x="1389.5" y="1701.5" width="1.2" height="1.2" fill="#2a3ad8"/><rect x="1360.7" y="1644.2" width="1.2" height="1.2" fill="#2a3ad8"/><rect x="1341.6" y="1721.0" width="1.2" height="1.2" fill="#2a3ad8"/><rect x="1392.4" y="1670.2" width="1.2" height="1.2" fill="#2a3ad8"/><rect x="1349.8" y="1656.3" width="1.2" height="1.2" fill="#2a3ad8"/><rect x="1390.8" y="1685.5" width="1.2" height="1.2" fill="#2a3ad8"/><rect x="1355.2" y="1650.6" width="1.2" height="1.2" fill="#2a3ad8"/><rect x="1349.2" y="1680.2" width="1.2" height="1.2" fill="#2a3ad8"/><rect x="1367.1" y="1711.6" width="1.2" height="1.2" fill="#2a3ad8"/><rect x="1359.1" y="1669.7" width="1.2" height="1.2" fill="#2a3ad8"/><rect x="1339.8" y="1750.5" width="1.2" height="1.2" fill="#2a3ad8"/><rect x="1359.7" y="1690.1" width="1.2" height="1.2" fill="#2a3ad8"/><rect x="1381.0" y="1730.3" width="1.2" height="1.2" fill="#2a3ad8"/><rect x="1384.0" y="1727.2" width="1.2" height="1.2" fill="#2a3ad8"/><rect x="1357.4" y="1635.4" width="1.2" height="1.2" fill="#2a3ad8"/><rect x="1378.9" y="1738.9" width="1.2" height="1.2" fill="#2a3ad8"/><rect x="1391.2" y="1719.4" width="1.2" height="1.2" fill="#2a3ad8"/><rect x="1392.0" y="1673.9" width="1.2" height="1.2" fill="#2a3ad8"/><rect x="1351.5" y="1629.6" width="1.2" height="1.2" fill="#2a3ad8"/><rect x="1383.0" y="1754.2" width="1.2" height="1.2" fill="#2a3ad8"/><rect x="1387.0" y="1718.8" width="1.2" height="1.2" fill="#2a3ad8"/><rect x="1354.3" y="1657.7" width="1.2" height="1.2" fill="#2a3ad8"/><rect x="1354.1" y="1639.1" width="1.2" height="1.2" fill="#2a3ad8"/><rect x="1379.9" y="1768.2" width="1.2" height="1.2" fill="#2a3ad8"/><rect x="1344.1" y="1730.8" width="1.2" height="1.2" fill="#2a3ad8"/><rect x="1364.0" y="1661.9" width="1.2" height="1.2" fill="#2a3ad8"/><rect x="1354.1" y="1657.3" width="1.2" height="1.2" fill="#2a3ad8"/><rect x="1385.5" y="1722.1" width="1.2" height="1.2" fill="#2a3ad8"/><rect x="1371.5" y="1758.9" width="1.2" height="1.2" fill="#2a3ad8"/><rect x="1359.6" y="1630.0" width="1.2" height="1.2" fill="#2a3ad8"/><rect x="1375.2" y="1782.5" width="1.2" height="1.2" fill="#2a3ad8"/><rect x="1341.8" y="1758.2" width="1.2" height="1.2" fill="#2a3ad8"/><rect x="1353.1" y="1626.2" width="1.2" height="1.2" fill="#2a3ad8"/><rect x="1370.4" y="1763.3" width="1.2" height="1.2" fill="#2a3ad8"/><rect x="1349.4" y="1650.8" width="1.2" height="1.2" fill="#2a3ad8"/><rect x="1357.9" y="1644.1" width="1.2" height="1.2" fill="#2a3ad8"/><rect x="1341.4" y="1757.5" width="1.2" height="1.2" fill="#2a3ad8"/><rect x="1355.9" y="1638.0" width="1.2" height="1.2" fill="#2a3ad8"/><rect x="1359.3" y="1645.2" width="1.2" height="1.2" fill="#2a3ad8"/><rect x="1388.0" y="1712.2" width="1.2" height="1.2" fill="#2a3ad8"/><rect x="1361.5" y="1688.5" width="1.2" height="1.2" fill="#2a3ad8"/><rect x="1381.0" y="1729.5" width="1.2" height="1.2" fill="#2a3ad8"/><rect x="1378.4" y="1770.1" width="1.2" height="1.2" fill="#2a3ad8"/><rect x="1339.8" y="1752.2" width="1.2" height="1.2" fill="#2a3ad8"/><rect x="1337.9" y="1751.7" width="1.2" height="1.2" fill="#2a3ad8"/><rect x="1345.4" y="1712.2" width="1.2" height="1.2" fill="#2a3ad8"/><rect x="1373.8" y="1766.6" width="1.2" height="1.2" fill="#2a3ad8"/><rect x="1367.9" y="1765.3" width="1.2" height="1.2" fill="#2a3ad8"/><rect x="1373.3" y="1773.3" width="1.2" height="1.2" fill="#2a3ad8"/><rect x="1355.4" y="1636.8" width="1.2" height="1.2" fill="#2a3ad8"/><rect x="1374.9" y="1773.0" width="1.2" height="1.2" fill="#2a3ad8"/><rect x="1380.0" y="1828.5" width="1.2" height="1.2" fill="#2a3ad8"/><rect x="1375.0" y="1763.6" width="1.2" height="1.2" fill="#2a3ad8"/><rect x="1374.0" y="1794.1" width="1.2" height="1.2" fill="#2a3ad8"/><rect x="1373.9" y="1772.5" width="1.2" height="1.2" fill="#2a3ad8"/><rect x="1376.4" y="1766.8" width="1.2" height="1.2" fill="#2a3ad8"/><rect x="1372.5" y="1832.2" width="1.2" height="1.2" fill="#2a3ad8"/><rect x="1376.3" y="1776.7" width="1.2" height="1.2" fill="#2a3ad8"/><rect x="1375.3" y="1765.1" width="1.2" height="1.2" fill="#2a3ad8"/><rect x="1373.8" y="1839.5" width="1.2" height="1.2" fill="#2a3ad8"/><rect x="1373.1" y="1782.9" width="1.2" height="1.2" fill="#2a3ad8"/><rect x="1373.7" y="1801.4" width="1.2" height="1.2" fill="#2a3ad8"/><rect x="1374.5" y="1770.3" width="1.2" height="1.2" fill="#2a3ad8"/><rect x="1370.1" y="1787.0" width="1.2" height="1.2" fill="#2a3ad8"/><rect x="1375.6" y="1810.4" width="1.2" height="1.2" fill="#2a3ad8"/><rect x="1379.6" y="1826.9" width="1.2" height="1.2" fill="#2a3ad8"/><rect x="1378.5" y="1800.5" width="1.2" height="1.2" fill="#2a3ad8"/><rect x="1374.6" y="1840.9" width="1.2" height="1.2" fill="#2a3ad8"/><rect x="1373.0" y="1795.0" width="1.2" height="1.2" fill="#2a3ad8"/><rect x="1370.4" y="1763.8" width="1.2" height="1.2" fill="#2a3ad8"/><rect x="1372.3" y="1775.3" width="1.2" height="1.2" fill="#2a3ad8"/><rect x="1370.6" y="1788.3" width="1.2" height="1.2" fill="#2a3ad8"/><rect x="1378.7" y="1838.4" width="1.2" height="1.2" fill="#2a3ad8"/><rect x="1369.7" y="1769.3" width="1.2" height="1.2" fill="#2a3ad8"/><rect x="1372.7" y="1799.9" width="1.2" height="1.2" fill="#2a3ad8"/><rect x="1373.2" y="1794.6" width="1.2" height="1.2" fill="#2a3ad8"/><rect x="1377.5" y="1805.7" width="1.2" height="1.2" fill="#2a3ad8"/><rect x="1378.1" y="1785.9" width="1.2" height="1.2" fill="#2a3ad8"/><rect x="1370.5" y="1811.7" width="1.2" height="1.2" fill="#2a3ad8"/><rect x="1375.6" y="1760.9" width="1.2" height="1.2" fill="#2a3ad8"/><rect x="1373.7" y="1764.2" width="1.2" height="1.2" fill="#2a3ad8"/><rect x="1371.9" y="1764.0" width="1.2" height="1.2" fill="#2a3ad8"/><rect x="1381.0" y="1760.5" width="1.2" height="1.2" fill="#2a3ad8"/><rect x="1375.6" y="1799.7" width="1.2" height="1.2" fill="#2a3ad8"/><rect x="1376.0" y="1854.4" width="1.2" height="1.2" fill="#2a3ad8"/><rect x="1373.2" y="1761.9" width="1.2" height="1.2" fill="#2a3ad8"/><rect x="1374.8" y="1809.3" width="1.2" height="1.2" fill="#2a3ad8"/><rect x="1374.4" y="1770.0" width="1.2" height="1.2" fill="#2a3ad8"/><rect x="1375.9" y="1804.7" width="1.2" height="1.2" fill="#2a3ad8"/><rect x="1376.1" y="1825.0" width="1.2" height="1.2" fill="#2a3ad8"/><rect x="1374.4" y="1773.3" width="1.2" height="1.2" fill="#2a3ad8"/><rect x="1374.7" y="1790.5" width="1.2" height="1.2" fill="#2a3ad8"/><rect x="1377.9" y="1786.4" width="1.2" height="1.2" fill="#2a3ad8"/><rect x="1374.0" y="1860.1" width="1.2" height="1.2" fill="#2a3ad8"/><rect x="1375.1" y="1820.5" width="1.2" height="1.2" fill="#2a3ad8"/><rect x="1379.0" y="1768.8" width="1.2" height="1.2" fill="#2a3ad8"/><rect x="1375.8" y="1770.1" width="1.2" height="1.2" fill="#2a3ad8"/><rect x="1374.7" y="1811.0" width="1.2" height="1.2" fill="#2a3ad8"/><rect x="1374.2" y="1772.9" width="1.2" height="1.2" fill="#2a3ad8"/><rect x="1372.5" y="1776.1" width="1.2" height="1.2" fill="#2a3ad8"/><rect x="1372.0" y="1793.1" width="1.2" height="1.2" fill="#2a3ad8"/><rect x="1373.7" y="1784.5" width="1.2" height="1.2" fill="#2a3ad8"/><rect x="1372.7" y="1766.6" width="1.2" height="1.2" fill="#2a3ad8"/><rect x="1377.1" y="1836.2" width="1.2" height="1.2" fill="#2a3ad8"/><rect x="1375.3" y="1776.1" width="1.2" height="1.2" fill="#2a3ad8"/><rect x="1379.3" y="1765.4" width="1.2" height="1.2" fill="#2a3ad8"/><rect x="1371.8" y="1814.8" width="1.2" height="1.2" fill="#2a3ad8"/><rect x="1375.1" y="1801.5" width="1.2" height="1.2" fill="#2a3ad8"/><rect x="1377.1" y="1767.5" width="1.2" height="1.2" fill="#2a3ad8"/><rect x="1374.5" y="1765.7" width="1.2" height="1.2" fill="#2a3ad8"/><rect x="1380.6" y="1777.3" width="1.2" height="1.2" fill="#2a3ad8"/><rect x="1375.4" y="1765.2" width="1.2" height="1.2" fill="#2a3ad8"/><rect x="1377.6" y="1773.2" width="1.2" height="1.2" fill="#2a3ad8"/><rect x="1378.3" y="1792.1" width="1.2" height="1.2" fill="#2a3ad8"/><rect x="1374.5" y="1765.8" width="1.2" height="1.2" fill="#2a3ad8"/><rect x="1376.4" y="1818.4" width="1.2" height="1.2" fill="#2a3ad8"/><rect x="1376.5" y="1763.0" width="1.2" height="1.2" fill="#2a3ad8"/><rect x="1373.8" y="1846.3" width="1.2" height="1.2" fill="#2a3ad8"/><rect x="1380.2" y="1806.4" width="1.2" height="1.2" fill="#2a3ad8"/><rect x="1374.0" y="1776.4" width="1.2" height="1.2" fill="#2a3ad8"/><rect x="1379.6" y="1760.2" width="1.2" height="1.2" fill="#2a3ad8"/><rect x="1374.5" y="1773.8" width="1.2" height="1.2" fill="#2a3ad8"/><rect x="1375.6" y="1767.8" width="1.2" height="1.2" fill="#2a3ad8"/><rect x="1371.8" y="1818.2" width="1.2" height="1.2" fill="#2a3ad8"/><rect x="1379.6" y="1764.2" width="1.2" height="1.2" fill="#2a3ad8"/><rect x="1374.7" y="1784.5" width="1.2" height="1.2" fill="#2a3ad8"/><rect x="1374.1" y="1760.7" width="1.2" height="1.2" fill="#2a3ad8"/><rect x="1376.8" y="1778.2" width="1.2" height="1.2" fill="#2a3ad8"/><rect x="1370.8" y="1798.6" width="1.2" height="1.2" fill="#2a3ad8"/><rect x="1375.9" y="1772.5" width="1.2" height="1.2" fill="#2a3ad8"/><rect x="1376.8" y="1815.2" width="1.2" height="1.2" fill="#2a3ad8"/><rect x="1374.3" y="1815.1" width="1.2" height="1.2" fill="#2a3ad8"/><rect x="1376.1" y="1761.4" width="1.2" height="1.2" fill="#2a3ad8"/><rect x="1371.3" y="1793.2" width="1.2" height="1.2" fill="#2a3ad8"/><rect x="1379.5" y="1809.5" width="1.2" height="1.2" fill="#2a3ad8"/><rect x="1375.8" y="1787.0" width="1.2" height="1.2" fill="#2a3ad8"/><rect x="1378.1" y="1805.8" width="1.2" height="1.2" fill="#2a3ad8"/><rect x="1379.1" y="1828.7" width="1.2" height="1.2" fill="#2a3ad8"/><rect x="1375.5" y="1762.6" width="1.2" height="1.2" fill="#2a3ad8"/><rect x="1377.8" y="1780.8" width="1.2" height="1.2" fill="#2a3ad8"/><rect x="1384.4" y="1743.7" width="1.2" height="1.2" fill="#2a3ad8"/><rect x="1388.7" y="1687.1" width="1.2" height="1.2" fill="#2a3ad8"/><rect x="1384.7" y="1663.4" width="1.2" height="1.2" fill="#2a3ad8"/><rect x="1389.0" y="1673.3" width="1.2" height="1.2" fill="#2a3ad8"/><rect x="1384.6" y="1723.0" width="1.2" height="1.2" fill="#2a3ad8"/><rect x="1386.7" y="1750.9" width="1.2" height="1.2" fill="#2a3ad8"/><rect x="1394.2" y="1707.1" width="1.2" height="1.2" fill="#2a3ad8"/><rect x="1392.5" y="1719.5" width="1.2" height="1.2" fill="#2a3ad8"/><rect x="1391.1" y="1674.0" width="1.2" height="1.2" fill="#2a3ad8"/><rect x="1392.3" y="1747.4" width="1.2" height="1.2" fill="#2a3ad8"/><rect x="1391.9" y="1697.5" width="1.2" height="1.2" fill="#2a3ad8"/><rect x="1385.3" y="1754.2" width="1.2" height="1.2" fill="#2a3ad8"/><rect x="1390.7" y="1717.6" width="1.2" height="1.2" fill="#2a3ad8"/><rect x="1385.8" y="1754.3" width="1.2" height="1.2" fill="#2a3ad8"/><rect x="1387.1" y="1693.0" width="1.2" height="1.2" fill="#2a3ad8"/><rect x="1387.8" y="1755.7" width="1.2" height="1.2" fill="#2a3ad8"/><rect x="1385.0" y="1745.3" width="1.2" height="1.2" fill="#2a3ad8"/><rect x="1391.1" y="1718.0" width="1.2" height="1.2" fill="#2a3ad8"/><rect x="1391.2" y="1731.5" width="1.2" height="1.2" fill="#2a3ad8"/><rect x="1385.6" y="1657.6" width="1.2" height="1.2" fill="#2a3ad8"/><rect x="1384.7" y="1693.0" width="1.2" height="1.2" fill="#2a3ad8"/><rect x="1384.9" y="1730.3" width="1.2" height="1.2" fill="#2a3ad8"/><rect x="1389.9" y="1658.1" width="1.2" height="1.2" fill="#2a3ad8"/><rect x="1384.8" y="1711.3" width="1.2" height="1.2" fill="#2a3ad8"/><rect x="1391.9" y="1721.3" width="1.2" height="1.2" fill="#2a3ad8"/><rect x="1389.6" y="1746.6" width="1.2" height="1.2" fill="#2a3ad8"/><rect x="1394.1" y="1699.5" width="1.2" height="1.2" fill="#2a3ad8"/><rect x="1393.9" y="1678.0" width="1.2" height="1.2" fill="#2a3ad8"/><rect x="1388.3" y="1726.6" width="1.2" height="1.2" fill="#2a3ad8"/><rect x="1385.9" y="1758.8" width="1.2" height="1.2" fill="#2a3ad8"/><rect x="1393.7" y="1744.7" width="1.2" height="1.2" fill="#2a3ad8"/><rect x="1389.1" y="1685.5" width="1.2" height="1.2" fill="#2a3ad8"/><rect x="1386.3" y="1692.7" width="1.2" height="1.2" fill="#2a3ad8"/><rect x="1392.6" y="1661.7" width="1.2" height="1.2" fill="#2a3ad8"/><rect x="1386.3" y="1688.6" width="1.2" height="1.2" fill="#2a3ad8"/><rect x="1387.7" y="1718.7" width="1.2" height="1.2" fill="#2a3ad8"/><rect x="1393.3" y="1658.0" width="1.2" height="1.2" fill="#2a3ad8"/><rect x="1385.0" y="1736.1" width="1.2" height="1.2" fill="#2a3ad8"/><rect x="1391.3" y="1684.3" width="1.2" height="1.2" fill="#2a3ad8"/><rect x="1386.9" y="1655.0" width="1.2" height="1.2" fill="#2a3ad8"/><rect x="1389.3" y="1742.1" width="1.2" height="1.2" fill="#2a3ad8"/><rect x="1384.6" y="1677.9" width="1.2" height="1.2" fill="#2a3ad8"/><rect x="1385.0" y="1714.2" width="1.2" height="1.2" fill="#2a3ad8"/><rect x="1384.7" y="1682.5" width="1.2" height="1.2" fill="#2a3ad8"/><rect x="1387.0" y="1752.4" width="1.2" height="1.2" fill="#2a3ad8"/><rect x="1394.3" y="1689.1" width="1.2" height="1.2" fill="#2a3ad8"/><rect x="1390.0" y="1669.4" width="1.2" height="1.2" fill="#2a3ad8"/><rect x="1388.1" y="1731.1" width="1.2" height="1.2" fill="#2a3ad8"/><rect x="1388.1" y="1668.3" width="1.2" height="1.2" fill="#2a3ad8"/><rect x="1391.3" y="1746.0" width="1.2" height="1.2" fill="#2a3ad8"/><rect x="1394.0" y="1668.2" width="1.2" height="1.2" fill="#2a3ad8"/><rect x="1392.4" y="1752.5" width="1.2" height="1.2" fill="#2a3ad8"/><rect x="1384.3" y="1721.3" width="1.2" height="1.2" fill="#2a3ad8"/><rect x="1393.8" y="1733.9" width="1.2" height="1.2" fill="#2a3ad8"/><rect x="1393.4" y="1676.5" width="1.2" height="1.2" fill="#2a3ad8"/><rect x="1393.8" y="1678.9" width="1.2" height="1.2" fill="#2a3ad8"/><rect x="1384.1" y="1661.0" width="1.2" height="1.2" fill="#2a3ad8"/><rect x="1388.2" y="1690.6" width="1.2" height="1.2" fill="#2a3ad8"/><rect x="1387.1" y="1702.0" width="1.2" height="1.2" fill="#2a3ad8"/><rect x="1389.4" y="1662.1" width="1.2" height="1.2" fill="#2a3ad8"/><rect x="1390.1" y="1704.1" width="1.2" height="1.2" fill="#2a3ad8"/><rect x="1388.5" y="1703.3" width="1.2" height="1.2" fill="#2a3ad8"/><rect x="1394.2" y="1750.1" width="1.2" height="1.2" fill="#2a3ad8"/><rect x="1388.7" y="1656.7" width="1.2" height="1.2" fill="#2a3ad8"/><rect x="1386.1" y="1679.3" width="1.2" height="1.2" fill="#2a3ad8"/><rect x="1388.9" y="1676.3" width="1.2" height="1.2" fill="#2a3ad8"/><rect x="1387.7" y="1656.3" width="1.2" height="1.2" fill="#2a3ad8"/><rect x="1389.6" y="1703.2" width="1.2" height="1.2" fill="#2a3ad8"/><rect x="1386.4" y="1717.2" width="1.2" height="1.2" fill="#2a3ad8"/><rect x="1388.1" y="1656.6" width="1.2" height="1.2" fill="#2a3ad8"/><rect x="1388.8" y="1656.2" width="1.2" height="1.2" fill="#2a3ad8"/><rect x="1389.7" y="1706.2" width="1.2" height="1.2" fill="#2a3ad8"/><rect x="1387.5" y="1661.2" width="1.2" height="1.2" fill="#2a3ad8"/><rect x="1389.3" y="1701.5" width="1.2" height="1.2" fill="#2a3ad8"/><rect x="1394.4" y="1736.4" width="1.2" height="1.2" fill="#2a3ad8"/><rect x="1385.4" y="1738.7" width="1.2" height="1.2" fill="#2a3ad8"/><rect x="1390.9" y="1660.8" width="1.2" height="1.2" fill="#2a3ad8"/><rect x="1387.1" y="1736.8" width="1.2" height="1.2" fill="#2a3ad8"/><rect x="1384.7" y="1727.4" width="1.2" height="1.2" fill="#2a3ad8"/><rect x="1389.2" y="1678.3" width="1.2" height="1.2" fill="#2a3ad8"/><rect x="1389.6" y="1719.0" width="1.2" height="1.2" fill="#2a3ad8"/><rect x="1392.9" y="1749.3" width="1.2" height="1.2" fill="#2a3ad8"/><rect x="1391.1" y="1725.6" width="1.2" height="1.2" fill="#2a3ad8"/><rect x="1384.4" y="1721.3" width="1.2" height="1.2" fill="#2a3ad8"/><rect x="1392.5" y="1723.1" width="1.2" height="1.2" fill="#2a3ad8"/><rect x="1385.5" y="1690.1" width="1.2" height="1.2" fill="#2a3ad8"/><rect x="1388.3" y="1747.6" width="1.2" height="1.2" fill="#2a3ad8"/><rect x="1387.5" y="1654.6" width="1.2" height="1.2" fill="#2a3ad8"/><rect x="1393.4" y="1722.2" width="1.2" height="1.2" fill="#2a3ad8"/><rect x="1391.2" y="1727.0" width="1.2" height="1.2" fill="#2a3ad8"/><rect x="1384.2" y="1700.4" width="1.2" height="1.2" fill="#2a3ad8"/><rect x="1392.0" y="1699.4" width="1.2" height="1.2" fill="#2a3ad8"/><rect x="1393.4" y="1681.4" width="1.2" height="1.2" fill="#2a3ad8"/><rect x="1394.7" y="1742.3" width="1.2" height="1.2" fill="#2a3ad8"/><rect x="1387.3" y="1684.5" width="1.2" height="1.2" fill="#2a3ad8"/><rect x="1386.2" y="1657.3" width="1.2" height="1.2" fill="#2a3ad8"/><rect x="1384.3" y="1668.2" width="1.2" height="1.2" fill="#2a3ad8"/><rect x="1388.0" y="1703.3" width="1.2" height="1.2" fill="#2a3ad8"/><rect x="1384.7" y="1691.1" width="1.2" height="1.2" fill="#2a3ad8"/><rect x="1393.4" y="1731.7" width="1.2" height="1.2" fill="#2a3ad8"/><rect x="1391.4" y="1673.3" width="1.2" height="1.2" fill="#2a3ad8"/><rect x="1394.0" y="1671.2" width="1.2" height="1.2" fill="#2a3ad8"/><rect x="1389.2" y="1684.1" width="1.2" height="1.2" fill="#2a3ad8"/><rect x="1392.6" y="1679.8" width="1.2" height="1.2" fill="#2a3ad8"/><rect x="1394.7" y="1733.1" width="1.2" height="1.2" fill="#2a3ad8"/><rect x="1384.3" y="1669.5" width="1.2" height="1.2" fill="#2a3ad8"/><rect x="1388.5" y="1728.0" width="1.2" height="1.2" fill="#2a3ad8"/><rect x="1390.3" y="1734.7" width="1.2" height="1.2" fill="#2a3ad8"/><rect x="1386.6" y="1742.1" width="1.2" height="1.2" fill="#2a3ad8"/><rect x="1385.7" y="1739.3" width="1.2" height="1.2" fill="#2a3ad8"/><rect x="1390.7" y="1702.3" width="1.2" height="1.2" fill="#2a3ad8"/><rect x="1390.0" y="1692.5" width="1.2" height="1.2" fill="#2a3ad8"/><rect x="1386.9" y="1711.8" width="1.2" height="1.2" fill="#2a3ad8"/><rect x="1387.0" y="1695.8" width="1.2" height="1.2" fill="#2a3ad8"/><rect x="1394.0" y="1759.8" width="1.2" height="1.2" fill="#2a3ad8"/><rect x="1385.5" y="1685.3" width="1.2" height="1.2" fill="#2a3ad8"/><rect x="1392.3" y="1668.5" width="1.2" height="1.2" fill="#2a3ad8"/><rect x="1388.7" y="1658.8" width="1.2" height="1.2" fill="#2a3ad8"/><rect x="1393.0" y="1736.9" width="1.2" height="1.2" fill="#2a3ad8"/></g>
<path d="M1085.9,1595.4 C1089.4,1596.8 1099.6,1600.2 1107.1,1603.7 C1114.6,1607.2 1122.8,1611.3 1130.7,1616.6 C1138.6,1621.9 1147.2,1628.8 1154.3,1635.5 C1161.4,1642.2 1167.6,1650.0 1173.1,1656.7 C1178.6,1663.4 1182.6,1670.5 1187.3,1675.6 C1192.0,1680.7 1197.1,1684.6 1201.4,1687.3 C1205.7,1690.0 1209.3,1690.5 1213.2,1691.6 C1217.1,1692.7 1220.7,1693.1 1225.0,1694.0 C1229.3,1694.9 1235.2,1696.9 1239.1,1697.2 C1243.0,1697.5 1245.0,1696.5 1248.5,1695.6 C1252.0,1694.7 1256.8,1691.8 1260.3,1692.0 C1263.8,1692.2 1266.2,1694.5 1269.2,1696.5 C1272.2,1698.5 1274.8,1702.8 1278.4,1704.2 C1282.0,1705.6 1286.9,1703.9 1290.7,1704.9 C1294.5,1705.9 1297.8,1708.4 1301.4,1710.3 C1305.0,1712.2 1309.5,1714.4 1312.1,1716.4 C1314.6,1718.5 1315.2,1719.3 1316.7,1722.6 C1318.2,1725.9 1319.2,1732.6 1321.3,1736.4 C1323.3,1740.2 1326.2,1742.3 1329.0,1745.6 C1331.8,1748.9 1336.3,1755.0 1338.2,1756.3 C1340.1,1757.6 1339.2,1760.4 1340.5,1753.3 C1341.8,1746.2 1344.2,1729.0 1345.9,1713.4 C1347.6,1697.8 1349.3,1673.9 1350.5,1659.7 C1351.7,1645.5 1352.3,1632.1 1353.3,1628.3 C1354.3,1624.5 1355.3,1627.6 1356.6,1636.7 C1357.9,1645.8 1359.7,1668.4 1361.2,1682.7 C1362.7,1697.0 1364.3,1709.8 1365.8,1722.6 C1367.3,1735.4 1368.6,1748.2 1370.4,1759.4 C1372.2,1770.7 1374.8,1791.4 1376.6,1790.1 C1378.4,1788.8 1379.7,1763.0 1381.2,1751.7 C1382.7,1740.5 1384.0,1731.5 1385.8,1722.6 C1387.6,1713.6 1390.3,1709.2 1391.9,1698.0 C1393.5,1686.8 1394.9,1662.2 1395.5,1655.1" fill="none" stroke="#1a1ad0" stroke-width="2"/>
<text x="1214.5" y="1590.6" font-size="39" font-style="italic" font-family='"Liberation Sans", sans-serif'>P</text>
<text x="1238" y="1597.1" font-size="27" font-style="italic" font-family='"Liberation Serif", serif' textLength="36" lengthAdjust="spacingAndGlyphs">Δr</text>
<line x1="1282.2" y1="1573" x2="1333" y2="1607.5" stroke="#000" stroke-width="2.5"/>
<polygon points="1347.4,1619.8 1327.5,1616 1337.5,1603" fill="#000"/>
</svg>
</body></html>
